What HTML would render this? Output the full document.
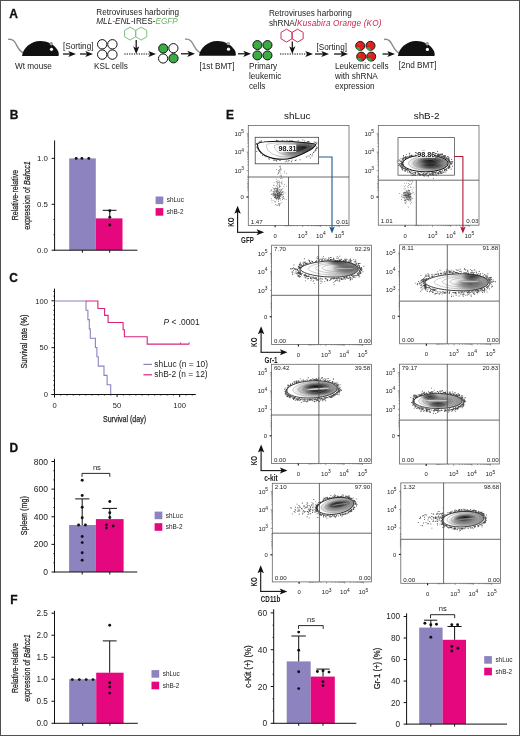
<!DOCTYPE html>
<html><head><meta charset="utf-8"><title>Figure</title>
<style>html,body{margin:0;padding:0;background:#fff;}body{width:520px;height:736px;overflow:hidden;font-family:"Liberation Sans",sans-serif;}svg{display:block;will-change:transform;}</style>
</head><body>
<svg width="520" height="736" viewBox="0 0 520 736" font-family="Liberation Sans, sans-serif"><defs><clipPath id="c1"><path d="M257.40,144.30 C257.40,142.50 267.91,141.30 283.68,141.30 C293.32,141.30 315.80,143.40 315.80,144.30 C315.80,148.80 293.32,159.30 283.68,159.30 C267.91,159.30 257.40,153.30 257.40,144.30 Z"/></clipPath><linearGradient id="l1" x1="257.4" x2="315.8" y1="0" y2="0" gradientUnits="userSpaceOnUse"><stop offset="0" stop-color="#fff"/><stop offset="0.3" stop-color="#fff"/><stop offset="1" stop-color="#8a8a8a"/></linearGradient><radialGradient id="r2"><stop offset="0" stop-color="#111" stop-opacity="1.0"/><stop offset="0.5" stop-color="#222" stop-opacity="0.70"/><stop offset="1" stop-color="#444" stop-opacity="0"/></radialGradient><radialGradient id="r3"><stop offset="0" stop-color="#111" stop-opacity="0.6"/><stop offset="0.5" stop-color="#222" stop-opacity="0.42"/><stop offset="1" stop-color="#444" stop-opacity="0"/></radialGradient><radialGradient id="r4"><stop offset="0" stop-color="#222" stop-opacity="0.3"/><stop offset="0.6" stop-color="#444" stop-opacity="0.18"/><stop offset="1" stop-color="#666" stop-opacity="0"/></radialGradient><clipPath id="c5"><path d="M402.80,163.40 C402.80,158.78 413.01,155.00 425.50,155.00 C438.03,155.00 448.20,158.76 448.20,163.40 C448.20,168.04 438.03,171.80 425.50,171.80 C413.01,171.80 402.80,168.02 402.80,163.40 Z"/></clipPath><linearGradient id="l5" x1="402.8" x2="448.2" y1="0" y2="0" gradientUnits="userSpaceOnUse"><stop offset="0" stop-color="#fff"/><stop offset="0.2" stop-color="#fff"/><stop offset="1" stop-color="#888"/></linearGradient><radialGradient id="r6"><stop offset="0" stop-color="#111" stop-opacity="1.0"/><stop offset="0.5" stop-color="#222" stop-opacity="0.70"/><stop offset="1" stop-color="#444" stop-opacity="0"/></radialGradient><radialGradient id="r7"><stop offset="0" stop-color="#111" stop-opacity="0.9"/><stop offset="0.5" stop-color="#222" stop-opacity="0.63"/><stop offset="1" stop-color="#444" stop-opacity="0"/></radialGradient><radialGradient id="r8"><stop offset="0" stop-color="#111" stop-opacity="0.6"/><stop offset="0.5" stop-color="#222" stop-opacity="0.42"/><stop offset="1" stop-color="#444" stop-opacity="0"/></radialGradient><radialGradient id="r9"><stop offset="0" stop-color="#222" stop-opacity="0.3"/><stop offset="0.6" stop-color="#444" stop-opacity="0.18"/><stop offset="1" stop-color="#666" stop-opacity="0"/></radialGradient><clipPath id="c10"><path d="M300.60,269.10 C300.60,265.41 314.45,260.90 335.22,260.90 C347.96,260.90 358.30,264.57 358.30,269.10 C358.30,273.52 347.96,277.10 335.22,277.10 C314.45,277.10 300.60,272.70 300.60,269.10 Z"/></clipPath><linearGradient id="l10" x1="300.6" x2="358.3" y1="0" y2="0" gradientUnits="userSpaceOnUse"><stop offset="0" stop-color="#fff"/><stop offset="0.4" stop-color="#fff"/><stop offset="1" stop-color="#888"/></linearGradient><radialGradient id="r11"><stop offset="0" stop-color="#111" stop-opacity="1.0"/><stop offset="0.5" stop-color="#222" stop-opacity="0.70"/><stop offset="1" stop-color="#444" stop-opacity="0"/></radialGradient><radialGradient id="r12"><stop offset="0" stop-color="#111" stop-opacity="0.6"/><stop offset="0.5" stop-color="#222" stop-opacity="0.42"/><stop offset="1" stop-color="#444" stop-opacity="0"/></radialGradient><clipPath id="c13"><path d="M425.30,282.40 C425.30,278.53 440.44,273.80 463.16,273.80 C477.09,273.80 488.40,277.65 488.40,282.40 C488.40,287.04 477.09,290.80 463.16,290.80 C440.44,290.80 425.30,286.18 425.30,282.40 Z"/></clipPath><linearGradient id="l13" x1="425.3" x2="488.4" y1="0" y2="0" gradientUnits="userSpaceOnUse"><stop offset="0" stop-color="#fff"/><stop offset="0.4" stop-color="#fff"/><stop offset="1" stop-color="#888"/></linearGradient><radialGradient id="r14"><stop offset="0" stop-color="#111" stop-opacity="1.0"/><stop offset="0.5" stop-color="#222" stop-opacity="0.70"/><stop offset="1" stop-color="#444" stop-opacity="0"/></radialGradient><radialGradient id="r15"><stop offset="0" stop-color="#111" stop-opacity="0.6"/><stop offset="0.5" stop-color="#222" stop-opacity="0.42"/><stop offset="1" stop-color="#444" stop-opacity="0"/></radialGradient><clipPath id="c16"><path d="M286.90,389.40 C286.90,384.67 298.26,380.80 312.15,380.80 C326.09,380.80 337.40,384.65 337.40,389.40 C337.40,394.15 326.09,398.00 312.15,398.00 C298.26,398.00 286.90,394.13 286.90,389.40 Z"/></clipPath><linearGradient id="l16" x1="286.9" x2="337.4" y1="0" y2="0" gradientUnits="userSpaceOnUse"><stop offset="0" stop-color="#fff"/><stop offset="0.2" stop-color="#fff"/><stop offset="1" stop-color="#8c8c8c"/></linearGradient><radialGradient id="r17"><stop offset="0" stop-color="#111" stop-opacity="1.0"/><stop offset="0.5" stop-color="#222" stop-opacity="0.70"/><stop offset="1" stop-color="#444" stop-opacity="0"/></radialGradient><radialGradient id="r18"><stop offset="0" stop-color="#111" stop-opacity="1.0"/><stop offset="0.5" stop-color="#222" stop-opacity="0.70"/><stop offset="1" stop-color="#444" stop-opacity="0"/></radialGradient><radialGradient id="r19"><stop offset="0" stop-color="#111" stop-opacity="0.55"/><stop offset="0.5" stop-color="#222" stop-opacity="0.39"/><stop offset="1" stop-color="#444" stop-opacity="0"/></radialGradient><clipPath id="c20"><path d="M414.00,401.10 C414.00,397.03 424.80,393.70 438.00,393.70 C451.25,393.70 462.00,397.02 462.00,401.10 C462.00,405.18 451.25,408.50 438.00,408.50 C424.80,408.50 414.00,405.17 414.00,401.10 Z"/></clipPath><linearGradient id="l20" x1="414.0" x2="462.0" y1="0" y2="0" gradientUnits="userSpaceOnUse"><stop offset="0" stop-color="#fff"/><stop offset="0.2" stop-color="#fff"/><stop offset="1" stop-color="#8c8c8c"/></linearGradient><radialGradient id="r21"><stop offset="0" stop-color="#111" stop-opacity="1.0"/><stop offset="0.5" stop-color="#222" stop-opacity="0.70"/><stop offset="1" stop-color="#444" stop-opacity="0"/></radialGradient><radialGradient id="r22"><stop offset="0" stop-color="#111" stop-opacity="0.95"/><stop offset="0.5" stop-color="#222" stop-opacity="0.66"/><stop offset="1" stop-color="#444" stop-opacity="0"/></radialGradient><radialGradient id="r23"><stop offset="0" stop-color="#111" stop-opacity="0.6"/><stop offset="0.5" stop-color="#222" stop-opacity="0.42"/><stop offset="1" stop-color="#444" stop-opacity="0"/></radialGradient><clipPath id="c24"><path d="M317.00,505.80 C317.00,501.40 325.32,497.80 335.50,497.80 C345.71,497.80 354.00,501.38 354.00,505.80 C354.00,510.38 345.71,514.10 335.50,514.10 C325.32,514.10 317.00,510.37 317.00,505.80 Z"/></clipPath><linearGradient id="l24" x1="317.0" x2="354.0" y1="0" y2="0" gradientUnits="userSpaceOnUse"><stop offset="0" stop-color="#fff"/><stop offset="0.2" stop-color="#fff"/><stop offset="1" stop-color="#8c8c8c"/></linearGradient><radialGradient id="r25"><stop offset="0" stop-color="#111" stop-opacity="1.0"/><stop offset="0.5" stop-color="#222" stop-opacity="0.70"/><stop offset="1" stop-color="#444" stop-opacity="0"/></radialGradient><radialGradient id="r26"><stop offset="0" stop-color="#111" stop-opacity="0.6"/><stop offset="0.5" stop-color="#222" stop-opacity="0.42"/><stop offset="1" stop-color="#444" stop-opacity="0"/></radialGradient><clipPath id="c27"><path d="M442.50,519.20 C442.50,514.97 451.84,511.50 463.25,511.50 C474.70,511.50 484.00,514.95 484.00,519.20 C484.00,523.45 474.70,526.90 463.25,526.90 C451.84,526.90 442.50,523.44 442.50,519.20 Z"/></clipPath><linearGradient id="l27" x1="442.5" x2="484.0" y1="0" y2="0" gradientUnits="userSpaceOnUse"><stop offset="0" stop-color="#fff"/><stop offset="0.2" stop-color="#fff"/><stop offset="1" stop-color="#8c8c8c"/></linearGradient><radialGradient id="r28"><stop offset="0" stop-color="#111" stop-opacity="1.0"/><stop offset="0.5" stop-color="#222" stop-opacity="0.70"/><stop offset="1" stop-color="#444" stop-opacity="0"/></radialGradient><radialGradient id="r29"><stop offset="0" stop-color="#111" stop-opacity="0.6"/><stop offset="0.5" stop-color="#222" stop-opacity="0.42"/><stop offset="1" stop-color="#444" stop-opacity="0"/></radialGradient></defs><rect x="0" y="0" width="520" height="736" fill="#fff"/><text x="9.30" y="17.70" font-size="12" text-anchor="start" font-weight="bold" fill="#111"  stroke="#111" stroke-width="0.3">A</text>
<path d="M8.1,39.4 C13,38.4 15,41.9 17,45.9 C19,49.9 21,51.9 23.5,52.9" fill="none" stroke="#8c8c8c" stroke-width="1.45" />
<path d="M22,55.9 C23,47.9 31,41.099999999999994 40,41.0 C49,40.9 55,45.9 57.5,49.9 C59,52.4 59,54.4 58.5,55.9 Z" fill="#111" stroke="none" stroke-width="1" />
<circle cx="51.30" cy="43.70" r="1.70" fill="#9a9a9a" stroke="none" stroke-width="1" />
<circle cx="51.50" cy="49.30" r="1.60" fill="#fff" stroke="none" stroke-width="1" />
<path d="M185.1,39.3 C190,38.3 192,41.8 194,45.8 C196,49.8 198,51.8 200.5,52.8" fill="none" stroke="#8c8c8c" stroke-width="1.45" />
<path d="M199,55.8 C200,47.8 208,41.0 217,40.9 C226,40.8 232,45.8 234.5,49.8 C236,52.3 236,54.3 235.5,55.8 Z" fill="#111" stroke="none" stroke-width="1" />
<circle cx="228.30" cy="43.60" r="1.70" fill="#9a9a9a" stroke="none" stroke-width="1" />
<circle cx="228.50" cy="49.20" r="1.60" fill="#fff" stroke="none" stroke-width="1" />
<path d="M384.0,39.5 C388.9,38.5 390.9,42 392.9,46 C394.9,50 396.9,52 399.4,53" fill="none" stroke="#8c8c8c" stroke-width="1.45" />
<path d="M397.9,56 C398.9,48 406.9,41.2 415.9,41.1 C424.9,41 430.9,46 433.4,50 C434.9,52.5 434.9,54.5 434.4,56 Z" fill="#111" stroke="none" stroke-width="1" />
<circle cx="427.20" cy="43.80" r="1.70" fill="#9a9a9a" stroke="none" stroke-width="1" />
<circle cx="427.40" cy="49.40" r="1.60" fill="#fff" stroke="none" stroke-width="1" />
<text x="15.00" y="68.50" font-size="8.2" text-anchor="start" font-weight="normal" fill="#222"  >Wt mouse</text>
<text x="63.00" y="49.00" font-size="8.2" text-anchor="start" font-weight="normal" fill="#222"  >[Sorting]</text>
<line x1="63.00" y1="54.00" x2="71.00" y2="54.00" stroke="#111" stroke-width="1.25" />
<path d="M76,54 L68.3,50.9 L70.2,54 L68.3,57.1 Z" fill="#111" stroke="none" stroke-width="1" />
<line x1="80.00" y1="54.00" x2="88.00" y2="54.00" stroke="#111" stroke-width="1.25" />
<path d="M93,54 L85.3,50.9 L87.2,54 L85.3,57.1 Z" fill="#111" stroke="none" stroke-width="1" />
<circle cx="102.20" cy="44.30" r="4.70" fill="#fff" stroke="#111" stroke-width="1.0" />
<circle cx="112.40" cy="44.30" r="4.70" fill="#fff" stroke="#111" stroke-width="1.0" />
<circle cx="102.20" cy="54.60" r="4.70" fill="#fff" stroke="#111" stroke-width="1.0" />
<circle cx="112.40" cy="54.60" r="4.70" fill="#fff" stroke="#111" stroke-width="1.0" />
<text x="94.00" y="69.00" font-size="8.2" text-anchor="start" font-weight="normal" fill="#222"  >KSL cells</text>
<text x="96.30" y="14.60" font-size="8.2" text-anchor="start" font-weight="normal" fill="#222"  >Retroviruses harboring</text>
<text x="96.3" y="24" font-size="8.2" fill="#222"><tspan font-style="italic">MLL-ENL</tspan>-IRES-<tspan font-style="italic" fill="#5fb55f">EGFP</tspan></text>
<path d="M130.14,40.00 L124.60,36.80 L124.60,30.40 L130.14,27.20 L135.69,30.40 L135.69,36.80 Z" fill="none" stroke="#7cc07c" stroke-width="1.0" />
<path d="M141.23,40.00 L135.69,36.80 L135.69,30.40 L141.23,27.20 L146.77,30.40 L146.77,36.80 Z" fill="none" stroke="#7cc07c" stroke-width="1.0" />
<line x1="136.20" y1="40.00" x2="136.20" y2="49.00" stroke="#111" stroke-width="1.25" />
<path d="M136.2,54 L133.1,46.3 L136.2,48.2 L139.29999999999998,46.3 Z" fill="#111" stroke="none" stroke-width="1" />
<line x1="124.30" y1="54.00" x2="150.00" y2="54.00" stroke="#111" stroke-width="1.2" stroke-dasharray="1.3,1.1"/>
<path d="M156,54 L148.3,50.9 L150.2,54 L148.3,57.1 Z" fill="#111" stroke="none" stroke-width="1" />
<circle cx="163.25" cy="48.50" r="4.60" fill="#3aad42" stroke="#111" stroke-width="1.0" />
<circle cx="173.40" cy="48.20" r="4.60" fill="#fff" stroke="#111" stroke-width="1.0" />
<circle cx="163.10" cy="58.50" r="4.60" fill="#fff" stroke="#111" stroke-width="1.0" />
<circle cx="173.50" cy="58.30" r="4.60" fill="#3aad42" stroke="#111" stroke-width="1.0" />
<line x1="181.00" y1="53.80" x2="190.00" y2="53.80" stroke="#111" stroke-width="1.25" />
<path d="M195,53.8 L187.3,50.699999999999996 L189.2,53.8 L187.3,56.9 Z" fill="#111" stroke="none" stroke-width="1" />
<text x="199.50" y="68.70" font-size="8.2" text-anchor="start" font-weight="normal" fill="#222"  >[1st BMT]</text>
<line x1="238.00" y1="53.80" x2="246.00" y2="53.80" stroke="#111" stroke-width="1.25" />
<path d="M251,53.8 L243.3,50.699999999999996 L245.2,53.8 L243.3,56.9 Z" fill="#111" stroke="none" stroke-width="1" />
<circle cx="257.40" cy="45.10" r="4.50" fill="#3aad42" stroke="#111" stroke-width="1.0" />
<circle cx="267.50" cy="45.10" r="4.50" fill="#3aad42" stroke="#111" stroke-width="1.0" />
<circle cx="257.40" cy="55.40" r="4.50" fill="#3aad42" stroke="#111" stroke-width="1.0" />
<circle cx="267.50" cy="55.40" r="4.50" fill="#3aad42" stroke="#111" stroke-width="1.0" />
<text x="249.00" y="69.40" font-size="8.2" text-anchor="start" font-weight="normal" fill="#222"  >Primary</text>
<text x="249.00" y="79.40" font-size="8.2" text-anchor="start" font-weight="normal" fill="#222"  >leukemic</text>
<text x="249.00" y="89.40" font-size="8.2" text-anchor="start" font-weight="normal" fill="#222"  >cells</text>
<text x="268.90" y="16.20" font-size="8.2" text-anchor="start" font-weight="normal" fill="#222"  >Retroviruses harboring</text>
<text x="268.9" y="25.8" font-size="8.2" fill="#222">shRNA/<tspan font-style="italic" fill="#c8244f" letter-spacing="0.15">Kusabira Orange (KO)</tspan></text>
<path d="M286.54,42.00 L281.00,38.80 L281.00,32.40 L286.54,29.20 L292.09,32.40 L292.09,38.80 Z" fill="none" stroke="#d0305a" stroke-width="1.0" />
<path d="M297.63,42.00 L292.09,38.80 L292.09,32.40 L297.63,29.20 L303.17,32.40 L303.17,38.80 Z" fill="none" stroke="#d0305a" stroke-width="1.0" />
<line x1="292.30" y1="41.50" x2="292.30" y2="49.00" stroke="#111" stroke-width="1.25" />
<path d="M292.3,54 L289.2,46.3 L292.3,48.2 L295.40000000000003,46.3 Z" fill="#111" stroke="none" stroke-width="1" />
<line x1="280.00" y1="54.00" x2="307.00" y2="54.00" stroke="#111" stroke-width="1.2" stroke-dasharray="1.3,1.1"/>
<path d="M313,54 L305.3,50.9 L307.2,54 L305.3,57.1 Z" fill="#111" stroke="none" stroke-width="1" />
<text x="316.50" y="49.80" font-size="8.2" text-anchor="start" font-weight="normal" fill="#222"  >[Sorting]</text>
<line x1="315.00" y1="54.00" x2="324.00" y2="54.00" stroke="#111" stroke-width="1.25" />
<path d="M329,54 L321.3,50.9 L323.2,54 L321.3,57.1 Z" fill="#111" stroke="none" stroke-width="1" />
<line x1="334.00" y1="54.00" x2="343.00" y2="54.00" stroke="#111" stroke-width="1.25" />
<path d="M348,54 L340.3,50.9 L342.2,54 L340.3,57.1 Z" fill="#111" stroke="none" stroke-width="1" />
<circle cx="360.20" cy="45.90" r="4.50" fill="#e21d1d" stroke="#1a1a1a" stroke-width="1" />
<path d="M359.2,47.1 L355.9,47.5 A4.5,4.5 0 0 0 361.0,50.3 Z" fill="#2aa84a" stroke="none" stroke-width="1" />
<circle cx="358.70" cy="43.70" r="1.30" fill="#b86a2a" stroke="none" stroke-width="1" opacity="0.5"/>
<circle cx="370.50" cy="45.80" r="4.50" fill="#e21d1d" stroke="#1a1a1a" stroke-width="1" />
<path d="M369.5,47.0 L366.2,47.4 A4.5,4.5 0 0 0 371.3,50.199999999999996 Z" fill="#2aa84a" stroke="none" stroke-width="1" />
<circle cx="369.00" cy="43.60" r="1.30" fill="#b86a2a" stroke="none" stroke-width="1" opacity="0.5"/>
<circle cx="361.20" cy="56.60" r="4.50" fill="#e21d1d" stroke="#1a1a1a" stroke-width="1" />
<path d="M360.2,57.800000000000004 L356.9,58.2 A4.5,4.5 0 0 0 362.0,61.0 Z" fill="#2aa84a" stroke="none" stroke-width="1" />
<circle cx="359.70" cy="54.40" r="1.30" fill="#b86a2a" stroke="none" stroke-width="1" opacity="0.5"/>
<circle cx="371.20" cy="56.60" r="4.50" fill="#e21d1d" stroke="#1a1a1a" stroke-width="1" />
<path d="M370.2,57.800000000000004 L366.9,58.2 A4.5,4.5 0 0 0 372.0,61.0 Z" fill="#2aa84a" stroke="none" stroke-width="1" />
<circle cx="369.70" cy="54.40" r="1.30" fill="#b86a2a" stroke="none" stroke-width="1" opacity="0.5"/>
<text x="335.00" y="68.80" font-size="8.2" text-anchor="start" font-weight="normal" fill="#222"  >Leukemic cells</text>
<text x="335.00" y="79.10" font-size="8.2" text-anchor="start" font-weight="normal" fill="#222"  >with shRNA</text>
<text x="335.00" y="89.20" font-size="8.2" text-anchor="start" font-weight="normal" fill="#222"  >expression</text>
<line x1="382.50" y1="54.00" x2="390.00" y2="54.00" stroke="#111" stroke-width="1.25" />
<path d="M395,54 L387.3,50.9 L389.2,54 L387.3,57.1 Z" fill="#111" stroke="none" stroke-width="1" />
<text x="398.80" y="67.60" font-size="8.2" text-anchor="start" font-weight="normal" fill="#222"  >[2nd BMT]</text>
<text x="9.80" y="118.70" font-size="12" text-anchor="start" font-weight="bold" fill="#111"  stroke="#111" stroke-width="0.3">B</text>
<rect x="69.20" y="158.40" width="26.60" height="91.80" fill="#8d83be" stroke="none" stroke-width="1" />
<rect x="95.80" y="218.40" width="26.70" height="31.80" fill="#e4077e" stroke="none" stroke-width="1" />
<line x1="54.60" y1="140.40" x2="54.60" y2="250.70" stroke="#111" stroke-width="1" />
<line x1="51.60" y1="158.40" x2="54.60" y2="158.40" stroke="#111" stroke-width="1" />
<text x="48.00" y="161.24" font-size="7.9" text-anchor="end" font-weight="normal" fill="#222"  >1.0</text>
<line x1="51.60" y1="204.30" x2="54.60" y2="204.30" stroke="#111" stroke-width="1" />
<text x="48.00" y="207.14" font-size="7.9" text-anchor="end" font-weight="normal" fill="#222"  >0.5</text>
<line x1="51.60" y1="250.20" x2="54.60" y2="250.20" stroke="#111" stroke-width="1" />
<text x="48.00" y="253.04" font-size="7.9" text-anchor="end" font-weight="normal" fill="#222"  >0.0</text>
<line x1="53.30" y1="219.50" x2="54.60" y2="219.50" stroke="#111" stroke-width="0.7" />
<line x1="53.30" y1="234.80" x2="54.60" y2="234.80" stroke="#111" stroke-width="0.7" />
<line x1="54.10" y1="250.20" x2="137.40" y2="250.20" stroke="#111" stroke-width="1" />
<line x1="82.40" y1="250.20" x2="82.40" y2="252.70" stroke="#111" stroke-width="1" />
<line x1="109.70" y1="250.20" x2="109.70" y2="252.70" stroke="#111" stroke-width="1" />
<circle cx="76.20" cy="158.40" r="1.45" fill="#111" stroke="none" stroke-width="1" />
<circle cx="81.90" cy="158.40" r="1.45" fill="#111" stroke="none" stroke-width="1" />
<circle cx="88.80" cy="158.40" r="1.45" fill="#111" stroke="none" stroke-width="1" />
<line x1="109.80" y1="210.30" x2="109.80" y2="218.40" stroke="#111" stroke-width="1" />
<line x1="102.70" y1="210.30" x2="116.50" y2="210.30" stroke="#111" stroke-width="1" />
<circle cx="109.80" cy="210.80" r="1.45" fill="#111" stroke="none" stroke-width="1" />
<circle cx="109.80" cy="217.20" r="1.45" fill="#111" stroke="none" stroke-width="1" />
<circle cx="109.80" cy="225.00" r="1.45" fill="#111" stroke="none" stroke-width="1" />
<text transform="translate(17.90,195.10) rotate(-90)" font-size="9.6" text-anchor="middle" fill="#222" stroke="#222" stroke-width="0.25" textLength="50.5" lengthAdjust="spacingAndGlyphs">Relative-relative</text>
<text transform="translate(29.60,195.40) rotate(-90)" font-size="9.6" text-anchor="middle" fill="#222" stroke="#222" stroke-width="0.25" textLength="68.5" lengthAdjust="spacingAndGlyphs">expression of <tspan font-style="italic">Bahcc1</tspan></text>
<rect x="155.60" y="196.50" width="7.70" height="7.60" fill="#8d83be" stroke="none" stroke-width="1" />
<text x="166.80" y="202.40" font-size="6.4" text-anchor="start" font-weight="normal" fill="#222"  >shLuc</text>
<rect x="155.60" y="208.10" width="7.70" height="7.60" fill="#e4077e" stroke="none" stroke-width="1" />
<text x="166.80" y="214.00" font-size="6.4" text-anchor="start" font-weight="normal" fill="#222"  >shB-2</text>
<text x="9.30" y="281.70" font-size="12" text-anchor="start" font-weight="bold" fill="#111"  stroke="#111" stroke-width="0.3">C</text>
<line x1="54.50" y1="288.60" x2="54.50" y2="397.50" stroke="#111" stroke-width="1" />
<line x1="51.50" y1="300.80" x2="54.50" y2="300.80" stroke="#111" stroke-width="1" />
<text x="47.90" y="303.50" font-size="7.6" text-anchor="end" font-weight="normal" fill="#222"  >100</text>
<line x1="51.50" y1="347.65" x2="54.50" y2="347.65" stroke="#111" stroke-width="1" />
<text x="47.90" y="350.35" font-size="7.6" text-anchor="end" font-weight="normal" fill="#222"  >50</text>
<line x1="51.50" y1="394.50" x2="54.50" y2="394.50" stroke="#111" stroke-width="1" />
<text x="47.90" y="397.20" font-size="7.6" text-anchor="end" font-weight="normal" fill="#222"  >0</text>
<line x1="53.20" y1="389.81" x2="54.50" y2="389.81" stroke="#111" stroke-width="0.7" />
<line x1="53.20" y1="385.13" x2="54.50" y2="385.13" stroke="#111" stroke-width="0.7" />
<line x1="53.20" y1="380.44" x2="54.50" y2="380.44" stroke="#111" stroke-width="0.7" />
<line x1="53.20" y1="375.76" x2="54.50" y2="375.76" stroke="#111" stroke-width="0.7" />
<line x1="53.20" y1="371.07" x2="54.50" y2="371.07" stroke="#111" stroke-width="0.7" />
<line x1="53.20" y1="366.39" x2="54.50" y2="366.39" stroke="#111" stroke-width="0.7" />
<line x1="53.20" y1="361.70" x2="54.50" y2="361.70" stroke="#111" stroke-width="0.7" />
<line x1="53.20" y1="357.02" x2="54.50" y2="357.02" stroke="#111" stroke-width="0.7" />
<line x1="53.20" y1="352.34" x2="54.50" y2="352.34" stroke="#111" stroke-width="0.7" />
<line x1="53.20" y1="342.97" x2="54.50" y2="342.97" stroke="#111" stroke-width="0.7" />
<line x1="53.20" y1="338.28" x2="54.50" y2="338.28" stroke="#111" stroke-width="0.7" />
<line x1="53.20" y1="333.60" x2="54.50" y2="333.60" stroke="#111" stroke-width="0.7" />
<line x1="53.20" y1="328.91" x2="54.50" y2="328.91" stroke="#111" stroke-width="0.7" />
<line x1="53.20" y1="324.23" x2="54.50" y2="324.23" stroke="#111" stroke-width="0.7" />
<line x1="53.20" y1="319.54" x2="54.50" y2="319.54" stroke="#111" stroke-width="0.7" />
<line x1="53.20" y1="314.86" x2="54.50" y2="314.86" stroke="#111" stroke-width="0.7" />
<line x1="53.20" y1="310.17" x2="54.50" y2="310.17" stroke="#111" stroke-width="0.7" />
<line x1="53.20" y1="305.49" x2="54.50" y2="305.49" stroke="#111" stroke-width="0.7" />
<line x1="53.20" y1="296.12" x2="54.50" y2="296.12" stroke="#111" stroke-width="0.7" />
<line x1="53.20" y1="291.43" x2="54.50" y2="291.43" stroke="#111" stroke-width="0.7" />
<line x1="51.50" y1="394.50" x2="195.80" y2="394.50" stroke="#111" stroke-width="1" />
<line x1="54.50" y1="394.50" x2="54.50" y2="397.10" stroke="#111" stroke-width="1" />
<line x1="60.76" y1="394.50" x2="60.76" y2="395.80" stroke="#111" stroke-width="0.6" />
<line x1="67.02" y1="394.50" x2="67.02" y2="395.80" stroke="#111" stroke-width="0.6" />
<line x1="73.28" y1="394.50" x2="73.28" y2="395.80" stroke="#111" stroke-width="0.6" />
<line x1="79.54" y1="394.50" x2="79.54" y2="395.80" stroke="#111" stroke-width="0.6" />
<line x1="85.80" y1="394.50" x2="85.80" y2="395.80" stroke="#111" stroke-width="0.6" />
<line x1="92.06" y1="394.50" x2="92.06" y2="395.80" stroke="#111" stroke-width="0.6" />
<line x1="98.32" y1="394.50" x2="98.32" y2="395.80" stroke="#111" stroke-width="0.6" />
<line x1="104.58" y1="394.50" x2="104.58" y2="395.80" stroke="#111" stroke-width="0.6" />
<line x1="110.84" y1="394.50" x2="110.84" y2="395.80" stroke="#111" stroke-width="0.6" />
<line x1="117.10" y1="394.50" x2="117.10" y2="397.10" stroke="#111" stroke-width="1" />
<line x1="123.36" y1="394.50" x2="123.36" y2="395.80" stroke="#111" stroke-width="0.6" />
<line x1="129.62" y1="394.50" x2="129.62" y2="395.80" stroke="#111" stroke-width="0.6" />
<line x1="135.88" y1="394.50" x2="135.88" y2="395.80" stroke="#111" stroke-width="0.6" />
<line x1="142.14" y1="394.50" x2="142.14" y2="395.80" stroke="#111" stroke-width="0.6" />
<line x1="148.40" y1="394.50" x2="148.40" y2="395.80" stroke="#111" stroke-width="0.6" />
<line x1="154.66" y1="394.50" x2="154.66" y2="395.80" stroke="#111" stroke-width="0.6" />
<line x1="160.92" y1="394.50" x2="160.92" y2="395.80" stroke="#111" stroke-width="0.6" />
<line x1="167.18" y1="394.50" x2="167.18" y2="395.80" stroke="#111" stroke-width="0.6" />
<line x1="173.44" y1="394.50" x2="173.44" y2="395.80" stroke="#111" stroke-width="0.6" />
<line x1="179.70" y1="394.50" x2="179.70" y2="397.10" stroke="#111" stroke-width="1" />
<line x1="185.96" y1="394.50" x2="185.96" y2="395.80" stroke="#111" stroke-width="0.6" />
<line x1="192.22" y1="394.50" x2="192.22" y2="395.80" stroke="#111" stroke-width="0.6" />
<text x="54.50" y="408.10" font-size="7.6" text-anchor="middle" font-weight="normal" fill="#222"  >0</text>
<text x="117.10" y="408.10" font-size="7.6" text-anchor="middle" font-weight="normal" fill="#222"  >50</text>
<text x="179.70" y="408.10" font-size="7.6" text-anchor="middle" font-weight="normal" fill="#222"  >100</text>
<path d="M54.6,301 H86 V310.3 H87.9 V319.6 H89.3 V328.9 H90.3 V338.2 H95.4 V347.5 H96.9 V356.8 H98.3 V366.1 H104 V375.4 H107.1 V384.7 H110.7 V394.3" fill="none" stroke="#8a84bd" stroke-width="1.1" />
<path d="M86,301 H97.9 V308.5 H104.6 V315.4 H108.1 V322.5 H123.1 V329.8 H124.4 V336.7 H147.2 V344.1 H189.2" fill="none" stroke="#d9237d" stroke-width="1.1" />
<line x1="180.60" y1="344.10" x2="180.60" y2="342.30" stroke="#d9237d" stroke-width="0.8" />
<line x1="189.20" y1="344.10" x2="189.20" y2="342.30" stroke="#d9237d" stroke-width="0.8" />
<text x="163.6" y="324.8" font-size="8.4" fill="#222"><tspan font-style="italic">P</tspan> &lt; .0001</text>
<line x1="143.40" y1="364.40" x2="152.00" y2="364.40" stroke="#8a84bd" stroke-width="1.2" />
<text x="154.30" y="366.90" font-size="8.4" text-anchor="start" font-weight="normal" fill="#222"  >shLuc (n = 10)</text>
<line x1="143.40" y1="374.80" x2="152.00" y2="374.80" stroke="#d9237d" stroke-width="1.2" />
<text x="154.30" y="377.30" font-size="8.4" text-anchor="start" font-weight="normal" fill="#222"  >shB-2 (n = 12)</text>
<text transform="translate(26.80,341.60) rotate(-90)" font-size="9.6" text-anchor="middle" fill="#222" stroke="#222" stroke-width="0.25" textLength="54" lengthAdjust="spacingAndGlyphs">Survival rate (%)</text>
<text x="124.50" y="422.30" font-size="9.8" text-anchor="middle" font-weight="normal" fill="#222" textLength="43" lengthAdjust="spacingAndGlyphs" stroke="#222" stroke-width="0.25">Survival (day)</text>
<text x="9.60" y="452.10" font-size="12" text-anchor="start" font-weight="bold" fill="#111"  stroke="#111" stroke-width="0.3">D</text>
<rect x="69.10" y="525.00" width="26.80" height="47.00" fill="#8d83be" stroke="none" stroke-width="1" />
<rect x="95.90" y="519.10" width="27.70" height="52.90" fill="#e4077e" stroke="none" stroke-width="1" />
<line x1="54.50" y1="458.80" x2="54.50" y2="572.50" stroke="#111" stroke-width="1" />
<line x1="51.50" y1="461.50" x2="54.50" y2="461.50" stroke="#111" stroke-width="1" />
<text x="47.90" y="464.56" font-size="8.5" text-anchor="end" font-weight="normal" fill="#222"  >800</text>
<line x1="51.50" y1="489.12" x2="54.50" y2="489.12" stroke="#111" stroke-width="1" />
<text x="47.90" y="492.19" font-size="8.5" text-anchor="end" font-weight="normal" fill="#222"  >600</text>
<line x1="51.50" y1="516.75" x2="54.50" y2="516.75" stroke="#111" stroke-width="1" />
<text x="47.90" y="519.81" font-size="8.5" text-anchor="end" font-weight="normal" fill="#222"  >400</text>
<line x1="51.50" y1="544.38" x2="54.50" y2="544.38" stroke="#111" stroke-width="1" />
<text x="47.90" y="547.43" font-size="8.5" text-anchor="end" font-weight="normal" fill="#222"  >200</text>
<line x1="51.50" y1="572.00" x2="54.50" y2="572.00" stroke="#111" stroke-width="1" />
<text x="47.90" y="575.06" font-size="8.5" text-anchor="end" font-weight="normal" fill="#222"  >0</text>
<line x1="53.20" y1="562.79" x2="54.50" y2="562.79" stroke="#111" stroke-width="0.7" />
<line x1="53.20" y1="553.58" x2="54.50" y2="553.58" stroke="#111" stroke-width="0.7" />
<line x1="53.20" y1="535.17" x2="54.50" y2="535.17" stroke="#111" stroke-width="0.7" />
<line x1="53.20" y1="525.96" x2="54.50" y2="525.96" stroke="#111" stroke-width="0.7" />
<line x1="53.20" y1="507.54" x2="54.50" y2="507.54" stroke="#111" stroke-width="0.7" />
<line x1="53.20" y1="498.33" x2="54.50" y2="498.33" stroke="#111" stroke-width="0.7" />
<line x1="53.20" y1="479.92" x2="54.50" y2="479.92" stroke="#111" stroke-width="0.7" />
<line x1="53.20" y1="470.71" x2="54.50" y2="470.71" stroke="#111" stroke-width="0.7" />
<line x1="54.00" y1="572.00" x2="137.30" y2="572.00" stroke="#111" stroke-width="1" />
<line x1="82.20" y1="572.00" x2="82.20" y2="574.50" stroke="#111" stroke-width="1" />
<line x1="109.80" y1="572.00" x2="109.80" y2="574.50" stroke="#111" stroke-width="1" />
<line x1="82.20" y1="498.90" x2="82.20" y2="525.00" stroke="#111" stroke-width="1" />
<line x1="75.20" y1="498.90" x2="89.40" y2="498.90" stroke="#111" stroke-width="1" />
<circle cx="82.20" cy="480.20" r="1.45" fill="#111" stroke="none" stroke-width="1" />
<circle cx="82.20" cy="495.50" r="1.45" fill="#111" stroke="none" stroke-width="1" />
<circle cx="82.20" cy="507.30" r="1.45" fill="#111" stroke="none" stroke-width="1" />
<circle cx="82.20" cy="517.80" r="1.45" fill="#111" stroke="none" stroke-width="1" />
<circle cx="78.60" cy="525.00" r="1.45" fill="#111" stroke="none" stroke-width="1" />
<circle cx="85.40" cy="525.00" r="1.45" fill="#111" stroke="none" stroke-width="1" />
<circle cx="82.20" cy="536.50" r="1.45" fill="#111" stroke="none" stroke-width="1" />
<circle cx="82.20" cy="542.60" r="1.45" fill="#111" stroke="none" stroke-width="1" />
<circle cx="82.20" cy="552.80" r="1.45" fill="#111" stroke="none" stroke-width="1" />
<circle cx="82.20" cy="560.20" r="1.45" fill="#111" stroke="none" stroke-width="1" />
<line x1="109.80" y1="508.40" x2="109.80" y2="519.10" stroke="#111" stroke-width="1" />
<line x1="102.30" y1="508.40" x2="117.00" y2="508.40" stroke="#111" stroke-width="1" />
<circle cx="109.80" cy="501.50" r="1.45" fill="#111" stroke="none" stroke-width="1" />
<circle cx="109.80" cy="512.70" r="1.45" fill="#111" stroke="none" stroke-width="1" />
<circle cx="109.80" cy="517.50" r="1.45" fill="#111" stroke="none" stroke-width="1" />
<circle cx="106.40" cy="525.00" r="1.45" fill="#111" stroke="none" stroke-width="1" />
<circle cx="106.40" cy="528.10" r="1.45" fill="#111" stroke="none" stroke-width="1" />
<circle cx="113.20" cy="526.00" r="1.45" fill="#111" stroke="none" stroke-width="1" />
<path d="M82,476.8 V473.4 H109.8 V476.8" fill="none" stroke="#111" stroke-width="0.9" />
<text x="96.90" y="469.80" font-size="7.6" text-anchor="middle" font-weight="normal" fill="#222"  >ns</text>
<text transform="translate(26.60,515.70) rotate(-90)" font-size="9.6" text-anchor="middle" fill="#222" stroke="#222" stroke-width="0.25" textLength="39" lengthAdjust="spacingAndGlyphs">Spleen (mg)</text>
<rect x="154.60" y="511.60" width="7.70" height="7.60" fill="#8d83be" stroke="none" stroke-width="1" />
<text x="165.80" y="517.50" font-size="6.4" text-anchor="start" font-weight="normal" fill="#222"  >shLuc</text>
<rect x="154.60" y="523.20" width="7.70" height="7.60" fill="#e4077e" stroke="none" stroke-width="1" />
<text x="165.80" y="529.10" font-size="6.4" text-anchor="start" font-weight="normal" fill="#222"  >shB-2</text>
<text x="10.20" y="604.40" font-size="12" text-anchor="start" font-weight="bold" fill="#111"  stroke="#111" stroke-width="0.3">F</text>
<rect x="69.20" y="679.26" width="27.00" height="44.04" fill="#8d83be" stroke="none" stroke-width="1" />
<rect x="96.20" y="672.70" width="27.40" height="50.60" fill="#e4077e" stroke="none" stroke-width="1" />
<line x1="54.50" y1="610.80" x2="54.50" y2="723.80" stroke="#111" stroke-width="1" />
<line x1="51.50" y1="613.20" x2="54.50" y2="613.20" stroke="#111" stroke-width="1" />
<text x="47.90" y="616.15" font-size="8.2" text-anchor="end" font-weight="normal" fill="#222"  >2.5</text>
<line x1="51.50" y1="635.22" x2="54.50" y2="635.22" stroke="#111" stroke-width="1" />
<text x="47.90" y="638.17" font-size="8.2" text-anchor="end" font-weight="normal" fill="#222"  >2.0</text>
<line x1="51.50" y1="657.24" x2="54.50" y2="657.24" stroke="#111" stroke-width="1" />
<text x="47.90" y="660.19" font-size="8.2" text-anchor="end" font-weight="normal" fill="#222"  >1.5</text>
<line x1="51.50" y1="679.26" x2="54.50" y2="679.26" stroke="#111" stroke-width="1" />
<text x="47.90" y="682.21" font-size="8.2" text-anchor="end" font-weight="normal" fill="#222"  >1.0</text>
<line x1="51.50" y1="701.28" x2="54.50" y2="701.28" stroke="#111" stroke-width="1" />
<text x="47.90" y="704.23" font-size="8.2" text-anchor="end" font-weight="normal" fill="#222"  >0.5</text>
<line x1="51.50" y1="723.30" x2="54.50" y2="723.30" stroke="#111" stroke-width="1" />
<text x="47.90" y="726.25" font-size="8.2" text-anchor="end" font-weight="normal" fill="#222"  >0.0</text>
<line x1="54.00" y1="723.30" x2="137.80" y2="723.30" stroke="#111" stroke-width="1" />
<line x1="82.70" y1="723.30" x2="82.70" y2="725.80" stroke="#111" stroke-width="1" />
<line x1="109.90" y1="723.30" x2="109.90" y2="725.80" stroke="#111" stroke-width="1" />
<circle cx="72.30" cy="679.60" r="1.45" fill="#111" stroke="none" stroke-width="1" />
<circle cx="79.30" cy="679.60" r="1.45" fill="#111" stroke="none" stroke-width="1" />
<circle cx="86.20" cy="679.60" r="1.45" fill="#111" stroke="none" stroke-width="1" />
<circle cx="93.00" cy="679.60" r="1.45" fill="#111" stroke="none" stroke-width="1" />
<line x1="109.70" y1="640.90" x2="109.70" y2="672.70" stroke="#111" stroke-width="1" />
<line x1="102.80" y1="640.90" x2="116.60" y2="640.90" stroke="#111" stroke-width="1" />
<circle cx="109.70" cy="625.30" r="1.45" fill="#111" stroke="none" stroke-width="1" />
<circle cx="109.70" cy="682.80" r="1.45" fill="#111" stroke="none" stroke-width="1" />
<circle cx="109.70" cy="686.90" r="1.45" fill="#111" stroke="none" stroke-width="1" />
<circle cx="109.70" cy="693.10" r="1.45" fill="#111" stroke="none" stroke-width="1" />
<text transform="translate(17.90,667.90) rotate(-90)" font-size="9.6" text-anchor="middle" fill="#222" stroke="#222" stroke-width="0.25" textLength="50.2" lengthAdjust="spacingAndGlyphs">Relative-relative</text>
<text transform="translate(29.60,668.00) rotate(-90)" font-size="9.6" text-anchor="middle" fill="#222" stroke="#222" stroke-width="0.25" textLength="67.4" lengthAdjust="spacingAndGlyphs">expression of <tspan font-style="italic">Bahcc1</tspan></text>
<rect x="151.50" y="670.10" width="7.70" height="7.60" fill="#8d83be" stroke="none" stroke-width="1" />
<text x="162.70" y="676.00" font-size="6.4" text-anchor="start" font-weight="normal" fill="#222"  >shLuc</text>
<rect x="151.50" y="681.70" width="7.70" height="7.60" fill="#e4077e" stroke="none" stroke-width="1" />
<text x="162.70" y="687.60" font-size="6.4" text-anchor="start" font-weight="normal" fill="#222"  >shB-2</text>
<text x="226.00" y="118.90" font-size="12" text-anchor="start" font-weight="bold" fill="#111"  stroke="#111" stroke-width="0.3">E</text>
<text x="297.30" y="119.20" font-size="9.9" text-anchor="middle" font-weight="normal" fill="#111"  >shLuc</text>
<text x="426.60" y="119.20" font-size="9.9" text-anchor="middle" font-weight="normal" fill="#111"  >shB-2</text>
<rect x="248.30" y="125.50" width="100.70" height="99.90" fill="none" stroke="#666" stroke-width="0.8" />
<line x1="248.30" y1="177.00" x2="349.00" y2="177.00" stroke="#444" stroke-width="0.8" />
<line x1="288.50" y1="177.00" x2="288.50" y2="225.40" stroke="#444" stroke-width="0.8" />
<text x="244.10" y="136.10" font-size="6.2" text-anchor="end" fill="#222">10<tspan font-size="4.9" dy="-2.7">5</tspan></text>
<text x="244.10" y="154.40" font-size="6.2" text-anchor="end" fill="#222">10<tspan font-size="4.9" dy="-2.7">4</tspan></text>
<text x="244.10" y="172.90" font-size="6.2" text-anchor="end" fill="#222">10<tspan font-size="4.9" dy="-2.7">3</tspan></text>
<text x="243.90" y="199.30" font-size="5.9" text-anchor="end" font-weight="normal" fill="#222"  >0</text>
<path d="M246.7,133.8h1.6M246.7,152.1h1.6M246.7,170.6h1.6M247.4,146.6h0.9M247.4,143.4h0.9M247.4,141.1h0.9M247.4,139.3h0.9M247.4,137.9h0.9M247.4,136.6h0.9M247.4,135.6h0.9M247.4,134.6h0.9M247.4,165.0h0.9M247.4,161.8h0.9M247.4,159.5h0.9M247.4,157.7h0.9M247.4,156.2h0.9M247.4,155.0h0.9M247.4,153.9h0.9M247.4,152.9h0.9M247.4,176.2h0.9M247.4,179.4h0.9M247.4,181.7h0.9M247.4,183.5h0.9M247.4,185.0h0.9M247.4,186.2h0.9M247.4,187.3h0.9M247.4,188.3h0.9M247.4,190.4h0.9M247.4,183.8h0.9M247.4,177.2h0.9" stroke="#555" stroke-width="0.6" fill="none"/>
<line x1="246.40" y1="197.00" x2="248.30" y2="197.00" stroke="#111" stroke-width="1.1" />
<text x="275.10" y="237.70" font-size="5.9" text-anchor="middle" font-weight="normal" fill="#222"  >0</text>
<text x="302.60" y="237.70" font-size="6.2" text-anchor="middle" fill="#222">10<tspan font-size="4.9" dy="-2.7">3</tspan></text>
<text x="320.80" y="237.70" font-size="6.2" text-anchor="middle" fill="#222">10<tspan font-size="4.9" dy="-2.7">4</tspan></text>
<text x="339.30" y="237.70" font-size="6.2" text-anchor="middle" fill="#222">10<tspan font-size="4.9" dy="-2.7">5</tspan></text>
<path d="M308.1,225.4v0.9M311.3,225.4v0.9M313.6,225.4v0.9M315.3,225.4v0.9M316.8,225.4v0.9M318.0,225.4v0.9M319.0,225.4v0.9M320.0,225.4v0.9M326.4,225.4v0.9M329.6,225.4v0.9M331.9,225.4v0.9M333.7,225.4v0.9M335.2,225.4v0.9M336.4,225.4v0.9M337.5,225.4v0.9M338.5,225.4v0.9M297.1,225.4v0.9M293.9,225.4v0.9M291.6,225.4v0.9M289.9,225.4v0.9M288.4,225.4v0.9M287.2,225.4v0.9M286.2,225.4v0.9M285.2,225.4v0.9M302.6,225.4v1.6M320.8,225.4v1.6M339.3,225.4v1.6" stroke="#555" stroke-width="0.6" fill="none"/>
<line x1="275.10" y1="225.40" x2="275.10" y2="227.30" stroke="#111" stroke-width="1.1" />
<text x="250.70" y="223.60" font-size="6.2" text-anchor="start" font-weight="normal" fill="#222"  >1.47</text>
<text x="348.40" y="223.60" font-size="6.2" text-anchor="end" font-weight="normal" fill="#222"  >0.01</text>
<rect x="255.20" y="137.30" width="63.40" height="26.50" fill="none" stroke="#444" stroke-width="0.8" />
<g >
<path d="M274.1,159.7h0.9v0.9h-0.9zM286.0,160.5h0.9v0.9h-0.9zM315.9,148.2h0.9v0.9h-0.9zM260.1,151.7h0.9v0.9h-0.9zM275.9,160.2h0.9v0.9h-0.9zM262.8,154.2h0.9v0.9h-0.9zM315.2,149.0h0.9v0.9h-0.9zM308.7,155.4h0.9v0.9h-0.9zM279.7,160.1h0.9v0.9h-0.9zM315.5,149.8h0.9v0.9h-0.9zM294.8,160.1h0.9v0.9h-0.9zM261.3,141.8h0.9v0.9h-0.9zM277.5,159.4h0.9v0.9h-0.9zM260.3,141.6h0.9v0.9h-0.9zM307.4,140.9h0.9v0.9h-0.9zM309.8,157.5h0.9v0.9h-0.9zM287.5,161.4h0.9v0.9h-0.9zM289.3,140.3h0.9v0.9h-0.9zM307.4,141.1h0.9v0.9h-0.9zM260.6,141.0h0.9v0.9h-0.9zM302.4,139.6h0.9v0.9h-0.9zM314.4,150.4h0.9v0.9h-0.9zM268.9,140.9h0.9v0.9h-0.9zM263.9,155.3h0.9v0.9h-0.9zM316.3,146.6h0.9v0.9h-0.9zM314.7,150.4h0.9v0.9h-0.9zM295.6,159.5h0.9v0.9h-0.9zM258.1,149.5h0.9v0.9h-0.9zM308.4,141.1h0.9v0.9h-0.9zM260.6,152.8h0.9v0.9h-0.9zM308.5,141.3h0.9v0.9h-0.9zM287.9,160.4h0.9v0.9h-0.9zM316.8,147.2h0.9v0.9h-0.9zM259.7,142.0h0.9v0.9h-0.9zM275.9,139.7h0.9v0.9h-0.9zM315.5,150.2h0.9v0.9h-0.9zM292.1,140.4h0.9v0.9h-0.9zM275.4,159.8h0.9v0.9h-0.9zM308.6,155.4h0.9v0.9h-0.9zM311.9,153.6h0.9v0.9h-0.9zM311.6,155.5h0.9v0.9h-0.9zM305.9,156.6h0.9v0.9h-0.9zM269.1,158.5h0.9v0.9h-0.9zM317.6,143.4h0.9v0.9h-0.9zM313.8,151.4h0.9v0.9h-0.9zM316.3,148.0h0.9v0.9h-0.9zM314.9,142.1h0.9v0.9h-0.9zM316.9,147.4h0.9v0.9h-0.9zM316.1,143.2h0.9v0.9h-0.9zM265.6,156.3h0.9v0.9h-0.9zM257.6,142.8h0.9v0.9h-0.9zM297.7,140.3h0.9v0.9h-0.9zM304.3,140.6h0.9v0.9h-0.9zM291.0,161.3h0.9v0.9h-0.9zM315.7,148.0h0.9v0.9h-0.9zM276.2,140.1h0.9v0.9h-0.9zM256.3,151.0h0.9v0.9h-0.9zM307.4,155.7h0.9v0.9h-0.9zM276.1,160.6h0.9v0.9h-0.9zM255.9,146.7h0.9v0.9h-0.9zM273.2,159.8h0.9v0.9h-0.9zM286.6,139.7h0.9v0.9h-0.9zM299.6,159.3h0.9v0.9h-0.9zM316.4,141.8h0.9v0.9h-0.9zM262.4,153.6h0.9v0.9h-0.9zM259.0,151.2h0.9v0.9h-0.9zM262.0,155.0h0.9v0.9h-0.9zM269.1,157.2h0.9v0.9h-0.9zM257.0,148.3h0.9v0.9h-0.9zM313.7,141.5h0.9v0.9h-0.9zM306.9,141.3h0.9v0.9h-0.9zM279.3,160.2h0.9v0.9h-0.9zM284.8,161.4h0.9v0.9h-0.9zM268.0,158.4h0.9v0.9h-0.9zM260.8,140.2h0.9v0.9h-0.9zM255.7,144.1h0.9v0.9h-0.9zM291.6,159.7h0.9v0.9h-0.9zM288.8,159.9h0.9v0.9h-0.9zM282.0,140.2h0.9v0.9h-0.9zM258.7,141.6h0.9v0.9h-0.9zM309.9,154.1h0.9v0.9h-0.9zM290.7,139.9h0.9v0.9h-0.9zM259.2,141.6h0.9v0.9h-0.9zM264.3,141.2h0.9v0.9h-0.9zM256.0,143.0h0.9v0.9h-0.9zM256.7,146.6h0.9v0.9h-0.9zM277.4,140.1h0.9v0.9h-0.9zM259.2,142.3h0.9v0.9h-0.9zM313.0,152.1h0.9v0.9h-0.9zM272.9,158.3h0.9v0.9h-0.9z" fill="#222" opacity="0.8"/>
<path d="M257.40,144.30 C257.40,142.50 267.91,141.30 283.68,141.30 C293.32,141.30 315.80,143.40 315.80,144.30 C315.80,148.80 293.32,159.30 283.68,159.30 C267.91,159.30 257.40,153.30 257.40,144.30 Z" fill="url(#l1)" stroke="none"/>
<g clip-path="url(#c1)">
<ellipse cx="304.0" cy="147.5" rx="13.0" ry="7.0" fill="url(#r2)"/>
<ellipse cx="296.0" cy="151.0" rx="17.0" ry="8.0" fill="url(#r3)"/>
<path d="M266.32,145.04 C266.32,143.60 274.73,142.64 287.34,142.64 C295.05,142.64 313.04,144.32 313.04,145.04 C313.04,148.64 295.05,157.04 287.34,157.04 C274.73,157.04 266.32,152.24 266.32,145.04 Z" fill="none" stroke="#888" stroke-width="0.45"/>
<path d="M274.35,145.71 C274.35,144.59 280.87,143.85 290.64,143.85 C296.62,143.85 310.56,145.15 310.56,145.71 C310.56,148.50 296.62,155.01 290.64,155.01 C280.87,155.01 274.35,151.29 274.35,145.71 Z" fill="none" stroke="#888" stroke-width="0.45"/>
<path d="M281.93,146.34 C281.93,145.53 286.66,144.99 293.76,144.99 C298.09,144.99 308.21,145.93 308.21,146.34 C308.21,148.36 298.09,153.09 293.76,153.09 C286.66,153.09 281.93,150.39 281.93,146.34 Z" fill="none" stroke="#888" stroke-width="0.45"/>
</g>
<path d="M257.40,144.30 C257.40,142.50 267.91,141.30 283.68,141.30 C293.32,141.30 315.80,143.40 315.80,144.30 C315.80,148.80 293.32,159.30 283.68,159.30 C267.91,159.30 257.40,153.30 257.40,144.30 Z" fill="none" stroke="#111" stroke-width="1.1"/>
</g>
<ellipse cx="277.3" cy="194.0" rx="5.5" ry="7.5" fill="url(#r4)"/>
<path d="M278.7,184.8h0.7v0.7h-0.7zM280.2,199.8h0.7v0.7h-0.7zM276.3,191.9h0.7v0.7h-0.7zM283.5,186.3h0.7v0.7h-0.7zM278.8,204.7h0.7v0.7h-0.7zM274.3,197.0h0.7v0.7h-0.7zM283.3,193.5h0.7v0.7h-0.7zM279.1,198.0h0.7v0.7h-0.7zM274.4,193.6h0.7v0.7h-0.7zM278.2,197.6h0.7v0.7h-0.7zM277.2,193.1h0.7v0.7h-0.7zM274.0,192.4h0.7v0.7h-0.7zM280.2,194.4h0.7v0.7h-0.7zM274.6,190.3h0.7v0.7h-0.7zM285.8,199.0h0.7v0.7h-0.7zM279.3,182.6h0.7v0.7h-0.7zM279.3,196.1h0.7v0.7h-0.7zM282.7,195.9h0.7v0.7h-0.7zM277.1,196.3h0.7v0.7h-0.7zM271.1,198.5h0.7v0.7h-0.7zM278.3,190.9h0.7v0.7h-0.7zM281.5,202.0h0.7v0.7h-0.7zM272.8,191.1h0.7v0.7h-0.7zM278.2,194.8h0.7v0.7h-0.7zM276.0,189.7h0.7v0.7h-0.7zM284.1,198.6h0.7v0.7h-0.7zM273.5,188.1h0.7v0.7h-0.7zM282.8,198.4h0.7v0.7h-0.7zM283.1,197.6h0.7v0.7h-0.7zM274.5,195.1h0.7v0.7h-0.7zM270.4,190.7h0.7v0.7h-0.7zM277.1,196.3h0.7v0.7h-0.7zM275.0,193.5h0.7v0.7h-0.7zM278.8,195.7h0.7v0.7h-0.7zM279.3,194.9h0.7v0.7h-0.7zM276.3,197.5h0.7v0.7h-0.7zM277.5,190.4h0.7v0.7h-0.7zM275.3,194.0h0.7v0.7h-0.7zM276.9,194.7h0.7v0.7h-0.7zM277.3,194.8h0.7v0.7h-0.7zM276.9,188.5h0.7v0.7h-0.7zM278.6,198.6h0.7v0.7h-0.7zM278.7,193.2h0.7v0.7h-0.7zM278.7,189.8h0.7v0.7h-0.7zM271.2,194.3h0.7v0.7h-0.7zM274.3,197.3h0.7v0.7h-0.7zM273.8,182.4h0.7v0.7h-0.7zM274.0,200.9h0.7v0.7h-0.7zM276.1,188.0h0.7v0.7h-0.7zM274.9,196.3h0.7v0.7h-0.7zM278.9,194.8h0.7v0.7h-0.7zM282.0,197.1h0.7v0.7h-0.7zM277.2,196.6h0.7v0.7h-0.7zM282.6,198.3h0.7v0.7h-0.7zM280.6,189.2h0.7v0.7h-0.7zM276.8,197.2h0.7v0.7h-0.7zM276.4,198.7h0.7v0.7h-0.7zM279.2,198.0h0.7v0.7h-0.7zM276.6,205.2h0.7v0.7h-0.7zM281.3,193.1h0.7v0.7h-0.7zM277.6,205.4h0.7v0.7h-0.7zM276.2,197.8h0.7v0.7h-0.7zM280.4,194.0h0.7v0.7h-0.7zM273.6,194.8h0.7v0.7h-0.7zM278.5,199.0h0.7v0.7h-0.7zM279.8,194.1h0.7v0.7h-0.7zM280.0,196.4h0.7v0.7h-0.7zM278.0,194.2h0.7v0.7h-0.7zM276.5,197.0h0.7v0.7h-0.7zM273.9,191.2h0.7v0.7h-0.7zM277.3,187.6h0.7v0.7h-0.7zM275.9,185.2h0.7v0.7h-0.7zM275.1,196.5h0.7v0.7h-0.7zM279.1,193.8h0.7v0.7h-0.7zM276.6,187.8h0.7v0.7h-0.7zM283.1,196.3h0.7v0.7h-0.7zM280.8,190.1h0.7v0.7h-0.7zM276.7,186.0h0.7v0.7h-0.7zM279.8,198.1h0.7v0.7h-0.7zM271.2,193.8h0.7v0.7h-0.7zM279.3,186.2h0.7v0.7h-0.7zM271.5,189.3h0.7v0.7h-0.7zM275.3,187.8h0.7v0.7h-0.7zM277.4,195.1h0.7v0.7h-0.7zM279.3,197.1h0.7v0.7h-0.7zM282.1,199.1h0.7v0.7h-0.7zM273.1,191.8h0.7v0.7h-0.7zM273.9,189.3h0.7v0.7h-0.7zM277.0,194.0h0.7v0.7h-0.7zM278.9,187.0h0.7v0.7h-0.7zM273.3,193.9h0.7v0.7h-0.7zM276.7,192.6h0.7v0.7h-0.7zM277.1,190.7h0.7v0.7h-0.7zM279.5,195.6h0.7v0.7h-0.7zM277.0,191.0h0.7v0.7h-0.7zM276.7,182.0h0.7v0.7h-0.7zM274.2,194.2h0.7v0.7h-0.7zM272.5,194.9h0.7v0.7h-0.7zM277.8,187.9h0.7v0.7h-0.7zM276.5,192.6h0.7v0.7h-0.7zM278.8,196.7h0.7v0.7h-0.7zM277.2,190.3h0.7v0.7h-0.7zM276.8,193.7h0.7v0.7h-0.7zM279.7,195.3h0.7v0.7h-0.7zM275.0,188.0h0.7v0.7h-0.7zM276.1,190.7h0.7v0.7h-0.7zM273.7,193.5h0.7v0.7h-0.7zM275.7,194.5h0.7v0.7h-0.7zM279.0,192.2h0.7v0.7h-0.7zM284.7,192.6h0.7v0.7h-0.7zM280.8,194.5h0.7v0.7h-0.7zM280.9,183.5h0.7v0.7h-0.7zM274.9,195.1h0.7v0.7h-0.7zM279.2,204.3h0.7v0.7h-0.7zM278.3,199.6h0.7v0.7h-0.7zM279.8,198.2h0.7v0.7h-0.7zM278.9,193.3h0.7v0.7h-0.7zM278.9,189.3h0.7v0.7h-0.7zM281.1,189.5h0.7v0.7h-0.7zM278.1,203.3h0.7v0.7h-0.7zM276.6,194.1h0.7v0.7h-0.7zM281.0,194.1h0.7v0.7h-0.7zM274.7,195.1h0.7v0.7h-0.7zM279.2,197.1h0.7v0.7h-0.7zM274.8,201.7h0.7v0.7h-0.7zM282.6,194.1h0.7v0.7h-0.7zM278.2,192.1h0.7v0.7h-0.7zM281.8,190.9h0.7v0.7h-0.7zM279.5,191.9h0.7v0.7h-0.7zM275.1,197.2h0.7v0.7h-0.7zM281.6,194.0h0.7v0.7h-0.7zM275.1,197.6h0.7v0.7h-0.7zM277.1,195.4h0.7v0.7h-0.7zM282.2,199.0h0.7v0.7h-0.7zM275.6,204.0h0.7v0.7h-0.7zM277.3,197.5h0.7v0.7h-0.7zM275.2,193.8h0.7v0.7h-0.7zM271.7,201.9h0.7v0.7h-0.7zM281.7,188.7h0.7v0.7h-0.7zM272.5,186.9h0.7v0.7h-0.7zM281.1,192.0h0.7v0.7h-0.7zM277.1,192.6h0.7v0.7h-0.7zM276.9,189.2h0.7v0.7h-0.7zM277.4,187.7h0.7v0.7h-0.7zM277.1,195.4h0.7v0.7h-0.7zM278.8,193.0h0.7v0.7h-0.7zM274.4,194.7h0.7v0.7h-0.7zM275.7,200.9h0.7v0.7h-0.7zM279.8,193.5h0.7v0.7h-0.7zM275.8,190.9h0.7v0.7h-0.7zM274.3,192.4h0.7v0.7h-0.7zM278.2,196.3h0.7v0.7h-0.7zM279.1,203.2h0.7v0.7h-0.7zM275.0,194.1h0.7v0.7h-0.7zM286.2,185.8h0.7v0.7h-0.7zM275.6,194.7h0.7v0.7h-0.7zM277.8,195.8h0.7v0.7h-0.7zM276.5,195.6h0.7v0.7h-0.7zM277.5,197.4h0.7v0.7h-0.7zM271.2,190.1h0.7v0.7h-0.7zM277.3,189.5h0.7v0.7h-0.7zM274.0,196.8h0.7v0.7h-0.7zM275.2,196.8h0.7v0.7h-0.7zM279.7,195.3h0.7v0.7h-0.7zM278.9,193.5h0.7v0.7h-0.7zM272.8,193.9h0.7v0.7h-0.7zM278.8,191.7h0.7v0.7h-0.7zM277.0,197.3h0.7v0.7h-0.7zM274.5,196.8h0.7v0.7h-0.7zM283.3,191.6h0.7v0.7h-0.7zM277.8,193.3h0.7v0.7h-0.7zM282.2,195.4h0.7v0.7h-0.7zM280.2,191.0h0.7v0.7h-0.7zM277.2,194.0h0.7v0.7h-0.7zM271.6,200.3h0.7v0.7h-0.7zM280.2,186.3h0.7v0.7h-0.7zM279.7,193.4h0.7v0.7h-0.7zM278.7,195.6h0.7v0.7h-0.7zM272.5,193.1h0.7v0.7h-0.7zM282.1,191.5h0.7v0.7h-0.7zM274.0,188.0h0.7v0.7h-0.7zM273.4,195.5h0.7v0.7h-0.7zM282.7,195.9h0.7v0.7h-0.7zM278.1,203.8h0.7v0.7h-0.7zM275.6,191.0h0.7v0.7h-0.7zM279.0,196.4h0.7v0.7h-0.7zM274.1,188.9h0.7v0.7h-0.7zM278.2,195.1h0.7v0.7h-0.7zM273.1,193.1h0.7v0.7h-0.7zM275.6,196.0h0.7v0.7h-0.7zM276.9,193.6h0.7v0.7h-0.7zM276.2,198.6h0.7v0.7h-0.7zM281.8,192.4h0.7v0.7h-0.7zM280.0,190.7h0.7v0.7h-0.7zM277.5,197.3h0.7v0.7h-0.7zM282.1,192.3h0.7v0.7h-0.7zM277.1,194.9h0.7v0.7h-0.7zM272.5,194.1h0.7v0.7h-0.7zM275.1,195.6h0.7v0.7h-0.7zM273.7,185.3h0.7v0.7h-0.7zM277.4,195.1h0.7v0.7h-0.7zM275.5,197.9h0.7v0.7h-0.7zM276.4,191.3h0.7v0.7h-0.7zM278.8,187.1h0.7v0.7h-0.7zM275.1,193.9h0.7v0.7h-0.7zM280.0,193.3h0.7v0.7h-0.7zM278.3,191.1h0.7v0.7h-0.7zM278.3,201.3h0.7v0.7h-0.7zM275.1,204.4h0.7v0.7h-0.7zM275.2,194.1h0.7v0.7h-0.7zM277.9,198.5h0.7v0.7h-0.7zM273.3,184.8h0.7v0.7h-0.7zM279.2,197.5h0.7v0.7h-0.7zM279.3,205.6h0.7v0.7h-0.7zM278.0,195.1h0.7v0.7h-0.7zM280.3,195.6h0.7v0.7h-0.7zM282.6,188.6h0.7v0.7h-0.7zM276.1,178.8h0.7v0.7h-0.7zM279.9,192.4h0.7v0.7h-0.7zM280.3,203.5h0.7v0.7h-0.7zM277.3,192.9h0.7v0.7h-0.7zM275.7,190.3h0.7v0.7h-0.7zM275.3,196.8h0.7v0.7h-0.7zM277.4,194.3h0.7v0.7h-0.7zM276.7,198.0h0.7v0.7h-0.7zM278.9,193.4h0.7v0.7h-0.7zM279.4,193.3h0.7v0.7h-0.7zM273.6,200.4h0.7v0.7h-0.7zM278.8,189.8h0.7v0.7h-0.7zM280.8,195.5h0.7v0.7h-0.7zM276.1,169.1h0.7v0.7h-0.7zM284.0,172.6h0.7v0.7h-0.7zM280.5,173.6h0.7v0.7h-0.7zM279.6,182.0h0.7v0.7h-0.7zM280.1,165.7h0.7v0.7h-0.7zM279.3,166.3h0.7v0.7h-0.7zM281.7,180.7h0.7v0.7h-0.7zM279.1,183.9h0.7v0.7h-0.7zM278.9,185.1h0.7v0.7h-0.7zM281.7,178.0h0.7v0.7h-0.7zM279.7,171.6h0.7v0.7h-0.7zM284.0,170.8h0.7v0.7h-0.7zM284.2,184.2h0.7v0.7h-0.7zM280.1,178.3h0.7v0.7h-0.7zM280.5,169.9h0.7v0.7h-0.7zM279.8,175.0h0.7v0.7h-0.7zM286.0,173.1h0.7v0.7h-0.7zM278.3,170.3h0.7v0.7h-0.7zM277.4,184.5h0.7v0.7h-0.7zM281.2,168.8h0.7v0.7h-0.7zM281.3,182.3h0.7v0.7h-0.7zM276.1,181.2h0.7v0.7h-0.7zM278.3,171.7h0.7v0.7h-0.7zM278.6,172.6h0.7v0.7h-0.7zM280.2,169.1h0.7v0.7h-0.7zM279.0,180.8h0.7v0.7h-0.7zM280.0,165.7h0.7v0.7h-0.7zM280.9,176.6h0.7v0.7h-0.7zM276.8,183.6h0.7v0.7h-0.7zM286.2,185.7h0.7v0.7h-0.7zM279.9,167.0h0.7v0.7h-0.7zM281.0,175.5h0.7v0.7h-0.7zM279.3,169.9h0.7v0.7h-0.7zM277.4,173.8h0.7v0.7h-0.7zM277.3,180.7h0.7v0.7h-0.7zM277.4,182.8h0.7v0.7h-0.7zM279.3,182.7h0.7v0.7h-0.7zM278.9,171.2h0.7v0.7h-0.7zM277.8,180.5h0.7v0.7h-0.7zM279.0,169.2h0.7v0.7h-0.7zM280.0,168.2h0.7v0.7h-0.7zM281.9,183.6h0.7v0.7h-0.7zM278.0,173.3h0.7v0.7h-0.7zM279.0,185.8h0.7v0.7h-0.7zM278.2,182.0h0.7v0.7h-0.7z" fill="#222" opacity="0.75"/>
<rect x="278.60" y="144.60" width="17.60" height="7.20" fill="#fff" stroke="none" stroke-width="1" />
<text x="287.40" y="150.70" font-size="7.2" text-anchor="middle" font-weight="bold" fill="#111"  >98.31</text>
<rect x="378.30" y="125.50" width="100.70" height="99.70" fill="none" stroke="#666" stroke-width="0.8" />
<line x1="378.30" y1="180.20" x2="479.00" y2="180.20" stroke="#444" stroke-width="0.8" />
<line x1="416.30" y1="180.20" x2="416.30" y2="225.20" stroke="#444" stroke-width="0.8" />
<text x="374.10" y="136.10" font-size="6.2" text-anchor="end" fill="#222">10<tspan font-size="4.9" dy="-2.7">5</tspan></text>
<text x="374.10" y="154.40" font-size="6.2" text-anchor="end" fill="#222">10<tspan font-size="4.9" dy="-2.7">4</tspan></text>
<text x="374.10" y="172.90" font-size="6.2" text-anchor="end" fill="#222">10<tspan font-size="4.9" dy="-2.7">3</tspan></text>
<text x="373.90" y="199.30" font-size="5.9" text-anchor="end" font-weight="normal" fill="#222"  >0</text>
<path d="M376.7,133.8h1.6M376.7,152.1h1.6M376.7,170.6h1.6M377.4,146.6h0.9M377.4,143.4h0.9M377.4,141.1h0.9M377.4,139.3h0.9M377.4,137.9h0.9M377.4,136.6h0.9M377.4,135.6h0.9M377.4,134.6h0.9M377.4,165.0h0.9M377.4,161.8h0.9M377.4,159.5h0.9M377.4,157.7h0.9M377.4,156.2h0.9M377.4,155.0h0.9M377.4,153.9h0.9M377.4,152.9h0.9M377.4,176.2h0.9M377.4,179.4h0.9M377.4,181.7h0.9M377.4,183.5h0.9M377.4,185.0h0.9M377.4,186.2h0.9M377.4,187.3h0.9M377.4,188.3h0.9M377.4,190.4h0.9M377.4,183.8h0.9M377.4,177.2h0.9" stroke="#555" stroke-width="0.6" fill="none"/>
<line x1="376.40" y1="197.00" x2="378.30" y2="197.00" stroke="#111" stroke-width="1.1" />
<text x="405.10" y="237.50" font-size="5.9" text-anchor="middle" font-weight="normal" fill="#222"  >0</text>
<text x="432.60" y="237.50" font-size="6.2" text-anchor="middle" fill="#222">10<tspan font-size="4.9" dy="-2.7">3</tspan></text>
<text x="450.80" y="237.50" font-size="6.2" text-anchor="middle" fill="#222">10<tspan font-size="4.9" dy="-2.7">4</tspan></text>
<text x="469.30" y="237.50" font-size="6.2" text-anchor="middle" fill="#222">10<tspan font-size="4.9" dy="-2.7">5</tspan></text>
<path d="M438.1,225.2v0.9M441.3,225.2v0.9M443.6,225.2v0.9M445.3,225.2v0.9M446.8,225.2v0.9M448.0,225.2v0.9M449.0,225.2v0.9M450.0,225.2v0.9M456.4,225.2v0.9M459.6,225.2v0.9M461.9,225.2v0.9M463.7,225.2v0.9M465.2,225.2v0.9M466.4,225.2v0.9M467.5,225.2v0.9M468.5,225.2v0.9M427.1,225.2v0.9M423.9,225.2v0.9M421.6,225.2v0.9M419.9,225.2v0.9M418.4,225.2v0.9M417.2,225.2v0.9M416.2,225.2v0.9M415.2,225.2v0.9M432.6,225.2v1.6M450.8,225.2v1.6M469.3,225.2v1.6" stroke="#555" stroke-width="0.6" fill="none"/>
<line x1="405.10" y1="225.20" x2="405.10" y2="227.10" stroke="#111" stroke-width="1.1" />
<text x="380.70" y="223.40" font-size="6.2" text-anchor="start" font-weight="normal" fill="#222"  >1.01</text>
<text x="478.40" y="223.40" font-size="6.2" text-anchor="end" font-weight="normal" fill="#222"  >0.03</text>
<rect x="398.00" y="137.60" width="56.40" height="37.60" fill="none" stroke="#555" stroke-width="0.8" />
<g >
<path d="M412.4,155.9h0.9v0.9h-0.9zM444.6,170.2h0.9v0.9h-0.9zM446.9,156.0h0.9v0.9h-0.9zM419.1,173.8h0.9v0.9h-0.9zM403.1,155.0h0.9v0.9h-0.9zM409.1,171.2h0.9v0.9h-0.9zM429.5,154.1h0.9v0.9h-0.9zM444.0,169.9h0.9v0.9h-0.9zM409.6,170.9h0.9v0.9h-0.9zM432.3,174.1h0.9v0.9h-0.9zM432.3,173.5h0.9v0.9h-0.9zM414.7,172.0h0.9v0.9h-0.9zM432.3,173.4h0.9v0.9h-0.9zM402.3,159.6h0.9v0.9h-0.9zM402.7,159.7h0.9v0.9h-0.9zM445.2,169.0h0.9v0.9h-0.9zM420.6,173.9h0.9v0.9h-0.9zM448.9,159.6h0.9v0.9h-0.9zM405.2,168.7h0.9v0.9h-0.9zM449.7,163.1h0.9v0.9h-0.9zM432.4,174.7h0.9v0.9h-0.9zM444.6,157.3h0.9v0.9h-0.9zM443.2,155.7h0.9v0.9h-0.9zM438.0,173.5h0.9v0.9h-0.9zM445.4,157.7h0.9v0.9h-0.9zM408.6,156.1h0.9v0.9h-0.9zM420.7,172.2h0.9v0.9h-0.9zM448.0,156.6h0.9v0.9h-0.9zM448.4,161.3h0.9v0.9h-0.9zM442.3,171.8h0.9v0.9h-0.9zM447.6,166.8h0.9v0.9h-0.9zM407.0,171.6h0.9v0.9h-0.9zM438.3,173.3h0.9v0.9h-0.9zM429.6,174.1h0.9v0.9h-0.9zM435.3,174.3h0.9v0.9h-0.9zM406.6,169.5h0.9v0.9h-0.9zM425.9,173.0h0.9v0.9h-0.9zM445.1,155.4h0.9v0.9h-0.9zM449.0,166.3h0.9v0.9h-0.9zM443.4,171.8h0.9v0.9h-0.9zM417.5,172.6h0.9v0.9h-0.9zM404.9,157.9h0.9v0.9h-0.9zM403.0,168.2h0.9v0.9h-0.9zM408.5,156.9h0.9v0.9h-0.9zM430.0,151.6h0.9v0.9h-0.9zM435.4,172.3h0.9v0.9h-0.9zM404.2,167.9h0.9v0.9h-0.9zM402.2,168.6h0.9v0.9h-0.9zM445.9,168.6h0.9v0.9h-0.9zM429.6,152.6h0.9v0.9h-0.9zM408.7,170.4h0.9v0.9h-0.9zM441.4,173.0h0.9v0.9h-0.9zM434.6,155.0h0.9v0.9h-0.9zM452.2,161.1h0.9v0.9h-0.9zM437.4,172.2h0.9v0.9h-0.9zM447.5,158.0h0.9v0.9h-0.9zM438.5,173.3h0.9v0.9h-0.9zM421.8,173.6h0.9v0.9h-0.9zM446.6,157.5h0.9v0.9h-0.9zM423.6,172.6h0.9v0.9h-0.9zM435.1,172.1h0.9v0.9h-0.9zM447.4,159.0h0.9v0.9h-0.9zM430.5,154.0h0.9v0.9h-0.9zM400.7,160.5h0.9v0.9h-0.9zM401.8,158.2h0.9v0.9h-0.9zM443.4,154.9h0.9v0.9h-0.9zM407.3,169.2h0.9v0.9h-0.9zM423.3,173.8h0.9v0.9h-0.9zM427.6,153.7h0.9v0.9h-0.9zM436.2,174.6h0.9v0.9h-0.9zM425.0,173.4h0.9v0.9h-0.9zM449.4,162.2h0.9v0.9h-0.9zM450.1,163.6h0.9v0.9h-0.9zM439.6,172.6h0.9v0.9h-0.9zM444.1,157.0h0.9v0.9h-0.9zM428.8,172.4h0.9v0.9h-0.9zM411.4,170.6h0.9v0.9h-0.9zM410.6,172.5h0.9v0.9h-0.9zM432.1,173.2h0.9v0.9h-0.9zM401.4,165.4h0.9v0.9h-0.9zM439.2,171.2h0.9v0.9h-0.9zM410.5,156.1h0.9v0.9h-0.9zM423.4,174.1h0.9v0.9h-0.9zM411.0,154.8h0.9v0.9h-0.9zM402.3,168.2h0.9v0.9h-0.9zM423.1,154.0h0.9v0.9h-0.9zM402.5,161.3h0.9v0.9h-0.9zM427.3,172.4h0.9v0.9h-0.9zM403.3,160.2h0.9v0.9h-0.9zM440.4,172.1h0.9v0.9h-0.9zM410.7,155.0h0.9v0.9h-0.9zM436.0,171.6h0.9v0.9h-0.9zM443.4,157.0h0.9v0.9h-0.9zM420.4,153.0h0.9v0.9h-0.9zM400.8,166.8h0.9v0.9h-0.9zM402.6,166.9h0.9v0.9h-0.9zM448.7,166.2h0.9v0.9h-0.9zM425.4,152.8h0.9v0.9h-0.9zM423.1,174.6h0.9v0.9h-0.9zM403.3,168.2h0.9v0.9h-0.9zM411.0,156.1h0.9v0.9h-0.9zM430.3,173.6h0.9v0.9h-0.9zM427.5,172.5h0.9v0.9h-0.9zM448.5,158.9h0.9v0.9h-0.9zM414.0,174.5h0.9v0.9h-0.9zM445.2,157.5h0.9v0.9h-0.9zM450.8,161.3h0.9v0.9h-0.9zM438.0,154.6h0.9v0.9h-0.9zM421.8,153.0h0.9v0.9h-0.9zM417.3,172.3h0.9v0.9h-0.9zM445.3,158.0h0.9v0.9h-0.9zM449.7,165.7h0.9v0.9h-0.9zM440.1,171.2h0.9v0.9h-0.9zM449.4,167.0h0.9v0.9h-0.9zM423.5,152.4h0.9v0.9h-0.9zM405.4,157.2h0.9v0.9h-0.9zM444.6,154.9h0.9v0.9h-0.9zM441.3,155.9h0.9v0.9h-0.9zM431.8,172.4h0.9v0.9h-0.9zM449.0,166.0h0.9v0.9h-0.9zM436.4,153.1h0.9v0.9h-0.9zM420.0,174.6h0.9v0.9h-0.9zM432.1,173.8h0.9v0.9h-0.9zM405.0,167.8h0.9v0.9h-0.9zM420.5,153.2h0.9v0.9h-0.9zM415.0,174.9h0.9v0.9h-0.9zM408.5,157.1h0.9v0.9h-0.9zM405.7,168.5h0.9v0.9h-0.9zM418.9,153.2h0.9v0.9h-0.9zM430.5,174.9h0.9v0.9h-0.9zM436.9,173.1h0.9v0.9h-0.9zM432.3,172.2h0.9v0.9h-0.9zM402.2,164.0h0.9v0.9h-0.9zM432.3,153.2h0.9v0.9h-0.9zM436.8,155.4h0.9v0.9h-0.9zM447.7,159.7h0.9v0.9h-0.9zM399.6,163.6h0.9v0.9h-0.9zM410.3,155.9h0.9v0.9h-0.9zM431.0,152.0h0.9v0.9h-0.9zM410.5,173.4h0.9v0.9h-0.9zM446.5,170.2h0.9v0.9h-0.9zM448.8,165.1h0.9v0.9h-0.9zM398.4,163.2h0.9v0.9h-0.9zM443.5,155.3h0.9v0.9h-0.9zM426.1,153.9h0.9v0.9h-0.9zM411.4,155.7h0.9v0.9h-0.9zM438.4,154.9h0.9v0.9h-0.9zM424.3,151.6h0.9v0.9h-0.9zM404.6,158.0h0.9v0.9h-0.9zM402.9,165.8h0.9v0.9h-0.9zM418.1,173.1h0.9v0.9h-0.9zM438.4,155.1h0.9v0.9h-0.9zM414.7,172.5h0.9v0.9h-0.9zM438.1,172.8h0.9v0.9h-0.9zM422.2,150.1h0.9v0.9h-0.9zM451.2,159.1h0.9v0.9h-0.9zM432.2,151.4h0.9v0.9h-0.9zM403.9,167.6h0.9v0.9h-0.9zM431.8,172.7h0.9v0.9h-0.9zM448.8,165.8h0.9v0.9h-0.9zM399.6,163.3h0.9v0.9h-0.9zM401.7,166.4h0.9v0.9h-0.9zM424.2,153.3h0.9v0.9h-0.9zM404.6,167.5h0.9v0.9h-0.9zM428.7,174.2h0.9v0.9h-0.9zM442.7,156.1h0.9v0.9h-0.9zM415.1,152.0h0.9v0.9h-0.9zM402.8,166.5h0.9v0.9h-0.9zM405.0,168.4h0.9v0.9h-0.9zM420.2,154.6h0.9v0.9h-0.9zM401.8,167.2h0.9v0.9h-0.9zM405.6,169.3h0.9v0.9h-0.9zM412.4,155.4h0.9v0.9h-0.9zM407.7,169.8h0.9v0.9h-0.9zM403.1,160.7h0.9v0.9h-0.9zM430.1,153.8h0.9v0.9h-0.9zM404.8,159.0h0.9v0.9h-0.9zM420.7,152.5h0.9v0.9h-0.9zM400.1,161.2h0.9v0.9h-0.9zM448.0,159.8h0.9v0.9h-0.9zM427.4,152.8h0.9v0.9h-0.9zM449.9,162.1h0.9v0.9h-0.9zM406.7,169.3h0.9v0.9h-0.9zM405.1,168.4h0.9v0.9h-0.9zM423.3,173.9h0.9v0.9h-0.9zM424.2,153.2h0.9v0.9h-0.9zM432.8,154.6h0.9v0.9h-0.9zM431.0,172.7h0.9v0.9h-0.9zM409.2,153.6h0.9v0.9h-0.9zM403.0,158.6h0.9v0.9h-0.9zM410.6,156.0h0.9v0.9h-0.9zM434.9,154.5h0.9v0.9h-0.9zM442.5,171.9h0.9v0.9h-0.9zM411.4,170.8h0.9v0.9h-0.9zM425.0,174.1h0.9v0.9h-0.9zM434.5,172.0h0.9v0.9h-0.9zM426.2,173.8h0.9v0.9h-0.9zM400.8,165.2h0.9v0.9h-0.9zM410.0,172.2h0.9v0.9h-0.9zM440.0,154.4h0.9v0.9h-0.9zM430.6,151.2h0.9v0.9h-0.9zM436.8,155.2h0.9v0.9h-0.9zM447.6,160.5h0.9v0.9h-0.9zM425.5,173.2h0.9v0.9h-0.9zM429.3,153.5h0.9v0.9h-0.9zM438.8,171.1h0.9v0.9h-0.9zM443.8,156.6h0.9v0.9h-0.9zM430.2,152.1h0.9v0.9h-0.9zM438.1,153.8h0.9v0.9h-0.9zM417.4,154.8h0.9v0.9h-0.9zM443.2,155.5h0.9v0.9h-0.9zM423.4,173.7h0.9v0.9h-0.9zM448.2,168.0h0.9v0.9h-0.9zM440.3,172.7h0.9v0.9h-0.9zM440.5,156.4h0.9v0.9h-0.9zM438.4,153.4h0.9v0.9h-0.9zM438.1,154.8h0.9v0.9h-0.9zM404.1,169.9h0.9v0.9h-0.9zM410.1,155.4h0.9v0.9h-0.9zM407.2,156.2h0.9v0.9h-0.9zM449.2,162.1h0.9v0.9h-0.9zM399.7,165.0h0.9v0.9h-0.9zM409.1,156.3h0.9v0.9h-0.9zM441.0,154.4h0.9v0.9h-0.9zM428.5,154.1h0.9v0.9h-0.9zM402.3,169.5h0.9v0.9h-0.9zM419.3,173.2h0.9v0.9h-0.9zM406.4,169.0h0.9v0.9h-0.9zM450.4,161.0h0.9v0.9h-0.9zM431.5,154.1h0.9v0.9h-0.9zM405.1,157.4h0.9v0.9h-0.9zM430.4,154.0h0.9v0.9h-0.9zM400.4,158.4h0.9v0.9h-0.9zM418.2,173.4h0.9v0.9h-0.9zM406.1,154.2h0.9v0.9h-0.9zM431.2,152.8h0.9v0.9h-0.9zM408.9,155.4h0.9v0.9h-0.9zM406.3,157.6h0.9v0.9h-0.9zM401.1,167.4h0.9v0.9h-0.9zM445.3,171.6h0.9v0.9h-0.9zM445.7,158.0h0.9v0.9h-0.9zM409.7,170.6h0.9v0.9h-0.9zM424.3,174.6h0.9v0.9h-0.9zM403.9,169.7h0.9v0.9h-0.9zM447.3,158.7h0.9v0.9h-0.9zM402.9,157.7h0.9v0.9h-0.9zM403.7,157.3h0.9v0.9h-0.9zM402.3,167.8h0.9v0.9h-0.9zM447.9,158.6h0.9v0.9h-0.9zM400.7,165.7h0.9v0.9h-0.9zM431.0,173.7h0.9v0.9h-0.9zM449.0,164.5h0.9v0.9h-0.9zM448.9,160.9h0.9v0.9h-0.9zM442.1,154.1h0.9v0.9h-0.9zM426.6,172.7h0.9v0.9h-0.9zM434.4,172.2h0.9v0.9h-0.9zM440.4,153.6h0.9v0.9h-0.9zM445.7,168.6h0.9v0.9h-0.9zM447.8,158.0h0.9v0.9h-0.9zM448.4,161.1h0.9v0.9h-0.9zM412.1,156.0h0.9v0.9h-0.9zM445.8,168.0h0.9v0.9h-0.9zM440.6,155.4h0.9v0.9h-0.9zM448.2,168.1h0.9v0.9h-0.9zM415.2,154.4h0.9v0.9h-0.9zM432.4,153.3h0.9v0.9h-0.9zM404.4,169.7h0.9v0.9h-0.9zM430.7,154.1h0.9v0.9h-0.9zM419.2,174.3h0.9v0.9h-0.9zM449.1,161.5h0.9v0.9h-0.9zM406.8,156.4h0.9v0.9h-0.9zM436.9,154.8h0.9v0.9h-0.9zM443.8,155.8h0.9v0.9h-0.9zM416.0,152.6h0.9v0.9h-0.9zM420.6,174.1h0.9v0.9h-0.9zM423.5,175.1h0.9v0.9h-0.9zM443.7,155.9h0.9v0.9h-0.9zM437.3,154.0h0.9v0.9h-0.9zM422.0,174.0h0.9v0.9h-0.9zM433.7,153.6h0.9v0.9h-0.9zM445.8,168.9h0.9v0.9h-0.9zM432.2,154.8h0.9v0.9h-0.9zM427.9,176.4h0.9v0.9h-0.9zM415.4,154.9h0.9v0.9h-0.9zM425.7,153.1h0.9v0.9h-0.9zM402.2,166.4h0.9v0.9h-0.9zM428.1,175.2h0.9v0.9h-0.9zM444.7,156.0h0.9v0.9h-0.9zM405.8,158.2h0.9v0.9h-0.9zM433.7,172.3h0.9v0.9h-0.9zM403.2,158.4h0.9v0.9h-0.9zM396.8,160.7h0.9v0.9h-0.9zM408.8,171.5h0.9v0.9h-0.9zM409.6,155.4h0.9v0.9h-0.9zM412.1,172.8h0.9v0.9h-0.9zM451.9,165.8h0.9v0.9h-0.9zM402.1,164.3h0.9v0.9h-0.9zM423.7,176.2h0.9v0.9h-0.9zM428.1,152.6h0.9v0.9h-0.9zM449.1,160.6h0.9v0.9h-0.9zM435.2,171.9h0.9v0.9h-0.9zM448.5,167.3h0.9v0.9h-0.9zM448.4,159.3h0.9v0.9h-0.9zM447.2,167.7h0.9v0.9h-0.9zM448.4,160.6h0.9v0.9h-0.9zM402.6,157.7h0.9v0.9h-0.9zM407.2,169.8h0.9v0.9h-0.9zM438.1,172.3h0.9v0.9h-0.9zM448.1,165.8h0.9v0.9h-0.9zM411.0,173.4h0.9v0.9h-0.9zM449.1,167.4h0.9v0.9h-0.9zM419.7,154.1h0.9v0.9h-0.9zM439.6,170.7h0.9v0.9h-0.9zM447.5,159.3h0.9v0.9h-0.9zM426.7,152.2h0.9v0.9h-0.9zM415.0,172.9h0.9v0.9h-0.9zM437.0,172.7h0.9v0.9h-0.9zM440.6,173.2h0.9v0.9h-0.9zM433.3,172.1h0.9v0.9h-0.9zM448.2,156.7h0.9v0.9h-0.9zM443.7,156.1h0.9v0.9h-0.9zM401.4,168.6h0.9v0.9h-0.9zM409.1,155.4h0.9v0.9h-0.9zM412.7,173.5h0.9v0.9h-0.9zM439.9,170.9h0.9v0.9h-0.9zM447.8,167.4h0.9v0.9h-0.9zM441.4,156.4h0.9v0.9h-0.9zM405.7,168.7h0.9v0.9h-0.9zM413.2,174.5h0.9v0.9h-0.9zM401.5,164.1h0.9v0.9h-0.9zM449.0,161.9h0.9v0.9h-0.9zM443.9,157.3h0.9v0.9h-0.9zM420.2,174.1h0.9v0.9h-0.9zM433.1,178.2h0.9v0.9h-0.9zM446.3,158.8h0.9v0.9h-0.9zM419.6,174.8h0.9v0.9h-0.9zM419.2,173.1h0.9v0.9h-0.9zM449.2,164.5h0.9v0.9h-0.9zM449.6,163.5h0.9v0.9h-0.9zM399.3,160.3h0.9v0.9h-0.9zM430.2,173.8h0.9v0.9h-0.9zM440.5,170.7h0.9v0.9h-0.9zM433.4,174.6h0.9v0.9h-0.9zM445.9,169.5h0.9v0.9h-0.9zM431.8,172.1h0.9v0.9h-0.9zM419.4,153.7h0.9v0.9h-0.9zM447.1,167.7h0.9v0.9h-0.9zM404.7,171.1h0.9v0.9h-0.9zM413.6,172.3h0.9v0.9h-0.9zM441.8,152.9h0.9v0.9h-0.9zM402.1,165.0h0.9v0.9h-0.9zM423.1,173.2h0.9v0.9h-0.9zM437.7,172.6h0.9v0.9h-0.9zM405.5,156.5h0.9v0.9h-0.9zM402.1,162.4h0.9v0.9h-0.9zM420.4,153.6h0.9v0.9h-0.9zM419.9,153.5h0.9v0.9h-0.9zM425.7,151.4h0.9v0.9h-0.9zM399.1,164.0h0.9v0.9h-0.9zM398.7,159.4h0.9v0.9h-0.9zM429.3,172.9h0.9v0.9h-0.9zM444.0,169.1h0.9v0.9h-0.9zM444.6,169.1h0.9v0.9h-0.9zM433.5,173.7h0.9v0.9h-0.9zM401.2,161.5h0.9v0.9h-0.9zM443.9,169.1h0.9v0.9h-0.9zM442.1,170.3h0.9v0.9h-0.9zM400.9,163.3h0.9v0.9h-0.9zM440.9,171.5h0.9v0.9h-0.9zM441.0,153.9h0.9v0.9h-0.9zM437.5,172.4h0.9v0.9h-0.9zM448.8,157.6h0.9v0.9h-0.9zM401.1,161.2h0.9v0.9h-0.9zM447.6,159.4h0.9v0.9h-0.9zM413.6,172.3h0.9v0.9h-0.9zM451.2,161.4h0.9v0.9h-0.9zM439.1,154.3h0.9v0.9h-0.9zM401.2,162.0h0.9v0.9h-0.9zM404.8,168.3h0.9v0.9h-0.9zM409.8,171.9h0.9v0.9h-0.9zM401.4,163.0h0.9v0.9h-0.9zM440.4,171.1h0.9v0.9h-0.9zM408.8,152.7h0.9v0.9h-0.9zM443.6,155.0h0.9v0.9h-0.9zM423.2,172.9h0.9v0.9h-0.9zM422.0,174.5h0.9v0.9h-0.9zM425.4,173.5h0.9v0.9h-0.9zM404.1,167.5h0.9v0.9h-0.9zM411.3,154.7h0.9v0.9h-0.9zM405.7,157.0h0.9v0.9h-0.9zM402.7,165.5h0.9v0.9h-0.9zM439.4,171.7h0.9v0.9h-0.9zM405.8,169.5h0.9v0.9h-0.9zM426.5,175.6h0.9v0.9h-0.9zM407.4,156.6h0.9v0.9h-0.9zM411.9,155.6h0.9v0.9h-0.9zM401.9,159.3h0.9v0.9h-0.9zM402.6,165.3h0.9v0.9h-0.9zM401.1,162.4h0.9v0.9h-0.9zM404.6,156.8h0.9v0.9h-0.9zM427.2,175.2h0.9v0.9h-0.9zM400.8,164.2h0.9v0.9h-0.9zM428.7,154.4h0.9v0.9h-0.9zM447.0,167.7h0.9v0.9h-0.9zM407.9,169.6h0.9v0.9h-0.9zM423.4,153.7h0.9v0.9h-0.9zM423.7,150.0h0.9v0.9h-0.9zM413.3,172.2h0.9v0.9h-0.9zM439.6,153.9h0.9v0.9h-0.9zM402.2,162.3h0.9v0.9h-0.9zM399.8,166.1h0.9v0.9h-0.9zM419.4,152.2h0.9v0.9h-0.9zM451.3,163.9h0.9v0.9h-0.9zM404.5,156.7h0.9v0.9h-0.9zM405.1,168.5h0.9v0.9h-0.9zM442.0,155.5h0.9v0.9h-0.9zM402.0,166.7h0.9v0.9h-0.9zM419.2,173.7h0.9v0.9h-0.9zM415.4,172.1h0.9v0.9h-0.9zM439.2,155.0h0.9v0.9h-0.9zM417.8,172.3h0.9v0.9h-0.9zM403.0,156.4h0.9v0.9h-0.9zM414.9,173.5h0.9v0.9h-0.9zM437.7,155.2h0.9v0.9h-0.9zM445.9,156.9h0.9v0.9h-0.9zM450.7,168.8h0.9v0.9h-0.9zM428.9,154.4h0.9v0.9h-0.9zM451.4,163.2h0.9v0.9h-0.9zM407.7,169.6h0.9v0.9h-0.9zM405.2,156.0h0.9v0.9h-0.9zM401.8,161.5h0.9v0.9h-0.9zM408.6,171.9h0.9v0.9h-0.9zM442.6,156.3h0.9v0.9h-0.9zM398.3,165.1h0.9v0.9h-0.9zM411.8,175.0h0.9v0.9h-0.9zM435.1,153.1h0.9v0.9h-0.9zM436.9,151.0h0.9v0.9h-0.9zM443.7,170.4h0.9v0.9h-0.9zM451.7,162.3h0.9v0.9h-0.9zM404.9,168.3h0.9v0.9h-0.9zM400.2,162.9h0.9v0.9h-0.9zM435.2,172.9h0.9v0.9h-0.9zM449.8,162.9h0.9v0.9h-0.9zM448.2,166.2h0.9v0.9h-0.9zM416.9,153.5h0.9v0.9h-0.9zM417.5,174.1h0.9v0.9h-0.9zM433.2,173.3h0.9v0.9h-0.9zM402.7,159.3h0.9v0.9h-0.9zM450.5,163.1h0.9v0.9h-0.9zM405.1,169.8h0.9v0.9h-0.9z" fill="#222" opacity="0.8"/>
<path d="M402.80,163.40 C402.80,158.78 413.01,155.00 425.50,155.00 C438.03,155.00 448.20,158.76 448.20,163.40 C448.20,168.04 438.03,171.80 425.50,171.80 C413.01,171.80 402.80,168.02 402.80,163.40 Z" fill="url(#l5)" stroke="none"/>
<g clip-path="url(#c5)">
<ellipse cx="431.0" cy="160.5" rx="14.0" ry="4.5" fill="url(#r6)"/>
<ellipse cx="432.0" cy="166.0" rx="13.0" ry="4.0" fill="url(#r7)"/>
<ellipse cx="428.0" cy="163.5" rx="20.0" ry="8.0" fill="url(#r8)"/>
<path d="M408.44,163.32 C408.44,159.62 416.61,156.60 426.60,156.60 C436.62,156.60 444.76,159.61 444.76,163.32 C444.76,167.03 436.62,170.04 426.60,170.04 C416.61,170.04 408.44,167.02 408.44,163.32 Z" fill="none" stroke="#888" stroke-width="0.45"/>
<path d="M413.52,163.25 C413.52,160.38 419.85,158.04 427.59,158.04 C435.36,158.04 441.66,160.37 441.66,163.25 C441.66,166.12 435.36,168.46 427.59,168.46 C419.85,168.46 413.52,166.11 413.52,163.25 Z" fill="none" stroke="#888" stroke-width="0.45"/>
<path d="M418.31,163.18 C418.31,161.10 422.91,159.40 428.52,159.40 C434.16,159.40 438.74,161.09 438.74,163.18 C438.74,165.27 434.16,166.96 428.52,166.96 C422.91,166.96 418.31,165.26 418.31,163.18 Z" fill="none" stroke="#888" stroke-width="0.45"/>
</g>
<path d="M402.80,163.40 C402.80,158.78 413.01,155.00 425.50,155.00 C438.03,155.00 448.20,158.76 448.20,163.40 C448.20,168.04 438.03,171.80 425.50,171.80 C413.01,171.80 402.80,168.02 402.80,163.40 Z" fill="none" stroke="#111" stroke-width="1"/>
</g>
<ellipse cx="407.0" cy="195.0" rx="4.5" ry="6.5" fill="url(#r9)"/>
<path d="M410.9,196.4h0.7v0.7h-0.7zM407.8,197.2h0.7v0.7h-0.7zM410.0,197.3h0.7v0.7h-0.7zM403.5,195.5h0.7v0.7h-0.7zM406.1,201.5h0.7v0.7h-0.7zM407.4,192.3h0.7v0.7h-0.7zM411.0,193.6h0.7v0.7h-0.7zM408.4,194.8h0.7v0.7h-0.7zM408.3,199.1h0.7v0.7h-0.7zM404.9,192.6h0.7v0.7h-0.7zM409.5,194.0h0.7v0.7h-0.7zM407.6,198.9h0.7v0.7h-0.7zM404.7,199.0h0.7v0.7h-0.7zM406.2,192.9h0.7v0.7h-0.7zM405.5,203.4h0.7v0.7h-0.7zM408.8,197.0h0.7v0.7h-0.7zM405.1,200.6h0.7v0.7h-0.7zM403.9,193.3h0.7v0.7h-0.7zM410.6,199.3h0.7v0.7h-0.7zM406.2,197.7h0.7v0.7h-0.7zM406.4,190.3h0.7v0.7h-0.7zM409.8,195.6h0.7v0.7h-0.7zM409.4,198.1h0.7v0.7h-0.7zM404.7,195.8h0.7v0.7h-0.7zM405.0,196.7h0.7v0.7h-0.7zM409.3,198.9h0.7v0.7h-0.7zM413.9,193.8h0.7v0.7h-0.7zM410.5,198.5h0.7v0.7h-0.7zM409.3,192.1h0.7v0.7h-0.7zM408.9,196.8h0.7v0.7h-0.7zM407.6,196.6h0.7v0.7h-0.7zM404.7,195.1h0.7v0.7h-0.7zM408.8,194.4h0.7v0.7h-0.7zM409.0,200.5h0.7v0.7h-0.7zM407.9,193.8h0.7v0.7h-0.7zM408.4,194.5h0.7v0.7h-0.7zM405.8,194.1h0.7v0.7h-0.7zM412.3,197.9h0.7v0.7h-0.7zM409.2,198.5h0.7v0.7h-0.7zM402.7,196.9h0.7v0.7h-0.7zM409.2,194.4h0.7v0.7h-0.7zM404.3,197.5h0.7v0.7h-0.7zM406.5,199.3h0.7v0.7h-0.7zM406.0,195.6h0.7v0.7h-0.7zM410.0,199.0h0.7v0.7h-0.7zM410.2,194.4h0.7v0.7h-0.7zM413.0,191.9h0.7v0.7h-0.7zM405.6,195.1h0.7v0.7h-0.7zM410.8,196.8h0.7v0.7h-0.7zM412.5,198.3h0.7v0.7h-0.7zM409.3,192.1h0.7v0.7h-0.7zM406.4,195.5h0.7v0.7h-0.7zM404.3,192.3h0.7v0.7h-0.7zM404.0,193.6h0.7v0.7h-0.7zM409.6,197.0h0.7v0.7h-0.7zM407.9,197.0h0.7v0.7h-0.7zM405.0,194.0h0.7v0.7h-0.7zM405.9,191.7h0.7v0.7h-0.7zM406.0,191.8h0.7v0.7h-0.7zM407.0,198.0h0.7v0.7h-0.7zM408.0,195.3h0.7v0.7h-0.7zM408.4,194.4h0.7v0.7h-0.7zM404.8,188.2h0.7v0.7h-0.7zM410.5,196.2h0.7v0.7h-0.7zM401.3,196.3h0.7v0.7h-0.7zM405.9,194.8h0.7v0.7h-0.7zM407.7,192.6h0.7v0.7h-0.7zM403.3,192.7h0.7v0.7h-0.7zM409.3,191.8h0.7v0.7h-0.7zM403.3,195.1h0.7v0.7h-0.7zM412.4,191.8h0.7v0.7h-0.7zM410.2,195.8h0.7v0.7h-0.7zM408.3,200.3h0.7v0.7h-0.7zM404.6,194.7h0.7v0.7h-0.7zM406.2,197.2h0.7v0.7h-0.7zM407.4,196.0h0.7v0.7h-0.7zM409.3,194.2h0.7v0.7h-0.7zM407.5,193.0h0.7v0.7h-0.7zM410.7,198.1h0.7v0.7h-0.7zM411.8,189.5h0.7v0.7h-0.7zM405.1,194.9h0.7v0.7h-0.7zM410.0,193.6h0.7v0.7h-0.7zM404.6,202.2h0.7v0.7h-0.7zM407.0,195.5h0.7v0.7h-0.7zM404.7,202.2h0.7v0.7h-0.7zM408.5,194.1h0.7v0.7h-0.7zM406.5,195.1h0.7v0.7h-0.7zM408.4,195.7h0.7v0.7h-0.7zM405.1,200.4h0.7v0.7h-0.7zM404.6,200.0h0.7v0.7h-0.7zM409.2,190.1h0.7v0.7h-0.7zM409.9,196.5h0.7v0.7h-0.7zM405.0,202.8h0.7v0.7h-0.7zM410.6,187.2h0.7v0.7h-0.7zM410.0,192.8h0.7v0.7h-0.7zM402.7,197.6h0.7v0.7h-0.7zM403.5,193.8h0.7v0.7h-0.7zM407.3,193.7h0.7v0.7h-0.7zM404.2,186.3h0.7v0.7h-0.7zM406.5,199.5h0.7v0.7h-0.7zM410.4,200.7h0.7v0.7h-0.7zM408.2,196.0h0.7v0.7h-0.7zM405.0,185.4h0.7v0.7h-0.7zM404.9,191.9h0.7v0.7h-0.7zM404.3,195.0h0.7v0.7h-0.7zM408.0,192.5h0.7v0.7h-0.7zM409.2,196.0h0.7v0.7h-0.7zM409.3,198.9h0.7v0.7h-0.7zM410.3,193.7h0.7v0.7h-0.7zM405.2,195.2h0.7v0.7h-0.7zM410.4,186.6h0.7v0.7h-0.7zM409.2,193.1h0.7v0.7h-0.7zM408.9,196.6h0.7v0.7h-0.7zM406.0,191.8h0.7v0.7h-0.7zM406.0,196.9h0.7v0.7h-0.7zM403.8,195.2h0.7v0.7h-0.7zM405.3,192.4h0.7v0.7h-0.7zM403.7,188.7h0.7v0.7h-0.7zM408.2,195.9h0.7v0.7h-0.7zM405.8,194.1h0.7v0.7h-0.7zM409.6,195.4h0.7v0.7h-0.7zM408.0,194.5h0.7v0.7h-0.7zM408.8,193.8h0.7v0.7h-0.7zM404.1,197.6h0.7v0.7h-0.7zM408.6,191.5h0.7v0.7h-0.7zM407.5,195.7h0.7v0.7h-0.7zM407.9,206.8h0.7v0.7h-0.7zM407.6,195.0h0.7v0.7h-0.7zM405.8,192.8h0.7v0.7h-0.7zM399.3,193.3h0.7v0.7h-0.7zM406.5,191.0h0.7v0.7h-0.7zM407.2,196.8h0.7v0.7h-0.7zM410.3,203.5h0.7v0.7h-0.7zM407.3,191.7h0.7v0.7h-0.7zM403.9,200.1h0.7v0.7h-0.7zM405.4,195.0h0.7v0.7h-0.7zM409.1,195.6h0.7v0.7h-0.7zM407.5,196.1h0.7v0.7h-0.7zM401.7,194.3h0.7v0.7h-0.7zM408.7,190.2h0.7v0.7h-0.7zM402.9,197.1h0.7v0.7h-0.7zM406.2,196.5h0.7v0.7h-0.7zM401.8,194.8h0.7v0.7h-0.7zM404.5,197.8h0.7v0.7h-0.7zM411.8,193.4h0.7v0.7h-0.7zM409.4,191.5h0.7v0.7h-0.7zM406.2,196.4h0.7v0.7h-0.7zM405.2,199.8h0.7v0.7h-0.7zM407.9,190.1h0.7v0.7h-0.7zM403.3,192.7h0.7v0.7h-0.7zM401.2,199.2h0.7v0.7h-0.7zM405.9,192.8h0.7v0.7h-0.7zM407.0,193.5h0.7v0.7h-0.7zM410.5,200.1h0.7v0.7h-0.7zM409.1,197.1h0.7v0.7h-0.7zM409.6,196.6h0.7v0.7h-0.7zM406.8,199.0h0.7v0.7h-0.7zM407.7,197.2h0.7v0.7h-0.7zM411.2,202.3h0.7v0.7h-0.7zM407.1,199.1h0.7v0.7h-0.7zM403.1,192.2h0.7v0.7h-0.7zM408.0,192.6h0.7v0.7h-0.7zM404.1,192.0h0.7v0.7h-0.7zM408.2,189.8h0.7v0.7h-0.7zM408.6,198.8h0.7v0.7h-0.7zM401.6,196.6h0.7v0.7h-0.7zM409.0,190.4h0.7v0.7h-0.7zM408.3,193.6h0.7v0.7h-0.7zM408.5,197.9h0.7v0.7h-0.7zM408.3,185.2h0.7v0.7h-0.7zM410.6,186.9h0.7v0.7h-0.7zM413.5,187.5h0.7v0.7h-0.7zM403.9,183.4h0.7v0.7h-0.7zM409.3,184.1h0.7v0.7h-0.7zM408.2,183.3h0.7v0.7h-0.7zM408.1,187.4h0.7v0.7h-0.7zM412.1,181.8h0.7v0.7h-0.7zM407.7,180.1h0.7v0.7h-0.7zM407.3,186.6h0.7v0.7h-0.7zM410.6,184.1h0.7v0.7h-0.7zM409.3,181.4h0.7v0.7h-0.7zM412.2,180.5h0.7v0.7h-0.7zM410.9,183.0h0.7v0.7h-0.7zM406.3,182.8h0.7v0.7h-0.7zM410.5,180.8h0.7v0.7h-0.7z" fill="#222" opacity="0.75"/>
<rect x="417.40" y="150.50" width="17.60" height="7.20" fill="#fff" stroke="none" stroke-width="1" />
<text x="426.20" y="156.60" font-size="7.2" text-anchor="middle" font-weight="bold" fill="#111"  >98.86</text>
<path d="M318.9,157 H332 V228" fill="none" stroke="#1f5b98" stroke-width="1.1" />
<path d="M332,233.5 L329.2,226.5 L332,228 L334.8,226.5 Z" fill="#1f5b98" stroke="none" stroke-width="1" />
<path d="M454,156.5 H462.9 V228" fill="none" stroke="#b01a3a" stroke-width="1.1" />
<path d="M462.9,233.5 L460.1,226.5 L462.9,228 L465.7,226.5 Z" fill="#b01a3a" stroke="none" stroke-width="1" />
<line x1="237.60" y1="210.80" x2="237.60" y2="232.30" stroke="#111" stroke-width="1.1" />
<path d="M237.6,205.8 L234.4,213.8 L237.6,212.0 L240.79999999999998,213.8 Z" fill="#111" stroke="none" stroke-width="1" />
<line x1="237.05" y1="232.30" x2="259.20" y2="232.30" stroke="#111" stroke-width="1.1" />
<path d="M264.2,232.3 L256.59999999999997,229.3 L258.3,232.3 L256.59999999999997,235.3 Z" fill="#111" stroke="none" stroke-width="1" />
<text transform="translate(233.80,222.10) rotate(-90)" font-size="9.6" font-weight="bold" text-anchor="middle" fill="#1a1a1a" textLength="9.4" lengthAdjust="spacingAndGlyphs">KO</text>
<text x="241.10" y="242.80" font-size="9.3" text-anchor="start" font-weight="bold" fill="#1a1a1a" textLength="12.700000000000017" lengthAdjust="spacingAndGlyphs" >GFP</text>
<path d="M292.3,272.7h0.9v0.9h-0.9zM297.4,275.7h0.9v0.9h-0.9zM292.2,271.5h0.9v0.9h-0.9zM291.9,268.3h0.9v0.9h-0.9zM297.2,270.0h0.9v0.9h-0.9zM297.4,273.5h0.9v0.9h-0.9zM293.9,268.7h0.9v0.9h-0.9zM297.0,269.4h0.9v0.9h-0.9zM297.7,272.7h0.9v0.9h-0.9zM291.5,271.5h0.9v0.9h-0.9zM296.3,272.5h0.9v0.9h-0.9zM298.8,267.1h0.9v0.9h-0.9zM299.2,276.9h0.9v0.9h-0.9zM298.9,276.0h0.9v0.9h-0.9zM292.1,271.4h0.9v0.9h-0.9zM293.2,267.4h0.9v0.9h-0.9zM300.7,265.2h0.9v0.9h-0.9zM292.6,268.0h0.9v0.9h-0.9zM299.3,272.1h0.9v0.9h-0.9zM295.6,270.8h0.9v0.9h-0.9zM290.0,268.3h0.9v0.9h-0.9zM294.8,268.8h0.9v0.9h-0.9zM298.7,264.4h0.9v0.9h-0.9zM298.0,272.8h0.9v0.9h-0.9zM300.1,263.8h0.9v0.9h-0.9zM300.0,267.4h0.9v0.9h-0.9zM293.1,269.9h0.9v0.9h-0.9zM299.2,267.3h0.9v0.9h-0.9zM298.5,270.7h0.9v0.9h-0.9zM295.6,268.6h0.9v0.9h-0.9zM299.0,274.5h0.9v0.9h-0.9zM290.8,268.5h0.9v0.9h-0.9zM297.9,273.1h0.9v0.9h-0.9zM299.5,272.2h0.9v0.9h-0.9zM292.2,274.0h0.9v0.9h-0.9zM294.3,268.0h0.9v0.9h-0.9zM293.5,264.6h0.9v0.9h-0.9zM297.7,271.9h0.9v0.9h-0.9zM292.3,271.4h0.9v0.9h-0.9zM299.5,270.2h0.9v0.9h-0.9z" fill="#222" opacity="0.75"/>
<g >
<path d="M341.0,277.9h0.9v0.9h-0.9zM307.2,278.3h0.9v0.9h-0.9zM350.5,261.3h0.9v0.9h-0.9zM359.7,263.2h0.9v0.9h-0.9zM312.7,280.9h0.9v0.9h-0.9zM338.5,260.7h0.9v0.9h-0.9zM341.6,277.9h0.9v0.9h-0.9zM298.6,271.6h0.9v0.9h-0.9zM346.2,259.6h0.9v0.9h-0.9zM356.4,275.2h0.9v0.9h-0.9zM335.6,278.1h0.9v0.9h-0.9zM343.5,277.0h0.9v0.9h-0.9zM299.4,272.0h0.9v0.9h-0.9zM360.2,269.7h0.9v0.9h-0.9zM313.8,282.9h0.9v0.9h-0.9zM358.7,273.0h0.9v0.9h-0.9zM315.6,260.9h0.9v0.9h-0.9zM327.2,280.3h0.9v0.9h-0.9zM300.0,267.0h0.9v0.9h-0.9zM302.3,265.5h0.9v0.9h-0.9zM350.2,260.6h0.9v0.9h-0.9zM310.0,278.0h0.9v0.9h-0.9zM337.9,257.5h0.9v0.9h-0.9zM319.7,278.5h0.9v0.9h-0.9zM327.5,258.9h0.9v0.9h-0.9zM300.6,264.9h0.9v0.9h-0.9zM358.3,275.0h0.9v0.9h-0.9zM294.7,272.6h0.9v0.9h-0.9zM330.7,278.4h0.9v0.9h-0.9zM359.8,269.7h0.9v0.9h-0.9zM300.3,273.1h0.9v0.9h-0.9zM343.7,277.5h0.9v0.9h-0.9zM320.2,277.7h0.9v0.9h-0.9zM358.0,263.1h0.9v0.9h-0.9zM355.7,263.6h0.9v0.9h-0.9zM303.6,264.0h0.9v0.9h-0.9zM310.5,279.9h0.9v0.9h-0.9zM357.1,274.6h0.9v0.9h-0.9zM352.9,263.7h0.9v0.9h-0.9zM344.4,277.0h0.9v0.9h-0.9zM321.1,259.4h0.9v0.9h-0.9zM305.9,262.8h0.9v0.9h-0.9zM312.0,261.4h0.9v0.9h-0.9zM303.9,258.3h0.9v0.9h-0.9zM340.1,260.2h0.9v0.9h-0.9zM340.6,278.1h0.9v0.9h-0.9zM350.4,261.4h0.9v0.9h-0.9zM315.9,277.5h0.9v0.9h-0.9zM312.0,261.1h0.9v0.9h-0.9zM357.9,273.9h0.9v0.9h-0.9zM358.5,272.8h0.9v0.9h-0.9zM304.8,261.7h0.9v0.9h-0.9zM298.9,273.0h0.9v0.9h-0.9zM360.0,268.0h0.9v0.9h-0.9zM307.4,262.7h0.9v0.9h-0.9zM345.8,277.2h0.9v0.9h-0.9zM332.6,259.4h0.9v0.9h-0.9zM299.4,265.3h0.9v0.9h-0.9zM300.9,264.6h0.9v0.9h-0.9zM327.8,259.1h0.9v0.9h-0.9zM322.5,260.2h0.9v0.9h-0.9zM333.6,258.5h0.9v0.9h-0.9zM297.9,275.8h0.9v0.9h-0.9zM349.3,276.3h0.9v0.9h-0.9zM300.1,270.8h0.9v0.9h-0.9zM360.9,268.0h0.9v0.9h-0.9zM330.7,259.1h0.9v0.9h-0.9zM356.7,272.7h0.9v0.9h-0.9zM300.7,264.3h0.9v0.9h-0.9zM346.8,276.9h0.9v0.9h-0.9zM327.2,260.0h0.9v0.9h-0.9zM334.6,260.0h0.9v0.9h-0.9zM359.9,267.5h0.9v0.9h-0.9zM338.7,259.2h0.9v0.9h-0.9zM316.1,279.7h0.9v0.9h-0.9zM357.4,274.7h0.9v0.9h-0.9zM304.7,276.8h0.9v0.9h-0.9zM304.4,274.9h0.9v0.9h-0.9zM357.1,265.6h0.9v0.9h-0.9zM327.2,279.4h0.9v0.9h-0.9zM332.8,277.8h0.9v0.9h-0.9zM320.5,280.5h0.9v0.9h-0.9zM335.6,280.0h0.9v0.9h-0.9zM350.2,258.9h0.9v0.9h-0.9zM329.7,259.9h0.9v0.9h-0.9zM298.3,270.6h0.9v0.9h-0.9zM345.1,278.5h0.9v0.9h-0.9zM303.2,263.4h0.9v0.9h-0.9zM336.9,279.9h0.9v0.9h-0.9zM349.2,259.4h0.9v0.9h-0.9zM348.6,262.2h0.9v0.9h-0.9zM351.8,275.3h0.9v0.9h-0.9zM360.9,270.1h0.9v0.9h-0.9zM354.4,277.0h0.9v0.9h-0.9zM317.2,258.4h0.9v0.9h-0.9zM323.1,256.2h0.9v0.9h-0.9zM359.0,267.6h0.9v0.9h-0.9zM318.2,257.0h0.9v0.9h-0.9zM299.1,268.7h0.9v0.9h-0.9zM359.0,270.5h0.9v0.9h-0.9zM317.4,278.9h0.9v0.9h-0.9zM349.0,277.4h0.9v0.9h-0.9zM342.3,279.1h0.9v0.9h-0.9zM297.1,269.0h0.9v0.9h-0.9zM311.5,277.8h0.9v0.9h-0.9zM335.8,278.5h0.9v0.9h-0.9zM351.1,262.8h0.9v0.9h-0.9zM326.7,279.1h0.9v0.9h-0.9zM359.4,273.4h0.9v0.9h-0.9zM310.2,277.3h0.9v0.9h-0.9zM318.1,258.2h0.9v0.9h-0.9zM318.7,260.1h0.9v0.9h-0.9zM350.3,261.2h0.9v0.9h-0.9zM303.5,274.6h0.9v0.9h-0.9zM307.1,275.9h0.9v0.9h-0.9zM359.6,269.0h0.9v0.9h-0.9zM306.7,263.3h0.9v0.9h-0.9zM307.8,278.2h0.9v0.9h-0.9zM338.9,279.4h0.9v0.9h-0.9zM355.2,261.1h0.9v0.9h-0.9zM319.3,259.1h0.9v0.9h-0.9zM317.5,279.3h0.9v0.9h-0.9zM360.5,269.2h0.9v0.9h-0.9zM304.2,262.1h0.9v0.9h-0.9zM332.3,277.8h0.9v0.9h-0.9zM322.5,258.4h0.9v0.9h-0.9zM299.7,267.0h0.9v0.9h-0.9zM308.9,260.9h0.9v0.9h-0.9zM334.3,278.0h0.9v0.9h-0.9zM296.3,273.3h0.9v0.9h-0.9zM300.1,267.6h0.9v0.9h-0.9zM356.3,263.9h0.9v0.9h-0.9zM299.8,267.3h0.9v0.9h-0.9zM343.3,278.3h0.9v0.9h-0.9zM299.4,273.0h0.9v0.9h-0.9zM350.1,258.4h0.9v0.9h-0.9zM308.0,275.6h0.9v0.9h-0.9zM346.1,277.3h0.9v0.9h-0.9zM353.0,275.3h0.9v0.9h-0.9zM299.7,273.8h0.9v0.9h-0.9zM306.1,275.3h0.9v0.9h-0.9zM298.3,271.5h0.9v0.9h-0.9zM331.1,259.4h0.9v0.9h-0.9zM298.5,267.0h0.9v0.9h-0.9zM309.4,275.8h0.9v0.9h-0.9zM338.3,277.6h0.9v0.9h-0.9zM357.0,272.7h0.9v0.9h-0.9zM316.2,278.6h0.9v0.9h-0.9zM344.6,258.6h0.9v0.9h-0.9zM338.4,280.7h0.9v0.9h-0.9zM337.1,260.1h0.9v0.9h-0.9zM301.8,272.8h0.9v0.9h-0.9zM322.5,257.8h0.9v0.9h-0.9zM340.5,259.1h0.9v0.9h-0.9zM307.2,276.2h0.9v0.9h-0.9zM358.9,267.0h0.9v0.9h-0.9zM309.1,275.8h0.9v0.9h-0.9zM330.6,259.6h0.9v0.9h-0.9zM297.8,265.9h0.9v0.9h-0.9zM360.3,271.8h0.9v0.9h-0.9zM300.0,272.2h0.9v0.9h-0.9zM298.8,271.7h0.9v0.9h-0.9zM299.9,276.0h0.9v0.9h-0.9zM315.5,261.0h0.9v0.9h-0.9zM305.3,275.4h0.9v0.9h-0.9zM333.0,257.8h0.9v0.9h-0.9zM351.9,278.6h0.9v0.9h-0.9zM353.5,276.2h0.9v0.9h-0.9zM330.1,257.1h0.9v0.9h-0.9zM322.3,259.4h0.9v0.9h-0.9zM358.6,274.3h0.9v0.9h-0.9zM360.4,268.9h0.9v0.9h-0.9zM350.0,261.3h0.9v0.9h-0.9zM361.2,269.8h0.9v0.9h-0.9zM324.9,278.3h0.9v0.9h-0.9zM348.2,260.6h0.9v0.9h-0.9zM298.3,268.0h0.9v0.9h-0.9zM349.1,261.8h0.9v0.9h-0.9zM347.5,261.9h0.9v0.9h-0.9zM300.4,266.4h0.9v0.9h-0.9zM299.4,272.4h0.9v0.9h-0.9zM338.8,259.7h0.9v0.9h-0.9zM355.8,262.9h0.9v0.9h-0.9zM300.2,266.7h0.9v0.9h-0.9zM302.3,264.9h0.9v0.9h-0.9zM321.7,281.4h0.9v0.9h-0.9zM339.3,255.7h0.9v0.9h-0.9zM301.1,273.5h0.9v0.9h-0.9zM357.0,272.8h0.9v0.9h-0.9zM348.5,261.8h0.9v0.9h-0.9zM304.5,261.5h0.9v0.9h-0.9zM338.7,259.4h0.9v0.9h-0.9zM316.0,260.8h0.9v0.9h-0.9zM345.0,260.1h0.9v0.9h-0.9zM355.2,263.8h0.9v0.9h-0.9zM335.7,259.9h0.9v0.9h-0.9zM304.3,273.9h0.9v0.9h-0.9zM317.5,256.1h0.9v0.9h-0.9zM359.3,275.7h0.9v0.9h-0.9zM321.5,278.5h0.9v0.9h-0.9zM303.5,263.4h0.9v0.9h-0.9zM354.4,263.8h0.9v0.9h-0.9zM345.6,259.7h0.9v0.9h-0.9zM304.9,280.4h0.9v0.9h-0.9zM308.1,275.6h0.9v0.9h-0.9zM354.7,276.7h0.9v0.9h-0.9zM325.5,259.9h0.9v0.9h-0.9zM343.3,260.3h0.9v0.9h-0.9zM356.5,262.5h0.9v0.9h-0.9zM322.0,278.5h0.9v0.9h-0.9zM329.5,259.4h0.9v0.9h-0.9zM299.8,270.2h0.9v0.9h-0.9zM305.3,262.8h0.9v0.9h-0.9zM325.6,278.3h0.9v0.9h-0.9zM345.9,261.2h0.9v0.9h-0.9zM305.7,263.5h0.9v0.9h-0.9zM313.2,276.7h0.9v0.9h-0.9zM314.9,277.2h0.9v0.9h-0.9zM329.9,279.4h0.9v0.9h-0.9zM320.5,280.9h0.9v0.9h-0.9zM300.0,262.6h0.9v0.9h-0.9zM304.9,262.8h0.9v0.9h-0.9zM360.2,272.8h0.9v0.9h-0.9zM349.5,277.4h0.9v0.9h-0.9zM311.8,276.8h0.9v0.9h-0.9zM343.7,277.8h0.9v0.9h-0.9zM314.9,278.4h0.9v0.9h-0.9zM347.0,277.9h0.9v0.9h-0.9zM351.3,260.2h0.9v0.9h-0.9zM351.0,275.1h0.9v0.9h-0.9zM344.7,278.7h0.9v0.9h-0.9zM338.8,277.4h0.9v0.9h-0.9zM337.8,277.6h0.9v0.9h-0.9zM295.5,268.8h0.9v0.9h-0.9zM362.5,271.3h0.9v0.9h-0.9zM302.9,264.8h0.9v0.9h-0.9zM333.3,278.6h0.9v0.9h-0.9zM359.4,271.8h0.9v0.9h-0.9zM299.6,267.7h0.9v0.9h-0.9zM303.5,264.2h0.9v0.9h-0.9zM305.3,263.7h0.9v0.9h-0.9zM330.2,278.5h0.9v0.9h-0.9zM361.1,267.1h0.9v0.9h-0.9zM341.2,258.7h0.9v0.9h-0.9zM340.3,260.6h0.9v0.9h-0.9zM356.7,265.5h0.9v0.9h-0.9zM305.1,274.2h0.9v0.9h-0.9zM316.4,257.5h0.9v0.9h-0.9zM313.1,276.8h0.9v0.9h-0.9zM315.1,278.2h0.9v0.9h-0.9zM361.5,268.8h0.9v0.9h-0.9zM334.8,260.1h0.9v0.9h-0.9zM329.7,259.3h0.9v0.9h-0.9zM346.5,258.8h0.9v0.9h-0.9zM354.1,274.8h0.9v0.9h-0.9zM359.0,266.3h0.9v0.9h-0.9zM328.6,257.8h0.9v0.9h-0.9zM355.3,259.6h0.9v0.9h-0.9zM344.2,259.4h0.9v0.9h-0.9zM342.8,259.9h0.9v0.9h-0.9zM350.2,260.0h0.9v0.9h-0.9zM357.4,265.4h0.9v0.9h-0.9zM358.3,267.1h0.9v0.9h-0.9zM332.8,281.9h0.9v0.9h-0.9zM297.7,275.0h0.9v0.9h-0.9zM317.9,260.7h0.9v0.9h-0.9zM306.5,275.6h0.9v0.9h-0.9zM358.7,263.1h0.9v0.9h-0.9zM304.3,276.4h0.9v0.9h-0.9zM313.3,279.9h0.9v0.9h-0.9zM344.9,258.9h0.9v0.9h-0.9zM358.8,270.2h0.9v0.9h-0.9zM340.8,259.0h0.9v0.9h-0.9zM314.4,278.1h0.9v0.9h-0.9zM311.5,277.4h0.9v0.9h-0.9zM354.8,275.0h0.9v0.9h-0.9zM320.5,258.5h0.9v0.9h-0.9zM351.5,278.5h0.9v0.9h-0.9zM358.3,272.1h0.9v0.9h-0.9zM358.9,265.4h0.9v0.9h-0.9zM334.3,281.2h0.9v0.9h-0.9zM305.5,277.5h0.9v0.9h-0.9zM358.6,265.4h0.9v0.9h-0.9zM343.6,261.2h0.9v0.9h-0.9zM298.4,266.1h0.9v0.9h-0.9zM298.1,275.3h0.9v0.9h-0.9zM329.3,280.0h0.9v0.9h-0.9zM348.7,260.6h0.9v0.9h-0.9zM308.0,277.8h0.9v0.9h-0.9zM356.3,275.1h0.9v0.9h-0.9zM300.7,274.0h0.9v0.9h-0.9zM309.2,260.0h0.9v0.9h-0.9zM298.4,266.7h0.9v0.9h-0.9zM310.1,277.1h0.9v0.9h-0.9zM357.5,273.3h0.9v0.9h-0.9zM300.1,274.2h0.9v0.9h-0.9zM352.0,263.4h0.9v0.9h-0.9zM316.2,277.4h0.9v0.9h-0.9zM358.7,264.9h0.9v0.9h-0.9zM302.5,262.7h0.9v0.9h-0.9zM306.4,275.8h0.9v0.9h-0.9zM331.7,258.9h0.9v0.9h-0.9zM299.0,264.1h0.9v0.9h-0.9zM339.3,260.3h0.9v0.9h-0.9zM307.9,276.0h0.9v0.9h-0.9zM324.3,280.9h0.9v0.9h-0.9zM303.2,264.4h0.9v0.9h-0.9zM348.4,277.8h0.9v0.9h-0.9zM350.4,262.7h0.9v0.9h-0.9zM318.3,278.5h0.9v0.9h-0.9zM320.4,282.9h0.9v0.9h-0.9zM340.8,278.3h0.9v0.9h-0.9zM357.5,265.0h0.9v0.9h-0.9zM352.8,276.8h0.9v0.9h-0.9zM306.0,276.2h0.9v0.9h-0.9zM337.8,277.8h0.9v0.9h-0.9zM300.0,273.9h0.9v0.9h-0.9zM317.6,280.0h0.9v0.9h-0.9zM330.8,257.2h0.9v0.9h-0.9zM329.9,259.1h0.9v0.9h-0.9zM310.1,277.5h0.9v0.9h-0.9zM309.5,262.2h0.9v0.9h-0.9zM333.4,259.0h0.9v0.9h-0.9zM311.3,278.6h0.9v0.9h-0.9zM326.6,280.2h0.9v0.9h-0.9zM330.1,259.1h0.9v0.9h-0.9zM304.0,275.2h0.9v0.9h-0.9zM311.3,260.8h0.9v0.9h-0.9zM310.0,262.1h0.9v0.9h-0.9zM357.9,263.8h0.9v0.9h-0.9zM313.5,277.1h0.9v0.9h-0.9zM341.1,279.0h0.9v0.9h-0.9zM298.8,265.8h0.9v0.9h-0.9zM349.9,279.7h0.9v0.9h-0.9zM358.5,276.5h0.9v0.9h-0.9zM315.1,261.3h0.9v0.9h-0.9zM305.3,274.8h0.9v0.9h-0.9zM336.7,256.3h0.9v0.9h-0.9zM346.4,276.3h0.9v0.9h-0.9zM353.8,261.2h0.9v0.9h-0.9zM328.1,257.6h0.9v0.9h-0.9zM350.1,279.1h0.9v0.9h-0.9zM321.1,260.5h0.9v0.9h-0.9zM306.0,262.8h0.9v0.9h-0.9zM325.3,277.8h0.9v0.9h-0.9zM316.3,260.2h0.9v0.9h-0.9zM338.8,260.5h0.9v0.9h-0.9zM344.9,260.7h0.9v0.9h-0.9zM360.0,269.4h0.9v0.9h-0.9zM357.5,273.6h0.9v0.9h-0.9zM299.4,262.7h0.9v0.9h-0.9zM352.1,275.8h0.9v0.9h-0.9zM309.1,261.2h0.9v0.9h-0.9zM335.4,280.1h0.9v0.9h-0.9zM336.9,278.4h0.9v0.9h-0.9zM360.4,272.5h0.9v0.9h-0.9zM358.9,271.2h0.9v0.9h-0.9zM309.5,262.2h0.9v0.9h-0.9zM303.1,261.7h0.9v0.9h-0.9zM333.8,277.8h0.9v0.9h-0.9zM360.8,268.6h0.9v0.9h-0.9zM359.2,268.1h0.9v0.9h-0.9zM297.4,271.9h0.9v0.9h-0.9zM321.9,259.6h0.9v0.9h-0.9zM313.4,277.9h0.9v0.9h-0.9zM339.5,278.3h0.9v0.9h-0.9zM299.1,267.7h0.9v0.9h-0.9zM339.3,280.5h0.9v0.9h-0.9zM300.2,262.6h0.9v0.9h-0.9zM357.6,265.5h0.9v0.9h-0.9zM324.4,259.0h0.9v0.9h-0.9zM359.3,270.1h0.9v0.9h-0.9zM324.4,260.2h0.9v0.9h-0.9zM344.8,278.6h0.9v0.9h-0.9zM360.2,268.3h0.9v0.9h-0.9zM311.5,276.4h0.9v0.9h-0.9zM339.3,259.9h0.9v0.9h-0.9zM346.1,276.9h0.9v0.9h-0.9zM297.7,272.7h0.9v0.9h-0.9zM298.5,271.6h0.9v0.9h-0.9zM350.2,277.8h0.9v0.9h-0.9zM336.9,278.5h0.9v0.9h-0.9zM359.8,271.0h0.9v0.9h-0.9zM363.4,265.8h0.9v0.9h-0.9zM326.2,258.7h0.9v0.9h-0.9zM349.8,279.5h0.9v0.9h-0.9zM336.0,277.7h0.9v0.9h-0.9zM343.5,261.1h0.9v0.9h-0.9zM299.3,272.7h0.9v0.9h-0.9zM356.7,274.6h0.9v0.9h-0.9zM308.0,259.7h0.9v0.9h-0.9zM337.4,277.7h0.9v0.9h-0.9zM354.6,261.8h0.9v0.9h-0.9zM350.3,277.1h0.9v0.9h-0.9zM299.6,273.3h0.9v0.9h-0.9zM300.8,274.7h0.9v0.9h-0.9zM324.7,258.2h0.9v0.9h-0.9zM315.9,260.8h0.9v0.9h-0.9zM331.3,278.6h0.9v0.9h-0.9zM348.2,278.2h0.9v0.9h-0.9zM305.6,263.3h0.9v0.9h-0.9zM333.6,284.2h0.9v0.9h-0.9zM336.5,258.1h0.9v0.9h-0.9zM360.0,273.2h0.9v0.9h-0.9zM359.1,267.3h0.9v0.9h-0.9zM331.2,277.9h0.9v0.9h-0.9zM335.1,280.4h0.9v0.9h-0.9zM355.6,263.4h0.9v0.9h-0.9zM346.0,276.3h0.9v0.9h-0.9zM359.3,266.9h0.9v0.9h-0.9zM340.8,278.5h0.9v0.9h-0.9zM353.1,276.8h0.9v0.9h-0.9zM353.3,259.2h0.9v0.9h-0.9zM302.0,265.8h0.9v0.9h-0.9zM296.7,268.8h0.9v0.9h-0.9zM356.3,275.4h0.9v0.9h-0.9zM301.2,266.2h0.9v0.9h-0.9zM328.5,260.1h0.9v0.9h-0.9zM343.6,260.2h0.9v0.9h-0.9zM312.3,261.6h0.9v0.9h-0.9z" fill="#222" opacity="0.8"/>
<path d="M300.60,269.10 C300.60,265.41 314.45,260.90 335.22,260.90 C347.96,260.90 358.30,264.57 358.30,269.10 C358.30,273.52 347.96,277.10 335.22,277.10 C314.45,277.10 300.60,272.70 300.60,269.10 Z" fill="url(#l10)" stroke="none"/>
<g clip-path="url(#c10)">
<ellipse cx="339.0" cy="261.5" rx="13.0" ry="4.8" fill="url(#r11)"/>
<ellipse cx="346.0" cy="268.0" rx="15.0" ry="7.0" fill="url(#r12)"/>
<ellipse cx="345.0" cy="268.5" rx="9.0" ry="0.8" fill="#fff" opacity="0.5"/>
<path d="M308.48,268.68 C308.48,265.73 319.56,262.12 336.18,262.12 C346.37,262.12 354.64,265.06 354.64,268.68 C354.64,272.21 346.37,275.08 336.18,275.08 C319.56,275.08 308.48,271.56 308.48,268.68 Z" fill="none" stroke="#888" stroke-width="0.45"/>
<path d="M315.57,268.30 C315.57,266.01 324.16,263.22 337.04,263.22 C344.94,263.22 351.35,265.50 351.35,268.30 C351.35,271.04 344.94,273.26 337.04,273.26 C324.16,273.26 315.57,270.53 315.57,268.30 Z" fill="none" stroke="#888" stroke-width="0.45"/>
<path d="M322.27,267.94 C322.27,266.28 328.50,264.25 337.85,264.25 C343.58,264.25 348.24,265.91 348.24,267.94 C348.24,269.93 343.58,271.55 337.85,271.55 C328.50,271.55 322.27,269.56 322.27,267.94 Z" fill="none" stroke="#888" stroke-width="0.45"/>
</g>
<path d="M300.60,269.10 C300.60,265.41 314.45,260.90 335.22,260.90 C347.96,260.90 358.30,264.57 358.30,269.10 C358.30,273.52 347.96,277.10 335.22,277.10 C314.45,277.10 300.60,272.70 300.60,269.10 Z" fill="none" stroke="#111" stroke-width="0.8"/>
</g>
<path d="M421.2,289.7h0.9v0.9h-0.9zM422.3,288.6h0.9v0.9h-0.9zM420.4,287.3h0.9v0.9h-0.9zM424.9,285.9h0.9v0.9h-0.9zM424.9,285.5h0.9v0.9h-0.9zM419.9,284.8h0.9v0.9h-0.9zM424.2,285.6h0.9v0.9h-0.9zM425.8,286.5h0.9v0.9h-0.9zM424.2,284.3h0.9v0.9h-0.9zM417.3,283.1h0.9v0.9h-0.9zM423.6,279.8h0.9v0.9h-0.9zM421.5,280.7h0.9v0.9h-0.9zM421.0,279.5h0.9v0.9h-0.9zM425.4,280.0h0.9v0.9h-0.9zM424.0,285.0h0.9v0.9h-0.9zM424.8,276.2h0.9v0.9h-0.9zM423.8,287.7h0.9v0.9h-0.9zM424.9,283.9h0.9v0.9h-0.9zM421.2,284.5h0.9v0.9h-0.9zM425.6,281.6h0.9v0.9h-0.9zM421.3,282.3h0.9v0.9h-0.9zM419.8,280.6h0.9v0.9h-0.9zM420.4,282.4h0.9v0.9h-0.9zM421.4,284.3h0.9v0.9h-0.9zM425.9,278.8h0.9v0.9h-0.9zM424.2,276.9h0.9v0.9h-0.9zM424.8,288.3h0.9v0.9h-0.9zM419.5,282.8h0.9v0.9h-0.9zM419.2,282.4h0.9v0.9h-0.9zM419.0,283.3h0.9v0.9h-0.9zM425.2,285.5h0.9v0.9h-0.9zM424.3,281.6h0.9v0.9h-0.9zM424.3,287.4h0.9v0.9h-0.9zM422.2,279.4h0.9v0.9h-0.9zM417.1,284.3h0.9v0.9h-0.9zM423.1,280.5h0.9v0.9h-0.9zM420.6,274.9h0.9v0.9h-0.9zM418.0,281.1h0.9v0.9h-0.9zM422.2,280.7h0.9v0.9h-0.9zM425.5,279.8h0.9v0.9h-0.9zM421.0,287.2h0.9v0.9h-0.9zM425.8,280.5h0.9v0.9h-0.9zM416.8,283.6h0.9v0.9h-0.9zM425.3,285.6h0.9v0.9h-0.9zM414.9,282.7h0.9v0.9h-0.9z" fill="#222" opacity="0.75"/>
<g >
<path d="M492.4,280.9h0.9v0.9h-0.9zM426.6,287.2h0.9v0.9h-0.9zM457.5,269.7h0.9v0.9h-0.9zM455.4,291.9h0.9v0.9h-0.9zM454.9,292.8h0.9v0.9h-0.9zM436.8,273.4h0.9v0.9h-0.9zM445.8,271.2h0.9v0.9h-0.9zM487.3,288.0h0.9v0.9h-0.9zM476.8,289.7h0.9v0.9h-0.9zM424.1,282.9h0.9v0.9h-0.9zM460.8,271.6h0.9v0.9h-0.9zM483.6,290.6h0.9v0.9h-0.9zM425.7,287.2h0.9v0.9h-0.9zM484.0,289.8h0.9v0.9h-0.9zM491.2,286.5h0.9v0.9h-0.9zM461.6,292.4h0.9v0.9h-0.9zM451.2,294.4h0.9v0.9h-0.9zM468.7,292.6h0.9v0.9h-0.9zM428.5,274.9h0.9v0.9h-0.9zM470.9,295.8h0.9v0.9h-0.9zM432.2,292.1h0.9v0.9h-0.9zM427.8,277.9h0.9v0.9h-0.9zM476.0,274.8h0.9v0.9h-0.9zM488.2,279.9h0.9v0.9h-0.9zM464.4,272.2h0.9v0.9h-0.9zM435.4,290.5h0.9v0.9h-0.9zM466.0,272.5h0.9v0.9h-0.9zM433.5,288.9h0.9v0.9h-0.9zM463.1,292.7h0.9v0.9h-0.9zM434.8,293.6h0.9v0.9h-0.9zM487.7,286.1h0.9v0.9h-0.9zM473.6,272.1h0.9v0.9h-0.9zM480.7,289.0h0.9v0.9h-0.9zM449.1,271.6h0.9v0.9h-0.9zM471.7,292.2h0.9v0.9h-0.9zM426.1,287.6h0.9v0.9h-0.9zM424.7,284.9h0.9v0.9h-0.9zM426.4,278.5h0.9v0.9h-0.9zM425.4,275.5h0.9v0.9h-0.9zM491.1,277.3h0.9v0.9h-0.9zM422.2,279.1h0.9v0.9h-0.9zM472.1,290.6h0.9v0.9h-0.9zM453.8,292.3h0.9v0.9h-0.9zM424.2,286.4h0.9v0.9h-0.9zM443.6,291.7h0.9v0.9h-0.9zM439.6,269.8h0.9v0.9h-0.9zM420.9,285.4h0.9v0.9h-0.9zM489.4,283.2h0.9v0.9h-0.9zM425.3,284.3h0.9v0.9h-0.9zM423.4,278.0h0.9v0.9h-0.9zM438.4,274.8h0.9v0.9h-0.9zM467.4,273.4h0.9v0.9h-0.9zM434.4,293.5h0.9v0.9h-0.9zM470.5,294.5h0.9v0.9h-0.9zM485.7,289.6h0.9v0.9h-0.9zM488.8,285.3h0.9v0.9h-0.9zM456.6,272.1h0.9v0.9h-0.9zM486.6,278.6h0.9v0.9h-0.9zM487.3,278.9h0.9v0.9h-0.9zM422.9,285.1h0.9v0.9h-0.9zM489.8,281.7h0.9v0.9h-0.9zM463.6,293.8h0.9v0.9h-0.9zM420.2,291.2h0.9v0.9h-0.9zM489.2,278.8h0.9v0.9h-0.9zM441.2,273.2h0.9v0.9h-0.9zM434.5,289.0h0.9v0.9h-0.9zM432.0,276.4h0.9v0.9h-0.9zM426.0,285.4h0.9v0.9h-0.9zM458.8,292.6h0.9v0.9h-0.9zM489.2,278.7h0.9v0.9h-0.9zM428.2,275.8h0.9v0.9h-0.9zM487.6,287.0h0.9v0.9h-0.9zM424.6,287.3h0.9v0.9h-0.9zM482.2,272.9h0.9v0.9h-0.9zM452.9,295.7h0.9v0.9h-0.9zM429.9,288.4h0.9v0.9h-0.9zM489.3,283.8h0.9v0.9h-0.9zM449.1,292.8h0.9v0.9h-0.9zM423.9,279.5h0.9v0.9h-0.9zM468.1,272.6h0.9v0.9h-0.9zM458.1,291.5h0.9v0.9h-0.9zM427.7,273.2h0.9v0.9h-0.9zM468.4,294.2h0.9v0.9h-0.9zM482.8,275.3h0.9v0.9h-0.9zM455.7,294.5h0.9v0.9h-0.9zM435.6,289.6h0.9v0.9h-0.9zM455.1,272.4h0.9v0.9h-0.9zM425.2,284.3h0.9v0.9h-0.9zM424.9,284.1h0.9v0.9h-0.9zM448.6,271.1h0.9v0.9h-0.9zM464.2,268.3h0.9v0.9h-0.9zM427.6,287.0h0.9v0.9h-0.9zM489.6,278.5h0.9v0.9h-0.9zM460.4,293.4h0.9v0.9h-0.9zM460.3,270.7h0.9v0.9h-0.9zM462.3,291.3h0.9v0.9h-0.9zM477.8,289.9h0.9v0.9h-0.9zM426.8,291.1h0.9v0.9h-0.9zM427.4,275.5h0.9v0.9h-0.9zM447.8,272.4h0.9v0.9h-0.9zM490.9,284.4h0.9v0.9h-0.9zM474.3,293.8h0.9v0.9h-0.9zM473.2,273.5h0.9v0.9h-0.9zM435.4,274.0h0.9v0.9h-0.9zM460.1,272.9h0.9v0.9h-0.9zM455.7,294.9h0.9v0.9h-0.9zM480.0,273.2h0.9v0.9h-0.9zM467.3,294.5h0.9v0.9h-0.9zM452.4,292.1h0.9v0.9h-0.9zM489.0,282.7h0.9v0.9h-0.9zM460.8,291.5h0.9v0.9h-0.9zM449.1,272.4h0.9v0.9h-0.9zM486.2,278.3h0.9v0.9h-0.9zM476.1,291.7h0.9v0.9h-0.9zM429.1,287.4h0.9v0.9h-0.9zM455.1,292.5h0.9v0.9h-0.9zM483.8,288.1h0.9v0.9h-0.9zM446.3,272.7h0.9v0.9h-0.9zM439.0,293.5h0.9v0.9h-0.9zM468.9,291.4h0.9v0.9h-0.9zM474.9,290.2h0.9v0.9h-0.9zM432.8,289.0h0.9v0.9h-0.9zM467.4,269.7h0.9v0.9h-0.9zM429.1,276.5h0.9v0.9h-0.9zM465.3,269.6h0.9v0.9h-0.9zM483.8,288.6h0.9v0.9h-0.9zM468.1,291.3h0.9v0.9h-0.9zM481.6,288.3h0.9v0.9h-0.9zM427.8,288.4h0.9v0.9h-0.9zM451.8,273.1h0.9v0.9h-0.9zM448.7,292.7h0.9v0.9h-0.9zM445.3,272.6h0.9v0.9h-0.9zM444.9,291.7h0.9v0.9h-0.9zM454.7,292.0h0.9v0.9h-0.9zM472.1,270.4h0.9v0.9h-0.9zM488.3,279.3h0.9v0.9h-0.9zM451.0,271.5h0.9v0.9h-0.9zM431.4,273.9h0.9v0.9h-0.9zM475.5,290.6h0.9v0.9h-0.9zM479.7,275.5h0.9v0.9h-0.9zM423.7,281.8h0.9v0.9h-0.9zM435.3,293.1h0.9v0.9h-0.9zM482.0,288.8h0.9v0.9h-0.9zM432.7,288.5h0.9v0.9h-0.9zM462.6,294.6h0.9v0.9h-0.9zM424.9,284.0h0.9v0.9h-0.9zM425.4,287.3h0.9v0.9h-0.9zM487.1,276.8h0.9v0.9h-0.9zM435.8,273.8h0.9v0.9h-0.9zM488.7,285.4h0.9v0.9h-0.9zM425.1,285.0h0.9v0.9h-0.9zM447.1,291.0h0.9v0.9h-0.9zM425.3,289.4h0.9v0.9h-0.9zM431.6,288.8h0.9v0.9h-0.9zM449.3,291.3h0.9v0.9h-0.9zM478.1,290.5h0.9v0.9h-0.9zM425.0,280.0h0.9v0.9h-0.9zM472.3,290.6h0.9v0.9h-0.9zM439.8,292.5h0.9v0.9h-0.9zM458.3,292.7h0.9v0.9h-0.9zM455.0,272.1h0.9v0.9h-0.9zM484.2,274.2h0.9v0.9h-0.9zM449.2,292.0h0.9v0.9h-0.9zM450.1,272.4h0.9v0.9h-0.9zM488.5,279.0h0.9v0.9h-0.9zM469.2,273.9h0.9v0.9h-0.9zM424.0,285.4h0.9v0.9h-0.9zM475.9,290.3h0.9v0.9h-0.9zM455.8,272.0h0.9v0.9h-0.9zM469.2,292.7h0.9v0.9h-0.9zM426.5,274.4h0.9v0.9h-0.9zM459.6,268.8h0.9v0.9h-0.9zM441.6,293.7h0.9v0.9h-0.9zM470.3,272.6h0.9v0.9h-0.9zM437.4,291.3h0.9v0.9h-0.9zM481.9,290.2h0.9v0.9h-0.9zM435.7,274.1h0.9v0.9h-0.9zM458.0,269.7h0.9v0.9h-0.9zM490.8,281.4h0.9v0.9h-0.9zM457.8,273.1h0.9v0.9h-0.9zM432.7,291.8h0.9v0.9h-0.9zM478.6,291.3h0.9v0.9h-0.9zM438.3,293.4h0.9v0.9h-0.9zM475.8,271.5h0.9v0.9h-0.9zM455.7,269.2h0.9v0.9h-0.9zM438.2,272.9h0.9v0.9h-0.9zM424.7,286.7h0.9v0.9h-0.9zM463.4,272.3h0.9v0.9h-0.9zM439.6,291.2h0.9v0.9h-0.9zM483.9,291.6h0.9v0.9h-0.9zM461.4,292.0h0.9v0.9h-0.9zM486.3,287.1h0.9v0.9h-0.9zM430.1,290.0h0.9v0.9h-0.9zM489.7,277.2h0.9v0.9h-0.9zM422.5,286.3h0.9v0.9h-0.9zM453.6,271.2h0.9v0.9h-0.9zM482.5,290.1h0.9v0.9h-0.9zM472.3,272.0h0.9v0.9h-0.9zM480.1,275.7h0.9v0.9h-0.9zM465.4,294.8h0.9v0.9h-0.9zM445.9,269.4h0.9v0.9h-0.9zM485.0,275.6h0.9v0.9h-0.9zM450.3,272.1h0.9v0.9h-0.9zM484.1,289.1h0.9v0.9h-0.9zM436.4,293.1h0.9v0.9h-0.9zM455.8,272.3h0.9v0.9h-0.9zM493.4,281.1h0.9v0.9h-0.9zM433.2,290.0h0.9v0.9h-0.9zM446.7,291.6h0.9v0.9h-0.9zM453.2,270.7h0.9v0.9h-0.9zM441.2,273.6h0.9v0.9h-0.9zM490.2,277.0h0.9v0.9h-0.9zM469.9,292.2h0.9v0.9h-0.9zM425.6,278.1h0.9v0.9h-0.9zM485.9,276.5h0.9v0.9h-0.9zM492.0,285.8h0.9v0.9h-0.9zM489.5,277.5h0.9v0.9h-0.9zM486.9,276.7h0.9v0.9h-0.9zM467.5,271.2h0.9v0.9h-0.9zM431.2,276.3h0.9v0.9h-0.9zM422.6,280.8h0.9v0.9h-0.9zM484.2,289.3h0.9v0.9h-0.9zM456.5,270.2h0.9v0.9h-0.9zM455.7,292.8h0.9v0.9h-0.9zM484.1,274.4h0.9v0.9h-0.9zM429.5,277.4h0.9v0.9h-0.9zM448.8,269.9h0.9v0.9h-0.9zM474.4,269.5h0.9v0.9h-0.9zM426.0,287.3h0.9v0.9h-0.9zM486.0,287.0h0.9v0.9h-0.9zM425.1,285.7h0.9v0.9h-0.9zM489.2,282.2h0.9v0.9h-0.9zM467.0,292.6h0.9v0.9h-0.9zM429.8,287.9h0.9v0.9h-0.9zM463.2,292.5h0.9v0.9h-0.9zM468.1,292.3h0.9v0.9h-0.9zM425.0,283.7h0.9v0.9h-0.9zM490.5,279.4h0.9v0.9h-0.9zM467.1,291.8h0.9v0.9h-0.9zM477.0,292.7h0.9v0.9h-0.9zM489.4,279.3h0.9v0.9h-0.9zM437.1,291.7h0.9v0.9h-0.9zM431.3,290.9h0.9v0.9h-0.9zM478.8,271.1h0.9v0.9h-0.9zM452.6,273.1h0.9v0.9h-0.9zM434.6,273.7h0.9v0.9h-0.9zM447.3,292.4h0.9v0.9h-0.9zM440.1,273.3h0.9v0.9h-0.9zM435.6,289.6h0.9v0.9h-0.9zM465.0,272.6h0.9v0.9h-0.9zM488.0,277.5h0.9v0.9h-0.9zM429.6,291.1h0.9v0.9h-0.9zM467.0,270.5h0.9v0.9h-0.9zM442.5,292.6h0.9v0.9h-0.9zM482.0,276.5h0.9v0.9h-0.9zM424.1,279.3h0.9v0.9h-0.9zM440.8,292.2h0.9v0.9h-0.9zM432.2,276.2h0.9v0.9h-0.9zM432.0,290.5h0.9v0.9h-0.9zM484.2,277.1h0.9v0.9h-0.9zM470.9,272.1h0.9v0.9h-0.9zM445.1,273.5h0.9v0.9h-0.9zM467.8,273.0h0.9v0.9h-0.9zM461.2,291.6h0.9v0.9h-0.9zM450.7,269.7h0.9v0.9h-0.9zM487.6,278.4h0.9v0.9h-0.9zM485.5,277.6h0.9v0.9h-0.9zM468.1,292.3h0.9v0.9h-0.9zM484.0,289.2h0.9v0.9h-0.9zM457.6,272.6h0.9v0.9h-0.9zM486.9,285.9h0.9v0.9h-0.9zM489.3,284.2h0.9v0.9h-0.9zM473.6,290.9h0.9v0.9h-0.9zM431.6,274.4h0.9v0.9h-0.9zM489.0,280.8h0.9v0.9h-0.9zM432.0,288.9h0.9v0.9h-0.9zM495.0,281.3h0.9v0.9h-0.9zM471.4,291.7h0.9v0.9h-0.9zM454.3,271.5h0.9v0.9h-0.9zM423.4,279.1h0.9v0.9h-0.9zM465.0,273.0h0.9v0.9h-0.9zM425.3,286.6h0.9v0.9h-0.9zM431.2,289.2h0.9v0.9h-0.9zM477.3,274.0h0.9v0.9h-0.9zM471.3,290.9h0.9v0.9h-0.9zM445.2,272.5h0.9v0.9h-0.9zM421.3,280.2h0.9v0.9h-0.9zM466.4,272.2h0.9v0.9h-0.9zM452.5,270.7h0.9v0.9h-0.9zM489.9,277.9h0.9v0.9h-0.9zM443.8,292.0h0.9v0.9h-0.9zM453.1,292.4h0.9v0.9h-0.9zM471.1,270.3h0.9v0.9h-0.9zM444.8,273.8h0.9v0.9h-0.9zM431.9,274.7h0.9v0.9h-0.9zM476.9,274.3h0.9v0.9h-0.9zM486.6,291.7h0.9v0.9h-0.9zM458.2,273.0h0.9v0.9h-0.9zM484.5,274.4h0.9v0.9h-0.9zM426.7,289.5h0.9v0.9h-0.9zM482.9,289.9h0.9v0.9h-0.9zM481.9,291.7h0.9v0.9h-0.9zM455.5,292.7h0.9v0.9h-0.9zM437.3,271.4h0.9v0.9h-0.9zM463.9,291.3h0.9v0.9h-0.9zM451.1,296.0h0.9v0.9h-0.9zM491.6,282.1h0.9v0.9h-0.9zM428.1,278.0h0.9v0.9h-0.9zM478.2,272.9h0.9v0.9h-0.9zM489.0,277.2h0.9v0.9h-0.9zM476.8,292.1h0.9v0.9h-0.9zM489.2,288.5h0.9v0.9h-0.9zM478.6,290.1h0.9v0.9h-0.9zM434.1,289.1h0.9v0.9h-0.9zM424.6,284.1h0.9v0.9h-0.9zM476.2,272.5h0.9v0.9h-0.9zM425.0,284.7h0.9v0.9h-0.9zM452.7,272.0h0.9v0.9h-0.9zM477.7,289.9h0.9v0.9h-0.9zM480.6,290.7h0.9v0.9h-0.9zM473.2,290.2h0.9v0.9h-0.9zM425.2,284.1h0.9v0.9h-0.9zM462.8,296.2h0.9v0.9h-0.9zM432.6,275.8h0.9v0.9h-0.9zM423.0,278.4h0.9v0.9h-0.9zM424.9,288.6h0.9v0.9h-0.9zM443.4,271.9h0.9v0.9h-0.9zM460.5,293.9h0.9v0.9h-0.9zM487.4,273.3h0.9v0.9h-0.9zM443.9,272.8h0.9v0.9h-0.9zM477.7,290.1h0.9v0.9h-0.9zM422.8,283.2h0.9v0.9h-0.9zM459.3,271.1h0.9v0.9h-0.9zM474.1,293.9h0.9v0.9h-0.9zM492.6,279.5h0.9v0.9h-0.9zM428.2,275.7h0.9v0.9h-0.9zM444.3,292.6h0.9v0.9h-0.9zM465.8,291.7h0.9v0.9h-0.9zM425.7,276.0h0.9v0.9h-0.9zM444.0,270.9h0.9v0.9h-0.9zM425.3,279.0h0.9v0.9h-0.9zM441.3,272.8h0.9v0.9h-0.9zM489.2,279.7h0.9v0.9h-0.9zM490.9,279.1h0.9v0.9h-0.9zM465.6,291.3h0.9v0.9h-0.9zM480.7,290.2h0.9v0.9h-0.9zM486.8,275.4h0.9v0.9h-0.9zM442.9,273.4h0.9v0.9h-0.9zM428.3,286.7h0.9v0.9h-0.9zM444.4,293.1h0.9v0.9h-0.9zM482.9,276.8h0.9v0.9h-0.9zM471.2,273.7h0.9v0.9h-0.9zM472.7,273.0h0.9v0.9h-0.9zM486.9,276.6h0.9v0.9h-0.9zM442.5,292.3h0.9v0.9h-0.9zM429.1,291.3h0.9v0.9h-0.9zM490.3,280.5h0.9v0.9h-0.9zM456.1,271.9h0.9v0.9h-0.9zM439.9,272.8h0.9v0.9h-0.9zM491.3,281.7h0.9v0.9h-0.9zM474.0,292.4h0.9v0.9h-0.9zM425.7,278.1h0.9v0.9h-0.9zM477.0,290.5h0.9v0.9h-0.9zM475.7,290.2h0.9v0.9h-0.9zM423.5,282.1h0.9v0.9h-0.9zM427.0,278.4h0.9v0.9h-0.9zM486.7,286.0h0.9v0.9h-0.9zM459.5,291.6h0.9v0.9h-0.9zM458.6,295.6h0.9v0.9h-0.9zM423.4,284.8h0.9v0.9h-0.9zM462.5,294.5h0.9v0.9h-0.9zM473.8,269.4h0.9v0.9h-0.9zM431.6,276.5h0.9v0.9h-0.9zM486.0,286.9h0.9v0.9h-0.9zM437.8,274.1h0.9v0.9h-0.9zM445.3,292.4h0.9v0.9h-0.9zM474.9,290.6h0.9v0.9h-0.9zM442.5,291.1h0.9v0.9h-0.9zM473.2,292.5h0.9v0.9h-0.9zM479.9,289.6h0.9v0.9h-0.9zM434.1,274.7h0.9v0.9h-0.9zM421.8,281.5h0.9v0.9h-0.9zM450.1,271.2h0.9v0.9h-0.9zM472.9,293.3h0.9v0.9h-0.9zM484.1,288.8h0.9v0.9h-0.9zM490.2,282.7h0.9v0.9h-0.9zM484.3,288.2h0.9v0.9h-0.9zM489.3,281.9h0.9v0.9h-0.9zM462.4,294.6h0.9v0.9h-0.9zM444.8,273.4h0.9v0.9h-0.9zM425.5,279.2h0.9v0.9h-0.9zM485.9,275.4h0.9v0.9h-0.9zM467.8,290.9h0.9v0.9h-0.9zM423.4,282.8h0.9v0.9h-0.9zM469.9,268.9h0.9v0.9h-0.9zM477.4,291.8h0.9v0.9h-0.9zM446.3,271.2h0.9v0.9h-0.9zM489.3,280.4h0.9v0.9h-0.9zM482.1,292.2h0.9v0.9h-0.9zM487.2,285.9h0.9v0.9h-0.9zM446.0,271.7h0.9v0.9h-0.9zM449.2,271.1h0.9v0.9h-0.9zM489.3,282.7h0.9v0.9h-0.9zM452.1,272.4h0.9v0.9h-0.9zM479.1,274.7h0.9v0.9h-0.9zM480.7,288.6h0.9v0.9h-0.9zM487.8,285.2h0.9v0.9h-0.9zM479.8,273.8h0.9v0.9h-0.9zM464.3,269.0h0.9v0.9h-0.9zM428.4,274.2h0.9v0.9h-0.9zM425.4,274.8h0.9v0.9h-0.9zM423.9,280.7h0.9v0.9h-0.9zM423.0,281.3h0.9v0.9h-0.9zM462.4,293.9h0.9v0.9h-0.9zM429.0,287.1h0.9v0.9h-0.9zM469.4,291.3h0.9v0.9h-0.9zM447.4,269.8h0.9v0.9h-0.9zM422.7,280.3h0.9v0.9h-0.9zM434.1,290.1h0.9v0.9h-0.9zM430.5,288.8h0.9v0.9h-0.9z" fill="#222" opacity="0.8"/>
<path d="M425.30,282.40 C425.30,278.53 440.44,273.80 463.16,273.80 C477.09,273.80 488.40,277.65 488.40,282.40 C488.40,287.04 477.09,290.80 463.16,290.80 C440.44,290.80 425.30,286.18 425.30,282.40 Z" fill="url(#l13)" stroke="none"/>
<g clip-path="url(#c13)">
<ellipse cx="472.0" cy="276.5" rx="11.0" ry="4.8" fill="url(#r14)"/>
<ellipse cx="470.0" cy="284.0" rx="16.0" ry="6.5" fill="url(#r15)"/>
<ellipse cx="470.0" cy="281.5" rx="9.0" ry="0.8" fill="#fff" opacity="0.5"/>
<path d="M434.24,282.12 C434.24,279.02 446.36,275.24 464.53,275.24 C475.67,275.24 484.72,278.32 484.72,282.12 C484.72,285.83 475.67,288.84 464.53,288.84 C446.36,288.84 434.24,285.14 434.24,282.12 Z" fill="none" stroke="#888" stroke-width="0.45"/>
<path d="M442.29,281.87 C442.29,279.47 451.68,276.54 465.76,276.54 C474.40,276.54 481.41,278.92 481.41,281.87 C481.41,284.74 474.40,287.08 465.76,287.08 C451.68,287.08 442.29,284.21 442.29,281.87 Z" fill="none" stroke="#888" stroke-width="0.45"/>
<path d="M449.88,281.63 C449.88,279.89 456.70,277.76 466.92,277.76 C473.19,277.76 478.28,279.49 478.28,281.63 C478.28,283.72 473.19,285.41 466.92,285.41 C456.70,285.41 449.88,283.33 449.88,281.63 Z" fill="none" stroke="#888" stroke-width="0.45"/>
</g>
<path d="M425.30,282.40 C425.30,278.53 440.44,273.80 463.16,273.80 C477.09,273.80 488.40,277.65 488.40,282.40 C488.40,287.04 477.09,290.80 463.16,290.80 C440.44,290.80 425.30,286.18 425.30,282.40 Z" fill="none" stroke="#111" stroke-width="0.8"/>
</g>
<g transform="rotate(-3,312.1,389.4)">
<path d="M315.7,400.0h0.9v0.9h-0.9zM295.8,398.1h0.9v0.9h-0.9zM330.2,398.0h0.9v0.9h-0.9zM317.7,379.5h0.9v0.9h-0.9zM303.1,379.0h0.9v0.9h-0.9zM338.2,395.7h0.9v0.9h-0.9zM286.0,387.5h0.9v0.9h-0.9zM337.5,387.2h0.9v0.9h-0.9zM332.5,396.5h0.9v0.9h-0.9zM310.1,379.5h0.9v0.9h-0.9zM285.6,390.4h0.9v0.9h-0.9zM332.8,382.7h0.9v0.9h-0.9zM289.0,394.9h0.9v0.9h-0.9zM333.6,395.3h0.9v0.9h-0.9zM328.3,378.9h0.9v0.9h-0.9zM327.6,381.1h0.9v0.9h-0.9zM315.8,379.9h0.9v0.9h-0.9zM331.3,397.1h0.9v0.9h-0.9zM290.8,383.5h0.9v0.9h-0.9zM337.9,390.8h0.9v0.9h-0.9zM294.4,396.3h0.9v0.9h-0.9zM299.3,398.1h0.9v0.9h-0.9zM338.4,390.9h0.9v0.9h-0.9zM292.2,382.5h0.9v0.9h-0.9zM305.8,401.0h0.9v0.9h-0.9zM288.6,384.0h0.9v0.9h-0.9zM296.4,381.8h0.9v0.9h-0.9zM330.9,396.4h0.9v0.9h-0.9zM295.1,397.8h0.9v0.9h-0.9zM331.3,395.8h0.9v0.9h-0.9zM313.2,401.3h0.9v0.9h-0.9zM292.9,396.1h0.9v0.9h-0.9zM316.4,379.3h0.9v0.9h-0.9zM320.7,398.4h0.9v0.9h-0.9zM316.7,378.4h0.9v0.9h-0.9zM287.5,386.3h0.9v0.9h-0.9zM310.5,399.2h0.9v0.9h-0.9zM287.4,394.0h0.9v0.9h-0.9zM336.1,394.0h0.9v0.9h-0.9zM334.4,395.9h0.9v0.9h-0.9zM305.9,399.0h0.9v0.9h-0.9zM285.7,388.1h0.9v0.9h-0.9zM284.9,390.0h0.9v0.9h-0.9zM289.2,394.7h0.9v0.9h-0.9zM292.6,382.2h0.9v0.9h-0.9zM287.0,392.4h0.9v0.9h-0.9zM297.9,381.2h0.9v0.9h-0.9zM300.1,398.3h0.9v0.9h-0.9zM289.4,395.1h0.9v0.9h-0.9zM295.5,397.6h0.9v0.9h-0.9zM298.8,379.7h0.9v0.9h-0.9zM292.5,398.2h0.9v0.9h-0.9zM293.9,396.7h0.9v0.9h-0.9zM286.6,392.5h0.9v0.9h-0.9zM284.4,389.7h0.9v0.9h-0.9zM301.9,398.2h0.9v0.9h-0.9zM304.0,399.2h0.9v0.9h-0.9zM324.3,398.3h0.9v0.9h-0.9zM329.6,397.9h0.9v0.9h-0.9zM325.5,398.1h0.9v0.9h-0.9zM292.6,381.6h0.9v0.9h-0.9zM316.3,399.4h0.9v0.9h-0.9zM312.7,378.6h0.9v0.9h-0.9zM287.1,393.2h0.9v0.9h-0.9zM332.9,397.0h0.9v0.9h-0.9zM339.3,392.7h0.9v0.9h-0.9zM309.3,398.9h0.9v0.9h-0.9zM323.4,398.0h0.9v0.9h-0.9zM331.9,383.3h0.9v0.9h-0.9zM325.0,378.6h0.9v0.9h-0.9zM319.6,398.8h0.9v0.9h-0.9zM323.6,398.2h0.9v0.9h-0.9zM333.3,395.0h0.9v0.9h-0.9zM305.2,400.9h0.9v0.9h-0.9zM330.1,381.2h0.9v0.9h-0.9zM287.9,393.5h0.9v0.9h-0.9zM322.1,377.7h0.9v0.9h-0.9zM286.9,394.3h0.9v0.9h-0.9zM298.3,397.8h0.9v0.9h-0.9zM286.3,392.2h0.9v0.9h-0.9zM337.1,386.5h0.9v0.9h-0.9zM311.3,380.2h0.9v0.9h-0.9zM331.2,398.0h0.9v0.9h-0.9zM338.0,385.5h0.9v0.9h-0.9zM337.7,391.1h0.9v0.9h-0.9zM311.4,379.6h0.9v0.9h-0.9zM297.3,397.8h0.9v0.9h-0.9zM298.0,380.8h0.9v0.9h-0.9zM334.5,384.6h0.9v0.9h-0.9zM285.6,388.9h0.9v0.9h-0.9zM296.2,398.9h0.9v0.9h-0.9zM333.8,395.7h0.9v0.9h-0.9zM293.5,397.1h0.9v0.9h-0.9zM317.4,400.9h0.9v0.9h-0.9zM311.5,398.6h0.9v0.9h-0.9zM287.5,385.8h0.9v0.9h-0.9zM316.5,379.8h0.9v0.9h-0.9zM329.1,381.2h0.9v0.9h-0.9zM287.0,395.0h0.9v0.9h-0.9zM336.2,394.7h0.9v0.9h-0.9zM289.6,395.0h0.9v0.9h-0.9zM332.5,396.0h0.9v0.9h-0.9zM286.3,391.2h0.9v0.9h-0.9zM288.2,393.1h0.9v0.9h-0.9zM337.2,392.1h0.9v0.9h-0.9zM315.0,379.3h0.9v0.9h-0.9zM317.1,380.1h0.9v0.9h-0.9zM306.9,399.2h0.9v0.9h-0.9zM301.9,399.0h0.9v0.9h-0.9zM308.5,398.6h0.9v0.9h-0.9zM325.8,380.9h0.9v0.9h-0.9zM335.9,393.1h0.9v0.9h-0.9zM285.8,390.2h0.9v0.9h-0.9zM304.1,399.9h0.9v0.9h-0.9zM330.8,397.7h0.9v0.9h-0.9zM339.6,390.2h0.9v0.9h-0.9zM317.1,379.0h0.9v0.9h-0.9zM294.3,399.0h0.9v0.9h-0.9zM291.5,396.9h0.9v0.9h-0.9zM336.0,394.9h0.9v0.9h-0.9zM288.4,393.3h0.9v0.9h-0.9zM324.7,380.7h0.9v0.9h-0.9zM332.5,382.2h0.9v0.9h-0.9zM298.2,379.8h0.9v0.9h-0.9zM312.9,399.0h0.9v0.9h-0.9zM321.8,400.8h0.9v0.9h-0.9zM340.5,390.9h0.9v0.9h-0.9zM294.7,381.8h0.9v0.9h-0.9zM304.2,398.3h0.9v0.9h-0.9zM301.9,399.0h0.9v0.9h-0.9zM339.3,391.4h0.9v0.9h-0.9zM300.5,398.0h0.9v0.9h-0.9zM299.8,380.6h0.9v0.9h-0.9zM318.8,378.1h0.9v0.9h-0.9zM331.5,396.3h0.9v0.9h-0.9zM336.8,395.2h0.9v0.9h-0.9zM319.7,398.6h0.9v0.9h-0.9zM285.1,389.3h0.9v0.9h-0.9zM304.1,399.4h0.9v0.9h-0.9zM293.0,396.2h0.9v0.9h-0.9zM300.5,401.3h0.9v0.9h-0.9zM324.8,381.3h0.9v0.9h-0.9zM315.9,399.6h0.9v0.9h-0.9zM316.4,398.6h0.9v0.9h-0.9zM327.0,398.1h0.9v0.9h-0.9zM288.8,394.5h0.9v0.9h-0.9zM287.9,385.3h0.9v0.9h-0.9zM338.2,392.1h0.9v0.9h-0.9zM289.9,383.9h0.9v0.9h-0.9zM336.4,393.9h0.9v0.9h-0.9zM321.1,398.8h0.9v0.9h-0.9zM330.3,396.9h0.9v0.9h-0.9zM335.8,393.3h0.9v0.9h-0.9zM321.1,399.8h0.9v0.9h-0.9zM289.0,395.9h0.9v0.9h-0.9zM313.6,400.8h0.9v0.9h-0.9zM333.4,395.5h0.9v0.9h-0.9zM290.5,395.0h0.9v0.9h-0.9zM336.1,393.6h0.9v0.9h-0.9zM290.2,384.1h0.9v0.9h-0.9zM322.3,399.5h0.9v0.9h-0.9zM307.1,398.8h0.9v0.9h-0.9zM292.5,396.6h0.9v0.9h-0.9zM335.8,395.2h0.9v0.9h-0.9zM307.3,380.3h0.9v0.9h-0.9zM290.1,394.9h0.9v0.9h-0.9zM333.6,379.9h0.9v0.9h-0.9zM336.7,385.4h0.9v0.9h-0.9zM319.6,400.0h0.9v0.9h-0.9zM296.7,381.4h0.9v0.9h-0.9zM328.3,396.8h0.9v0.9h-0.9zM314.9,398.7h0.9v0.9h-0.9zM313.9,399.2h0.9v0.9h-0.9zM296.9,381.0h0.9v0.9h-0.9zM337.3,386.8h0.9v0.9h-0.9zM288.9,394.4h0.9v0.9h-0.9zM296.7,379.7h0.9v0.9h-0.9zM288.2,384.2h0.9v0.9h-0.9zM339.9,385.4h0.9v0.9h-0.9zM338.5,388.8h0.9v0.9h-0.9zM311.0,379.3h0.9v0.9h-0.9zM336.4,385.1h0.9v0.9h-0.9zM318.1,379.7h0.9v0.9h-0.9zM302.3,398.7h0.9v0.9h-0.9zM327.0,379.2h0.9v0.9h-0.9zM307.2,398.7h0.9v0.9h-0.9zM297.1,398.2h0.9v0.9h-0.9zM316.4,399.8h0.9v0.9h-0.9zM303.6,400.5h0.9v0.9h-0.9zM316.8,398.6h0.9v0.9h-0.9zM328.6,382.1h0.9v0.9h-0.9zM338.1,389.4h0.9v0.9h-0.9zM297.6,398.1h0.9v0.9h-0.9zM289.9,384.6h0.9v0.9h-0.9zM338.5,386.9h0.9v0.9h-0.9zM339.8,388.3h0.9v0.9h-0.9zM339.5,391.4h0.9v0.9h-0.9zM321.8,378.4h0.9v0.9h-0.9zM326.7,397.8h0.9v0.9h-0.9zM309.6,399.3h0.9v0.9h-0.9zM288.0,383.4h0.9v0.9h-0.9zM293.8,380.5h0.9v0.9h-0.9zM288.0,384.5h0.9v0.9h-0.9zM335.8,384.3h0.9v0.9h-0.9zM305.2,379.8h0.9v0.9h-0.9zM296.0,379.8h0.9v0.9h-0.9zM287.3,393.4h0.9v0.9h-0.9zM313.7,378.7h0.9v0.9h-0.9zM299.2,398.7h0.9v0.9h-0.9zM334.8,395.4h0.9v0.9h-0.9zM336.6,386.3h0.9v0.9h-0.9zM287.5,393.1h0.9v0.9h-0.9zM336.5,393.4h0.9v0.9h-0.9zM313.6,401.5h0.9v0.9h-0.9zM289.3,396.0h0.9v0.9h-0.9zM316.9,380.3h0.9v0.9h-0.9zM285.2,390.1h0.9v0.9h-0.9zM296.4,381.2h0.9v0.9h-0.9zM323.9,399.4h0.9v0.9h-0.9zM338.4,394.0h0.9v0.9h-0.9zM303.8,379.4h0.9v0.9h-0.9zM325.4,381.3h0.9v0.9h-0.9zM293.1,395.8h0.9v0.9h-0.9zM309.1,399.7h0.9v0.9h-0.9zM296.3,397.9h0.9v0.9h-0.9zM320.2,379.2h0.9v0.9h-0.9zM330.1,381.4h0.9v0.9h-0.9zM289.3,394.5h0.9v0.9h-0.9zM335.1,383.9h0.9v0.9h-0.9zM306.6,399.2h0.9v0.9h-0.9zM314.0,379.4h0.9v0.9h-0.9zM299.3,399.1h0.9v0.9h-0.9zM334.4,383.7h0.9v0.9h-0.9zM315.1,400.7h0.9v0.9h-0.9zM338.1,387.1h0.9v0.9h-0.9zM284.6,391.6h0.9v0.9h-0.9zM324.7,397.9h0.9v0.9h-0.9zM292.7,397.7h0.9v0.9h-0.9zM320.6,398.5h0.9v0.9h-0.9zM316.0,400.4h0.9v0.9h-0.9zM300.5,398.0h0.9v0.9h-0.9zM337.6,385.9h0.9v0.9h-0.9zM286.2,388.3h0.9v0.9h-0.9zM297.5,397.9h0.9v0.9h-0.9zM316.1,378.7h0.9v0.9h-0.9zM340.9,391.7h0.9v0.9h-0.9zM325.4,397.5h0.9v0.9h-0.9zM291.6,395.5h0.9v0.9h-0.9zM334.3,394.5h0.9v0.9h-0.9zM303.7,398.7h0.9v0.9h-0.9zM320.3,380.3h0.9v0.9h-0.9zM328.1,397.1h0.9v0.9h-0.9zM336.6,385.1h0.9v0.9h-0.9zM289.9,394.5h0.9v0.9h-0.9zM314.8,379.7h0.9v0.9h-0.9zM294.8,381.2h0.9v0.9h-0.9zM325.0,381.3h0.9v0.9h-0.9zM302.1,399.0h0.9v0.9h-0.9zM287.2,383.4h0.9v0.9h-0.9zM311.9,400.4h0.9v0.9h-0.9zM298.2,399.3h0.9v0.9h-0.9zM294.0,396.1h0.9v0.9h-0.9zM333.5,396.0h0.9v0.9h-0.9zM315.6,380.0h0.9v0.9h-0.9zM332.5,396.0h0.9v0.9h-0.9zM336.2,392.9h0.9v0.9h-0.9zM329.1,397.0h0.9v0.9h-0.9zM298.7,380.2h0.9v0.9h-0.9zM338.2,391.8h0.9v0.9h-0.9zM313.4,399.1h0.9v0.9h-0.9zM284.8,386.2h0.9v0.9h-0.9zM330.0,396.4h0.9v0.9h-0.9zM324.5,398.6h0.9v0.9h-0.9zM306.9,399.5h0.9v0.9h-0.9zM293.1,397.0h0.9v0.9h-0.9zM337.6,383.8h0.9v0.9h-0.9zM311.1,399.7h0.9v0.9h-0.9zM332.6,395.2h0.9v0.9h-0.9zM288.3,394.1h0.9v0.9h-0.9zM285.0,391.1h0.9v0.9h-0.9zM302.2,400.4h0.9v0.9h-0.9zM310.6,379.6h0.9v0.9h-0.9zM285.5,388.2h0.9v0.9h-0.9zM286.1,394.6h0.9v0.9h-0.9zM336.0,383.7h0.9v0.9h-0.9zM287.1,394.4h0.9v0.9h-0.9zM289.2,396.3h0.9v0.9h-0.9zM338.2,391.2h0.9v0.9h-0.9zM295.0,397.6h0.9v0.9h-0.9zM286.2,391.8h0.9v0.9h-0.9zM285.0,392.8h0.9v0.9h-0.9zM316.8,400.0h0.9v0.9h-0.9zM332.2,382.5h0.9v0.9h-0.9zM294.9,382.0h0.9v0.9h-0.9zM286.2,388.1h0.9v0.9h-0.9zM287.1,393.4h0.9v0.9h-0.9zM287.3,393.0h0.9v0.9h-0.9zM290.2,383.4h0.9v0.9h-0.9zM301.9,398.3h0.9v0.9h-0.9zM287.3,393.3h0.9v0.9h-0.9zM323.0,398.1h0.9v0.9h-0.9zM317.3,380.2h0.9v0.9h-0.9zM286.6,394.7h0.9v0.9h-0.9zM337.1,393.4h0.9v0.9h-0.9zM292.9,397.6h0.9v0.9h-0.9zM323.2,379.4h0.9v0.9h-0.9zM337.5,392.6h0.9v0.9h-0.9zM296.1,397.5h0.9v0.9h-0.9zM332.4,396.1h0.9v0.9h-0.9zM323.1,399.9h0.9v0.9h-0.9zM297.3,397.6h0.9v0.9h-0.9zM290.5,382.7h0.9v0.9h-0.9zM321.6,399.1h0.9v0.9h-0.9zM300.1,380.8h0.9v0.9h-0.9zM290.8,395.2h0.9v0.9h-0.9zM339.5,390.6h0.9v0.9h-0.9zM307.1,378.6h0.9v0.9h-0.9zM315.0,399.2h0.9v0.9h-0.9zM296.7,399.0h0.9v0.9h-0.9zM288.4,384.0h0.9v0.9h-0.9zM289.6,394.1h0.9v0.9h-0.9zM339.1,392.2h0.9v0.9h-0.9zM293.2,397.4h0.9v0.9h-0.9zM287.4,386.0h0.9v0.9h-0.9zM314.2,398.6h0.9v0.9h-0.9zM339.2,389.4h0.9v0.9h-0.9zM294.9,380.4h0.9v0.9h-0.9zM309.4,379.8h0.9v0.9h-0.9zM290.5,382.4h0.9v0.9h-0.9zM320.4,398.5h0.9v0.9h-0.9zM297.2,397.5h0.9v0.9h-0.9zM296.1,398.5h0.9v0.9h-0.9zM329.1,398.0h0.9v0.9h-0.9zM284.1,387.8h0.9v0.9h-0.9zM306.7,400.6h0.9v0.9h-0.9zM303.6,380.6h0.9v0.9h-0.9zM324.6,401.0h0.9v0.9h-0.9zM317.2,398.7h0.9v0.9h-0.9zM325.3,381.3h0.9v0.9h-0.9zM338.0,390.3h0.9v0.9h-0.9zM331.5,396.6h0.9v0.9h-0.9zM329.2,397.8h0.9v0.9h-0.9zM303.4,398.8h0.9v0.9h-0.9zM316.1,378.6h0.9v0.9h-0.9zM318.9,377.9h0.9v0.9h-0.9zM284.9,391.8h0.9v0.9h-0.9zM286.7,394.5h0.9v0.9h-0.9zM298.4,397.4h0.9v0.9h-0.9zM325.3,379.7h0.9v0.9h-0.9zM285.6,389.5h0.9v0.9h-0.9zM288.3,395.3h0.9v0.9h-0.9zM322.0,399.0h0.9v0.9h-0.9zM310.1,398.9h0.9v0.9h-0.9zM324.1,399.2h0.9v0.9h-0.9zM330.9,397.0h0.9v0.9h-0.9zM314.6,379.1h0.9v0.9h-0.9zM291.4,395.6h0.9v0.9h-0.9zM297.8,397.8h0.9v0.9h-0.9zM287.0,386.2h0.9v0.9h-0.9zM331.2,396.1h0.9v0.9h-0.9zM285.5,393.5h0.9v0.9h-0.9zM332.7,395.3h0.9v0.9h-0.9zM301.8,379.7h0.9v0.9h-0.9zM286.6,394.1h0.9v0.9h-0.9zM285.3,392.0h0.9v0.9h-0.9zM303.9,399.7h0.9v0.9h-0.9zM334.8,394.2h0.9v0.9h-0.9zM300.4,377.8h0.9v0.9h-0.9zM298.1,397.7h0.9v0.9h-0.9zM308.4,377.1h0.9v0.9h-0.9zM288.2,393.3h0.9v0.9h-0.9zM322.7,377.8h0.9v0.9h-0.9zM334.4,394.8h0.9v0.9h-0.9zM338.2,389.0h0.9v0.9h-0.9zM332.9,383.0h0.9v0.9h-0.9zM318.4,398.4h0.9v0.9h-0.9zM286.6,391.0h0.9v0.9h-0.9zM332.9,396.3h0.9v0.9h-0.9zM338.5,393.2h0.9v0.9h-0.9zM285.3,390.0h0.9v0.9h-0.9zM289.0,395.2h0.9v0.9h-0.9zM289.7,394.1h0.9v0.9h-0.9zM296.5,380.4h0.9v0.9h-0.9zM333.4,379.5h0.9v0.9h-0.9zM324.1,397.9h0.9v0.9h-0.9zM318.3,401.4h0.9v0.9h-0.9zM285.8,390.6h0.9v0.9h-0.9zM303.9,380.6h0.9v0.9h-0.9zM308.1,399.7h0.9v0.9h-0.9zM290.7,383.4h0.9v0.9h-0.9z" fill="#222" opacity="0.8"/>
<path d="M286.90,389.40 C286.90,384.67 298.26,380.80 312.15,380.80 C326.09,380.80 337.40,384.65 337.40,389.40 C337.40,394.15 326.09,398.00 312.15,398.00 C298.26,398.00 286.90,394.13 286.90,389.40 Z" fill="url(#l16)" stroke="none"/>
<g clip-path="url(#c16)">
<ellipse cx="317.0" cy="386.4" rx="15.0" ry="3.8" fill="url(#r17)"/>
<ellipse cx="319.0" cy="392.0" rx="15.0" ry="3.8" fill="url(#r18)"/>
<ellipse cx="314.0" cy="389.2" rx="21.0" ry="7.5" fill="url(#r19)"/>
<ellipse cx="318.0" cy="389.2" rx="11.0" ry="0.9" fill="#fff" opacity="0.7"/>
<path d="M292.92,389.12 C292.92,385.34 302.01,382.24 313.12,382.24 C324.27,382.24 333.32,385.32 333.32,389.12 C333.32,392.92 324.27,396.00 313.12,396.00 C302.01,396.00 292.92,392.90 292.92,389.12 Z" fill="none" stroke="#888" stroke-width="0.45"/>
<path d="M298.34,388.87 C298.34,385.94 305.38,383.54 313.99,383.54 C322.63,383.54 329.65,385.92 329.65,388.87 C329.65,391.81 322.63,394.20 313.99,394.20 C305.38,394.20 298.34,391.80 298.34,388.87 Z" fill="none" stroke="#888" stroke-width="0.45"/>
<path d="M303.45,388.63 C303.45,386.50 308.57,384.76 314.82,384.76 C321.09,384.76 326.18,386.49 326.18,388.63 C326.18,390.77 321.09,392.50 314.82,392.50 C308.57,392.50 303.45,390.76 303.45,388.63 Z" fill="none" stroke="#888" stroke-width="0.45"/>
</g>
<path d="M286.90,389.40 C286.90,384.67 298.26,380.80 312.15,380.80 C326.09,380.80 337.40,384.65 337.40,389.40 C337.40,394.15 326.09,398.00 312.15,398.00 C298.26,398.00 286.90,394.13 286.90,389.40 Z" fill="none" stroke="#111" stroke-width="0.8"/>
</g>
<g >
<path d="M449.1,392.7h0.9v0.9h-0.9zM462.5,399.8h0.9v0.9h-0.9zM434.0,392.5h0.9v0.9h-0.9zM423.1,392.7h0.9v0.9h-0.9zM459.5,396.9h0.9v0.9h-0.9zM424.0,391.8h0.9v0.9h-0.9zM416.1,397.2h0.9v0.9h-0.9zM415.3,406.5h0.9v0.9h-0.9zM422.1,408.1h0.9v0.9h-0.9zM415.8,405.5h0.9v0.9h-0.9zM462.5,402.1h0.9v0.9h-0.9zM418.3,407.3h0.9v0.9h-0.9zM439.7,409.9h0.9v0.9h-0.9zM455.1,394.9h0.9v0.9h-0.9zM426.9,410.0h0.9v0.9h-0.9zM457.0,395.9h0.9v0.9h-0.9zM430.1,392.3h0.9v0.9h-0.9zM413.7,403.0h0.9v0.9h-0.9zM454.6,392.3h0.9v0.9h-0.9zM457.1,408.8h0.9v0.9h-0.9zM414.2,403.5h0.9v0.9h-0.9zM462.2,406.3h0.9v0.9h-0.9zM425.6,393.0h0.9v0.9h-0.9zM457.0,395.4h0.9v0.9h-0.9zM417.1,396.2h0.9v0.9h-0.9zM438.1,409.2h0.9v0.9h-0.9zM441.2,409.8h0.9v0.9h-0.9zM414.8,395.1h0.9v0.9h-0.9zM448.2,409.5h0.9v0.9h-0.9zM426.0,409.5h0.9v0.9h-0.9zM418.8,395.6h0.9v0.9h-0.9zM417.0,406.4h0.9v0.9h-0.9zM462.8,403.6h0.9v0.9h-0.9zM414.9,397.3h0.9v0.9h-0.9zM458.5,394.4h0.9v0.9h-0.9zM437.3,409.5h0.9v0.9h-0.9zM452.0,410.4h0.9v0.9h-0.9zM415.1,404.8h0.9v0.9h-0.9zM454.6,408.0h0.9v0.9h-0.9zM426.0,408.2h0.9v0.9h-0.9zM412.4,403.2h0.9v0.9h-0.9zM441.8,390.1h0.9v0.9h-0.9zM437.9,410.7h0.9v0.9h-0.9zM413.0,399.2h0.9v0.9h-0.9zM454.2,408.0h0.9v0.9h-0.9zM422.2,409.2h0.9v0.9h-0.9zM444.5,409.3h0.9v0.9h-0.9zM425.5,408.1h0.9v0.9h-0.9zM432.1,393.3h0.9v0.9h-0.9zM460.5,405.3h0.9v0.9h-0.9zM412.8,396.4h0.9v0.9h-0.9zM438.2,409.4h0.9v0.9h-0.9zM444.2,392.0h0.9v0.9h-0.9zM430.2,393.1h0.9v0.9h-0.9zM462.0,404.0h0.9v0.9h-0.9zM436.8,410.0h0.9v0.9h-0.9zM415.0,406.3h0.9v0.9h-0.9zM462.6,400.0h0.9v0.9h-0.9zM462.8,399.9h0.9v0.9h-0.9zM452.1,393.7h0.9v0.9h-0.9zM457.0,394.7h0.9v0.9h-0.9zM458.1,407.4h0.9v0.9h-0.9zM421.9,390.8h0.9v0.9h-0.9zM432.9,412.8h0.9v0.9h-0.9zM463.3,405.0h0.9v0.9h-0.9zM423.1,410.9h0.9v0.9h-0.9zM438.3,410.5h0.9v0.9h-0.9zM421.1,394.2h0.9v0.9h-0.9zM455.1,395.2h0.9v0.9h-0.9zM449.4,410.0h0.9v0.9h-0.9zM414.9,398.1h0.9v0.9h-0.9zM458.1,393.4h0.9v0.9h-0.9zM463.1,402.4h0.9v0.9h-0.9zM453.1,407.6h0.9v0.9h-0.9zM431.3,409.6h0.9v0.9h-0.9zM428.8,392.6h0.9v0.9h-0.9zM416.5,407.9h0.9v0.9h-0.9zM424.8,393.7h0.9v0.9h-0.9zM417.8,406.5h0.9v0.9h-0.9zM419.3,408.0h0.9v0.9h-0.9zM445.6,393.0h0.9v0.9h-0.9zM426.0,410.4h0.9v0.9h-0.9zM440.4,390.5h0.9v0.9h-0.9zM443.7,392.4h0.9v0.9h-0.9zM458.2,406.6h0.9v0.9h-0.9zM427.3,409.0h0.9v0.9h-0.9zM431.4,393.2h0.9v0.9h-0.9zM444.9,393.1h0.9v0.9h-0.9zM439.8,392.3h0.9v0.9h-0.9zM420.8,408.6h0.9v0.9h-0.9zM412.4,404.8h0.9v0.9h-0.9zM424.6,410.4h0.9v0.9h-0.9zM456.0,395.4h0.9v0.9h-0.9zM429.4,391.9h0.9v0.9h-0.9zM413.8,396.6h0.9v0.9h-0.9zM434.4,409.4h0.9v0.9h-0.9zM459.5,406.5h0.9v0.9h-0.9zM462.4,398.7h0.9v0.9h-0.9zM413.8,396.9h0.9v0.9h-0.9zM416.2,408.2h0.9v0.9h-0.9zM458.1,407.8h0.9v0.9h-0.9zM426.5,393.2h0.9v0.9h-0.9zM461.3,395.6h0.9v0.9h-0.9zM462.7,401.8h0.9v0.9h-0.9zM413.2,398.9h0.9v0.9h-0.9zM451.9,409.9h0.9v0.9h-0.9zM418.0,407.5h0.9v0.9h-0.9zM433.8,409.5h0.9v0.9h-0.9zM429.7,410.9h0.9v0.9h-0.9zM411.5,402.4h0.9v0.9h-0.9zM428.0,391.3h0.9v0.9h-0.9zM413.2,394.7h0.9v0.9h-0.9zM463.3,401.6h0.9v0.9h-0.9zM432.6,392.8h0.9v0.9h-0.9zM425.2,408.7h0.9v0.9h-0.9zM449.1,391.7h0.9v0.9h-0.9zM461.5,403.6h0.9v0.9h-0.9zM459.9,405.5h0.9v0.9h-0.9zM414.2,404.7h0.9v0.9h-0.9zM459.1,395.1h0.9v0.9h-0.9zM429.2,409.2h0.9v0.9h-0.9zM423.7,410.1h0.9v0.9h-0.9zM449.2,393.3h0.9v0.9h-0.9zM455.6,407.9h0.9v0.9h-0.9zM463.6,400.0h0.9v0.9h-0.9zM461.7,398.8h0.9v0.9h-0.9zM434.4,409.3h0.9v0.9h-0.9zM413.1,399.0h0.9v0.9h-0.9zM417.4,394.7h0.9v0.9h-0.9zM435.7,392.7h0.9v0.9h-0.9zM412.8,404.1h0.9v0.9h-0.9zM462.3,403.8h0.9v0.9h-0.9zM453.6,394.2h0.9v0.9h-0.9zM452.9,393.7h0.9v0.9h-0.9zM434.8,409.1h0.9v0.9h-0.9zM463.8,399.8h0.9v0.9h-0.9zM423.8,407.7h0.9v0.9h-0.9zM457.1,408.1h0.9v0.9h-0.9zM426.0,411.0h0.9v0.9h-0.9zM449.2,410.7h0.9v0.9h-0.9zM461.4,405.7h0.9v0.9h-0.9zM435.4,392.5h0.9v0.9h-0.9zM421.0,407.2h0.9v0.9h-0.9zM414.1,399.1h0.9v0.9h-0.9zM461.3,397.9h0.9v0.9h-0.9zM413.4,395.4h0.9v0.9h-0.9zM462.2,397.0h0.9v0.9h-0.9zM437.0,410.7h0.9v0.9h-0.9zM461.0,398.0h0.9v0.9h-0.9zM421.7,407.4h0.9v0.9h-0.9zM423.6,392.1h0.9v0.9h-0.9zM459.6,396.6h0.9v0.9h-0.9zM453.3,408.8h0.9v0.9h-0.9zM465.2,400.8h0.9v0.9h-0.9zM462.7,399.0h0.9v0.9h-0.9zM410.4,396.9h0.9v0.9h-0.9zM435.0,392.7h0.9v0.9h-0.9zM451.9,391.6h0.9v0.9h-0.9zM445.7,409.8h0.9v0.9h-0.9zM462.9,402.9h0.9v0.9h-0.9zM459.7,396.8h0.9v0.9h-0.9zM447.8,409.8h0.9v0.9h-0.9zM463.5,401.3h0.9v0.9h-0.9zM432.5,393.2h0.9v0.9h-0.9zM454.3,392.2h0.9v0.9h-0.9zM449.1,408.3h0.9v0.9h-0.9zM421.5,409.3h0.9v0.9h-0.9zM413.8,407.7h0.9v0.9h-0.9zM444.3,411.1h0.9v0.9h-0.9zM429.7,393.3h0.9v0.9h-0.9zM464.1,399.8h0.9v0.9h-0.9zM428.2,409.3h0.9v0.9h-0.9zM430.4,392.1h0.9v0.9h-0.9zM445.1,391.7h0.9v0.9h-0.9zM413.7,404.6h0.9v0.9h-0.9zM457.4,406.9h0.9v0.9h-0.9zM455.2,408.3h0.9v0.9h-0.9zM439.3,390.8h0.9v0.9h-0.9zM419.1,395.5h0.9v0.9h-0.9zM447.9,411.6h0.9v0.9h-0.9zM463.6,400.7h0.9v0.9h-0.9zM426.2,409.9h0.9v0.9h-0.9zM438.3,410.9h0.9v0.9h-0.9zM464.1,401.0h0.9v0.9h-0.9zM423.9,393.9h0.9v0.9h-0.9zM445.0,409.3h0.9v0.9h-0.9zM429.6,408.7h0.9v0.9h-0.9zM437.2,391.0h0.9v0.9h-0.9zM463.6,401.2h0.9v0.9h-0.9zM463.3,404.3h0.9v0.9h-0.9zM421.6,394.7h0.9v0.9h-0.9zM453.3,393.3h0.9v0.9h-0.9zM420.2,395.1h0.9v0.9h-0.9zM436.0,410.2h0.9v0.9h-0.9zM427.6,408.4h0.9v0.9h-0.9zM412.8,401.1h0.9v0.9h-0.9zM447.0,391.6h0.9v0.9h-0.9zM442.5,391.6h0.9v0.9h-0.9zM415.3,404.6h0.9v0.9h-0.9zM459.4,396.8h0.9v0.9h-0.9zM453.8,409.7h0.9v0.9h-0.9zM449.9,393.1h0.9v0.9h-0.9zM435.4,410.0h0.9v0.9h-0.9zM413.3,398.9h0.9v0.9h-0.9zM460.9,405.6h0.9v0.9h-0.9zM458.6,394.8h0.9v0.9h-0.9zM456.6,406.5h0.9v0.9h-0.9zM446.8,393.4h0.9v0.9h-0.9zM463.2,402.1h0.9v0.9h-0.9zM451.5,393.2h0.9v0.9h-0.9zM453.1,394.6h0.9v0.9h-0.9zM426.8,409.9h0.9v0.9h-0.9zM441.2,393.0h0.9v0.9h-0.9zM416.5,396.5h0.9v0.9h-0.9zM464.6,396.9h0.9v0.9h-0.9zM438.1,392.5h0.9v0.9h-0.9zM463.7,400.1h0.9v0.9h-0.9zM414.6,406.0h0.9v0.9h-0.9zM430.8,393.4h0.9v0.9h-0.9zM440.7,391.0h0.9v0.9h-0.9zM430.8,392.1h0.9v0.9h-0.9zM429.2,408.7h0.9v0.9h-0.9zM416.8,407.5h0.9v0.9h-0.9zM459.7,405.3h0.9v0.9h-0.9zM461.8,404.3h0.9v0.9h-0.9zM435.2,392.5h0.9v0.9h-0.9zM449.5,391.6h0.9v0.9h-0.9zM441.5,410.0h0.9v0.9h-0.9zM452.6,408.4h0.9v0.9h-0.9zM421.5,394.5h0.9v0.9h-0.9zM412.4,400.4h0.9v0.9h-0.9zM429.8,412.0h0.9v0.9h-0.9zM416.3,396.8h0.9v0.9h-0.9zM417.1,396.8h0.9v0.9h-0.9zM462.4,400.0h0.9v0.9h-0.9zM455.1,407.3h0.9v0.9h-0.9zM455.1,409.2h0.9v0.9h-0.9zM413.3,401.5h0.9v0.9h-0.9zM444.9,410.3h0.9v0.9h-0.9zM436.5,409.8h0.9v0.9h-0.9zM422.2,408.8h0.9v0.9h-0.9zM462.5,402.3h0.9v0.9h-0.9zM464.4,401.4h0.9v0.9h-0.9zM458.0,395.5h0.9v0.9h-0.9zM457.8,393.3h0.9v0.9h-0.9zM412.4,401.0h0.9v0.9h-0.9zM419.8,394.7h0.9v0.9h-0.9zM421.1,394.8h0.9v0.9h-0.9zM462.8,402.2h0.9v0.9h-0.9zM454.6,392.7h0.9v0.9h-0.9zM449.6,409.4h0.9v0.9h-0.9zM445.6,410.0h0.9v0.9h-0.9zM419.3,409.2h0.9v0.9h-0.9zM436.5,409.6h0.9v0.9h-0.9zM419.8,407.6h0.9v0.9h-0.9zM445.1,392.6h0.9v0.9h-0.9zM422.4,393.9h0.9v0.9h-0.9zM413.7,399.7h0.9v0.9h-0.9zM413.2,398.5h0.9v0.9h-0.9zM439.3,410.4h0.9v0.9h-0.9zM456.6,395.1h0.9v0.9h-0.9zM459.4,406.9h0.9v0.9h-0.9zM463.1,403.1h0.9v0.9h-0.9zM414.4,395.7h0.9v0.9h-0.9zM439.5,410.4h0.9v0.9h-0.9zM412.7,398.7h0.9v0.9h-0.9zM416.2,405.5h0.9v0.9h-0.9zM451.0,394.0h0.9v0.9h-0.9zM432.9,391.4h0.9v0.9h-0.9zM461.7,398.8h0.9v0.9h-0.9zM415.3,396.6h0.9v0.9h-0.9zM440.9,409.5h0.9v0.9h-0.9zM411.1,402.2h0.9v0.9h-0.9zM431.0,387.7h0.9v0.9h-0.9zM445.5,393.1h0.9v0.9h-0.9zM426.0,392.5h0.9v0.9h-0.9zM422.7,408.1h0.9v0.9h-0.9zM413.7,402.9h0.9v0.9h-0.9zM412.9,402.2h0.9v0.9h-0.9zM449.6,409.2h0.9v0.9h-0.9zM412.7,398.6h0.9v0.9h-0.9zM455.2,410.8h0.9v0.9h-0.9zM433.2,410.4h0.9v0.9h-0.9zM427.4,411.1h0.9v0.9h-0.9zM462.7,401.4h0.9v0.9h-0.9zM444.7,410.0h0.9v0.9h-0.9zM462.7,398.6h0.9v0.9h-0.9zM415.7,396.1h0.9v0.9h-0.9zM449.7,392.4h0.9v0.9h-0.9zM463.5,404.3h0.9v0.9h-0.9zM460.5,405.0h0.9v0.9h-0.9zM420.8,407.6h0.9v0.9h-0.9zM420.6,410.3h0.9v0.9h-0.9zM457.2,395.7h0.9v0.9h-0.9zM464.0,399.3h0.9v0.9h-0.9zM444.1,410.3h0.9v0.9h-0.9zM443.0,392.5h0.9v0.9h-0.9zM444.6,392.3h0.9v0.9h-0.9zM447.6,392.8h0.9v0.9h-0.9zM456.8,395.8h0.9v0.9h-0.9zM412.5,401.4h0.9v0.9h-0.9zM451.0,410.7h0.9v0.9h-0.9zM452.4,409.0h0.9v0.9h-0.9zM413.7,403.0h0.9v0.9h-0.9zM433.8,389.7h0.9v0.9h-0.9zM418.6,394.0h0.9v0.9h-0.9zM461.6,404.3h0.9v0.9h-0.9zM450.6,409.2h0.9v0.9h-0.9zM416.2,395.7h0.9v0.9h-0.9zM413.6,403.0h0.9v0.9h-0.9zM429.0,410.5h0.9v0.9h-0.9zM461.0,397.4h0.9v0.9h-0.9zM419.4,406.5h0.9v0.9h-0.9zM437.0,409.8h0.9v0.9h-0.9zM413.0,400.7h0.9v0.9h-0.9zM457.0,394.5h0.9v0.9h-0.9zM412.6,399.7h0.9v0.9h-0.9zM447.5,408.7h0.9v0.9h-0.9zM419.4,395.8h0.9v0.9h-0.9zM438.1,392.1h0.9v0.9h-0.9zM455.6,394.9h0.9v0.9h-0.9zM462.3,404.7h0.9v0.9h-0.9zM462.8,399.2h0.9v0.9h-0.9zM432.9,391.4h0.9v0.9h-0.9zM457.9,406.1h0.9v0.9h-0.9zM414.2,404.9h0.9v0.9h-0.9zM456.3,408.7h0.9v0.9h-0.9zM462.9,405.9h0.9v0.9h-0.9zM464.6,397.7h0.9v0.9h-0.9zM455.3,407.0h0.9v0.9h-0.9zM464.3,400.7h0.9v0.9h-0.9zM456.3,408.1h0.9v0.9h-0.9zM420.3,393.9h0.9v0.9h-0.9zM463.7,401.9h0.9v0.9h-0.9zM435.8,409.3h0.9v0.9h-0.9zM457.1,407.9h0.9v0.9h-0.9zM418.7,394.8h0.9v0.9h-0.9zM418.9,395.7h0.9v0.9h-0.9zM456.9,408.3h0.9v0.9h-0.9zM424.0,393.5h0.9v0.9h-0.9zM445.0,392.7h0.9v0.9h-0.9zM422.7,408.4h0.9v0.9h-0.9zM415.3,397.2h0.9v0.9h-0.9zM420.5,411.0h0.9v0.9h-0.9zM421.8,392.8h0.9v0.9h-0.9zM415.7,394.8h0.9v0.9h-0.9zM462.7,402.4h0.9v0.9h-0.9zM428.4,409.2h0.9v0.9h-0.9zM420.9,393.6h0.9v0.9h-0.9zM437.1,410.2h0.9v0.9h-0.9zM440.3,392.9h0.9v0.9h-0.9zM422.7,409.2h0.9v0.9h-0.9zM462.3,395.6h0.9v0.9h-0.9zM461.6,407.3h0.9v0.9h-0.9zM427.5,393.4h0.9v0.9h-0.9zM414.7,404.8h0.9v0.9h-0.9zM443.6,392.1h0.9v0.9h-0.9zM417.0,396.6h0.9v0.9h-0.9zM463.0,403.5h0.9v0.9h-0.9zM414.4,394.6h0.9v0.9h-0.9zM413.0,403.5h0.9v0.9h-0.9zM433.2,410.6h0.9v0.9h-0.9zM463.3,401.3h0.9v0.9h-0.9zM446.0,410.4h0.9v0.9h-0.9zM459.9,397.2h0.9v0.9h-0.9zM459.0,406.1h0.9v0.9h-0.9zM423.6,392.5h0.9v0.9h-0.9zM462.7,403.7h0.9v0.9h-0.9zM462.8,404.8h0.9v0.9h-0.9zM458.6,395.3h0.9v0.9h-0.9zM460.7,395.4h0.9v0.9h-0.9zM422.9,393.2h0.9v0.9h-0.9zM447.1,392.7h0.9v0.9h-0.9zM453.0,407.5h0.9v0.9h-0.9zM460.6,404.6h0.9v0.9h-0.9zM461.8,398.2h0.9v0.9h-0.9zM416.1,396.7h0.9v0.9h-0.9zM426.0,408.6h0.9v0.9h-0.9zM424.6,394.2h0.9v0.9h-0.9zM459.2,393.9h0.9v0.9h-0.9zM413.4,397.8h0.9v0.9h-0.9zM413.2,401.6h0.9v0.9h-0.9zM463.3,399.9h0.9v0.9h-0.9zM458.3,395.3h0.9v0.9h-0.9zM431.8,391.3h0.9v0.9h-0.9zM434.1,409.2h0.9v0.9h-0.9zM451.5,408.9h0.9v0.9h-0.9zM424.7,393.8h0.9v0.9h-0.9zM435.3,413.1h0.9v0.9h-0.9zM429.4,411.7h0.9v0.9h-0.9zM442.1,392.9h0.9v0.9h-0.9zM430.8,391.2h0.9v0.9h-0.9zM413.4,399.7h0.9v0.9h-0.9zM429.8,392.4h0.9v0.9h-0.9zM414.3,395.2h0.9v0.9h-0.9zM431.9,391.9h0.9v0.9h-0.9zM463.5,402.9h0.9v0.9h-0.9zM463.2,404.5h0.9v0.9h-0.9zM451.4,409.1h0.9v0.9h-0.9zM432.9,410.2h0.9v0.9h-0.9zM436.7,391.4h0.9v0.9h-0.9zM450.2,394.0h0.9v0.9h-0.9zM437.3,412.0h0.9v0.9h-0.9zM421.9,408.9h0.9v0.9h-0.9zM411.8,402.0h0.9v0.9h-0.9zM456.1,394.1h0.9v0.9h-0.9zM412.6,398.1h0.9v0.9h-0.9zM436.7,409.8h0.9v0.9h-0.9zM461.3,396.8h0.9v0.9h-0.9zM462.7,399.0h0.9v0.9h-0.9zM422.6,407.5h0.9v0.9h-0.9zM413.3,401.0h0.9v0.9h-0.9zM434.0,410.5h0.9v0.9h-0.9zM461.3,404.2h0.9v0.9h-0.9zM461.6,398.1h0.9v0.9h-0.9zM418.9,407.8h0.9v0.9h-0.9zM454.7,393.9h0.9v0.9h-0.9zM426.7,408.6h0.9v0.9h-0.9zM423.9,392.2h0.9v0.9h-0.9zM460.2,406.0h0.9v0.9h-0.9z" fill="#222" opacity="0.8"/>
<path d="M414.00,401.10 C414.00,397.03 424.80,393.70 438.00,393.70 C451.25,393.70 462.00,397.02 462.00,401.10 C462.00,405.18 451.25,408.50 438.00,408.50 C424.80,408.50 414.00,405.17 414.00,401.10 Z" fill="url(#l20)" stroke="none"/>
<g clip-path="url(#c20)">
<ellipse cx="430.0" cy="396.8" rx="10.0" ry="3.6" fill="url(#r21)"/>
<ellipse cx="438.0" cy="404.8" rx="11.0" ry="3.4" fill="url(#r22)"/>
<ellipse cx="437.0" cy="401.0" rx="19.0" ry="6.5" fill="url(#r23)"/>
<ellipse cx="437.0" cy="400.6" rx="12.0" ry="0.8" fill="#fff" opacity="0.6"/>
<path d="M418.60,401.08 C418.60,397.82 427.24,395.16 437.80,395.16 C448.40,395.16 457.00,397.81 457.00,401.08 C457.00,404.35 448.40,407.00 437.80,407.00 C427.24,407.00 418.60,404.34 418.60,401.08 Z" fill="none" stroke="#888" stroke-width="0.45"/>
<path d="M422.74,401.06 C422.74,398.54 429.44,396.47 437.62,396.47 C445.83,396.47 452.50,398.53 452.50,401.06 C452.50,403.59 445.83,405.65 437.62,405.65 C429.44,405.65 422.74,403.59 422.74,401.06 Z" fill="none" stroke="#888" stroke-width="0.45"/>
<path d="M426.65,401.05 C426.65,399.21 431.51,397.72 437.45,397.72 C443.41,397.72 448.25,399.21 448.25,401.05 C448.25,402.88 443.41,404.38 437.45,404.38 C431.51,404.38 426.65,402.88 426.65,401.05 Z" fill="none" stroke="#888" stroke-width="0.45"/>
</g>
<path d="M414.00,401.10 C414.00,397.03 424.80,393.70 438.00,393.70 C451.25,393.70 462.00,397.02 462.00,401.10 C462.00,405.18 451.25,408.50 438.00,408.50 C424.80,408.50 414.00,405.17 414.00,401.10 Z" fill="none" stroke="#111" stroke-width="0.8"/>
</g>
<path d="M318.5,511.2h0.9v0.9h-0.9zM299.6,507.1h0.9v0.9h-0.9zM309.9,507.0h0.9v0.9h-0.9zM313.9,511.5h0.9v0.9h-0.9zM318.4,513.4h0.9v0.9h-0.9zM315.6,510.3h0.9v0.9h-0.9zM313.4,499.1h0.9v0.9h-0.9zM309.6,511.1h0.9v0.9h-0.9zM311.5,501.9h0.9v0.9h-0.9zM312.4,509.5h0.9v0.9h-0.9zM303.8,511.1h0.9v0.9h-0.9zM316.3,508.6h0.9v0.9h-0.9zM318.9,504.9h0.9v0.9h-0.9zM293.7,511.1h0.9v0.9h-0.9zM294.7,509.3h0.9v0.9h-0.9zM318.1,505.6h0.9v0.9h-0.9zM316.2,510.9h0.9v0.9h-0.9zM309.2,505.2h0.9v0.9h-0.9zM307.5,505.0h0.9v0.9h-0.9zM318.2,507.2h0.9v0.9h-0.9zM307.9,512.6h0.9v0.9h-0.9zM297.6,510.7h0.9v0.9h-0.9zM315.1,511.6h0.9v0.9h-0.9zM306.7,516.3h0.9v0.9h-0.9zM297.4,511.2h0.9v0.9h-0.9zM316.8,513.3h0.9v0.9h-0.9zM297.8,509.5h0.9v0.9h-0.9zM301.8,502.4h0.9v0.9h-0.9zM306.8,511.0h0.9v0.9h-0.9zM306.4,504.2h0.9v0.9h-0.9zM302.5,510.7h0.9v0.9h-0.9zM318.1,508.7h0.9v0.9h-0.9zM309.6,509.9h0.9v0.9h-0.9zM304.5,507.8h0.9v0.9h-0.9zM312.5,506.9h0.9v0.9h-0.9zM304.9,510.9h0.9v0.9h-0.9zM306.8,506.6h0.9v0.9h-0.9zM303.6,505.0h0.9v0.9h-0.9zM312.4,507.4h0.9v0.9h-0.9zM306.2,507.2h0.9v0.9h-0.9zM307.4,505.0h0.9v0.9h-0.9zM309.8,506.9h0.9v0.9h-0.9zM306.7,502.6h0.9v0.9h-0.9zM295.1,509.6h0.9v0.9h-0.9zM299.2,509.4h0.9v0.9h-0.9zM299.2,506.2h0.9v0.9h-0.9zM317.3,505.0h0.9v0.9h-0.9zM301.0,508.1h0.9v0.9h-0.9zM297.7,510.4h0.9v0.9h-0.9zM312.6,505.5h0.9v0.9h-0.9zM315.3,506.6h0.9v0.9h-0.9zM312.5,503.3h0.9v0.9h-0.9zM312.1,510.3h0.9v0.9h-0.9zM307.0,511.0h0.9v0.9h-0.9zM318.0,510.0h0.9v0.9h-0.9zM305.2,506.9h0.9v0.9h-0.9zM314.6,506.7h0.9v0.9h-0.9zM316.4,505.4h0.9v0.9h-0.9zM308.8,510.6h0.9v0.9h-0.9zM301.6,508.5h0.9v0.9h-0.9zM312.7,509.9h0.9v0.9h-0.9zM308.7,517.4h0.9v0.9h-0.9zM316.6,505.4h0.9v0.9h-0.9zM318.0,508.4h0.9v0.9h-0.9zM297.1,507.3h0.9v0.9h-0.9zM318.5,511.7h0.9v0.9h-0.9zM311.3,504.3h0.9v0.9h-0.9zM306.8,506.1h0.9v0.9h-0.9zM309.6,509.0h0.9v0.9h-0.9zM302.3,513.5h0.9v0.9h-0.9zM310.2,513.3h0.9v0.9h-0.9zM316.6,506.6h0.9v0.9h-0.9zM302.3,512.8h0.9v0.9h-0.9zM315.7,509.4h0.9v0.9h-0.9zM309.8,513.3h0.9v0.9h-0.9zM303.8,511.8h0.9v0.9h-0.9zM309.0,510.1h0.9v0.9h-0.9zM315.5,508.7h0.9v0.9h-0.9zM303.2,510.3h0.9v0.9h-0.9zM315.2,508.6h0.9v0.9h-0.9zM291.9,513.4h0.9v0.9h-0.9zM294.9,506.8h0.9v0.9h-0.9zM296.4,503.7h0.9v0.9h-0.9zM307.8,511.5h0.9v0.9h-0.9zM309.8,506.6h0.9v0.9h-0.9zM306.4,506.9h0.9v0.9h-0.9zM316.8,508.0h0.9v0.9h-0.9zM310.3,506.2h0.9v0.9h-0.9zM299.3,510.5h0.9v0.9h-0.9zM317.8,510.0h0.9v0.9h-0.9zM310.9,504.9h0.9v0.9h-0.9zM309.7,508.3h0.9v0.9h-0.9zM313.8,508.9h0.9v0.9h-0.9zM298.4,507.4h0.9v0.9h-0.9zM291.1,507.7h0.9v0.9h-0.9zM298.5,505.0h0.9v0.9h-0.9zM318.8,503.7h0.9v0.9h-0.9zM312.2,507.4h0.9v0.9h-0.9zM318.2,507.9h0.9v0.9h-0.9zM308.2,508.7h0.9v0.9h-0.9zM315.8,507.1h0.9v0.9h-0.9zM307.9,508.8h0.9v0.9h-0.9zM294.6,511.8h0.9v0.9h-0.9zM310.4,509.1h0.9v0.9h-0.9zM298.8,513.8h0.9v0.9h-0.9zM312.8,503.6h0.9v0.9h-0.9zM318.1,504.0h0.9v0.9h-0.9zM302.9,506.4h0.9v0.9h-0.9zM317.0,504.5h0.9v0.9h-0.9zM315.6,508.4h0.9v0.9h-0.9zM301.9,502.9h0.9v0.9h-0.9zM317.3,517.1h0.9v0.9h-0.9zM304.2,506.2h0.9v0.9h-0.9zM315.6,504.9h0.9v0.9h-0.9zM315.2,501.4h0.9v0.9h-0.9zM307.3,502.6h0.9v0.9h-0.9zM312.0,512.1h0.9v0.9h-0.9zM309.4,508.7h0.9v0.9h-0.9zM290.3,507.3h0.9v0.9h-0.9zM307.6,514.0h0.9v0.9h-0.9z" fill="#222" opacity="0.75"/>
<g transform="rotate(-9,335.5,505.8)">
<path d="M352.3,511.6h0.9v0.9h-0.9zM338.4,514.6h0.9v0.9h-0.9zM318.6,512.0h0.9v0.9h-0.9zM316.5,502.0h0.9v0.9h-0.9zM316.9,508.1h0.9v0.9h-0.9zM328.4,496.9h0.9v0.9h-0.9zM336.9,495.0h0.9v0.9h-0.9zM323.8,514.0h0.9v0.9h-0.9zM349.5,499.1h0.9v0.9h-0.9zM343.2,514.4h0.9v0.9h-0.9zM347.7,498.0h0.9v0.9h-0.9zM325.8,513.7h0.9v0.9h-0.9zM329.3,515.4h0.9v0.9h-0.9zM320.7,511.7h0.9v0.9h-0.9zM330.3,496.3h0.9v0.9h-0.9zM325.0,495.8h0.9v0.9h-0.9zM331.0,514.7h0.9v0.9h-0.9zM354.5,503.1h0.9v0.9h-0.9zM346.4,513.4h0.9v0.9h-0.9zM316.4,504.7h0.9v0.9h-0.9zM344.4,515.0h0.9v0.9h-0.9zM351.2,500.7h0.9v0.9h-0.9zM350.5,513.0h0.9v0.9h-0.9zM324.0,498.0h0.9v0.9h-0.9zM334.9,496.9h0.9v0.9h-0.9zM351.6,500.8h0.9v0.9h-0.9zM330.0,496.9h0.9v0.9h-0.9zM353.2,509.5h0.9v0.9h-0.9zM349.0,498.4h0.9v0.9h-0.9zM334.8,497.0h0.9v0.9h-0.9zM321.6,513.5h0.9v0.9h-0.9zM315.9,503.6h0.9v0.9h-0.9zM345.9,515.1h0.9v0.9h-0.9zM347.0,497.1h0.9v0.9h-0.9zM355.7,508.9h0.9v0.9h-0.9zM341.2,514.3h0.9v0.9h-0.9zM335.8,496.6h0.9v0.9h-0.9zM349.3,513.1h0.9v0.9h-0.9zM324.6,513.8h0.9v0.9h-0.9zM316.1,506.3h0.9v0.9h-0.9zM352.2,500.9h0.9v0.9h-0.9zM317.8,501.9h0.9v0.9h-0.9zM339.1,515.4h0.9v0.9h-0.9zM321.2,499.9h0.9v0.9h-0.9zM344.6,496.8h0.9v0.9h-0.9zM346.4,498.2h0.9v0.9h-0.9zM329.2,497.1h0.9v0.9h-0.9zM332.1,496.8h0.9v0.9h-0.9zM335.7,496.5h0.9v0.9h-0.9zM322.7,499.2h0.9v0.9h-0.9zM315.8,507.5h0.9v0.9h-0.9zM335.4,496.4h0.9v0.9h-0.9zM319.5,501.0h0.9v0.9h-0.9zM340.7,515.2h0.9v0.9h-0.9zM349.5,499.2h0.9v0.9h-0.9zM333.1,517.1h0.9v0.9h-0.9zM322.6,499.3h0.9v0.9h-0.9zM316.2,504.6h0.9v0.9h-0.9zM351.9,500.4h0.9v0.9h-0.9zM353.0,510.4h0.9v0.9h-0.9zM330.9,496.8h0.9v0.9h-0.9zM349.6,499.5h0.9v0.9h-0.9zM341.6,497.0h0.9v0.9h-0.9zM315.9,508.3h0.9v0.9h-0.9zM356.6,501.8h0.9v0.9h-0.9zM333.7,496.2h0.9v0.9h-0.9zM315.7,505.3h0.9v0.9h-0.9zM334.2,515.6h0.9v0.9h-0.9zM328.2,496.5h0.9v0.9h-0.9zM317.8,500.9h0.9v0.9h-0.9zM354.3,504.0h0.9v0.9h-0.9zM316.8,507.8h0.9v0.9h-0.9zM355.9,508.6h0.9v0.9h-0.9zM341.1,497.5h0.9v0.9h-0.9zM321.5,514.6h0.9v0.9h-0.9zM353.8,502.9h0.9v0.9h-0.9zM355.1,506.1h0.9v0.9h-0.9zM350.4,511.4h0.9v0.9h-0.9zM326.8,495.4h0.9v0.9h-0.9zM330.9,497.0h0.9v0.9h-0.9zM344.9,498.2h0.9v0.9h-0.9zM318.8,501.2h0.9v0.9h-0.9zM326.8,514.2h0.9v0.9h-0.9zM318.0,502.2h0.9v0.9h-0.9zM355.7,506.9h0.9v0.9h-0.9zM317.1,509.0h0.9v0.9h-0.9zM335.4,496.8h0.9v0.9h-0.9zM327.7,515.4h0.9v0.9h-0.9zM321.1,511.8h0.9v0.9h-0.9zM334.3,515.1h0.9v0.9h-0.9zM327.8,515.0h0.9v0.9h-0.9zM350.0,498.7h0.9v0.9h-0.9zM332.1,494.4h0.9v0.9h-0.9zM347.0,497.3h0.9v0.9h-0.9zM338.7,496.3h0.9v0.9h-0.9zM353.2,509.5h0.9v0.9h-0.9zM319.7,512.6h0.9v0.9h-0.9zM316.4,503.3h0.9v0.9h-0.9zM332.5,515.1h0.9v0.9h-0.9zM350.1,512.1h0.9v0.9h-0.9zM323.4,513.0h0.9v0.9h-0.9zM348.2,498.4h0.9v0.9h-0.9zM352.9,509.6h0.9v0.9h-0.9zM316.4,505.7h0.9v0.9h-0.9zM327.5,496.8h0.9v0.9h-0.9zM349.2,512.6h0.9v0.9h-0.9zM350.7,511.6h0.9v0.9h-0.9zM349.4,499.1h0.9v0.9h-0.9zM324.0,496.9h0.9v0.9h-0.9zM344.0,495.5h0.9v0.9h-0.9zM338.9,515.3h0.9v0.9h-0.9zM336.0,495.9h0.9v0.9h-0.9zM347.2,513.8h0.9v0.9h-0.9zM326.5,497.4h0.9v0.9h-0.9zM348.5,499.4h0.9v0.9h-0.9zM328.4,495.7h0.9v0.9h-0.9zM339.0,496.5h0.9v0.9h-0.9zM319.6,501.0h0.9v0.9h-0.9zM332.1,515.9h0.9v0.9h-0.9zM340.0,516.6h0.9v0.9h-0.9zM331.9,497.1h0.9v0.9h-0.9zM315.4,505.2h0.9v0.9h-0.9zM315.9,505.2h0.9v0.9h-0.9zM349.5,499.5h0.9v0.9h-0.9zM350.0,513.4h0.9v0.9h-0.9zM328.0,514.9h0.9v0.9h-0.9zM354.6,505.7h0.9v0.9h-0.9zM322.3,512.9h0.9v0.9h-0.9zM322.4,499.2h0.9v0.9h-0.9zM322.0,512.5h0.9v0.9h-0.9zM347.4,513.7h0.9v0.9h-0.9zM318.2,511.8h0.9v0.9h-0.9zM350.5,500.0h0.9v0.9h-0.9zM337.4,497.2h0.9v0.9h-0.9zM341.2,514.4h0.9v0.9h-0.9zM344.0,514.8h0.9v0.9h-0.9zM318.8,511.6h0.9v0.9h-0.9zM327.8,495.9h0.9v0.9h-0.9zM336.0,496.9h0.9v0.9h-0.9zM330.4,514.6h0.9v0.9h-0.9zM354.6,503.6h0.9v0.9h-0.9zM317.2,502.9h0.9v0.9h-0.9zM355.5,504.4h0.9v0.9h-0.9zM318.7,499.5h0.9v0.9h-0.9zM342.7,497.5h0.9v0.9h-0.9zM343.8,515.2h0.9v0.9h-0.9zM352.2,510.6h0.9v0.9h-0.9zM344.2,514.0h0.9v0.9h-0.9zM355.0,503.8h0.9v0.9h-0.9zM347.5,512.9h0.9v0.9h-0.9zM340.1,497.0h0.9v0.9h-0.9zM341.2,497.1h0.9v0.9h-0.9zM332.3,497.2h0.9v0.9h-0.9zM337.1,497.1h0.9v0.9h-0.9zM346.8,498.1h0.9v0.9h-0.9zM346.4,514.3h0.9v0.9h-0.9zM334.7,515.0h0.9v0.9h-0.9zM331.8,497.3h0.9v0.9h-0.9zM323.4,498.8h0.9v0.9h-0.9zM355.4,506.5h0.9v0.9h-0.9zM316.0,504.5h0.9v0.9h-0.9zM353.6,500.4h0.9v0.9h-0.9zM316.3,506.4h0.9v0.9h-0.9zM316.9,502.8h0.9v0.9h-0.9zM339.0,515.5h0.9v0.9h-0.9zM335.1,495.2h0.9v0.9h-0.9zM349.0,512.7h0.9v0.9h-0.9zM334.8,496.7h0.9v0.9h-0.9zM354.3,503.3h0.9v0.9h-0.9zM324.5,497.7h0.9v0.9h-0.9zM319.4,511.7h0.9v0.9h-0.9zM325.4,496.8h0.9v0.9h-0.9zM348.3,513.2h0.9v0.9h-0.9zM318.9,501.3h0.9v0.9h-0.9zM330.2,497.1h0.9v0.9h-0.9zM325.7,496.6h0.9v0.9h-0.9zM323.5,498.9h0.9v0.9h-0.9zM352.4,511.9h0.9v0.9h-0.9zM316.8,503.8h0.9v0.9h-0.9zM318.8,510.5h0.9v0.9h-0.9zM316.1,505.2h0.9v0.9h-0.9zM349.9,512.7h0.9v0.9h-0.9zM340.3,514.8h0.9v0.9h-0.9zM339.1,515.2h0.9v0.9h-0.9zM316.0,500.9h0.9v0.9h-0.9zM317.8,510.7h0.9v0.9h-0.9zM354.4,507.2h0.9v0.9h-0.9zM342.3,497.4h0.9v0.9h-0.9zM315.5,503.9h0.9v0.9h-0.9zM350.2,512.0h0.9v0.9h-0.9zM316.3,507.2h0.9v0.9h-0.9zM354.8,505.8h0.9v0.9h-0.9zM317.2,502.7h0.9v0.9h-0.9zM338.8,496.4h0.9v0.9h-0.9zM354.6,504.4h0.9v0.9h-0.9zM319.9,499.4h0.9v0.9h-0.9zM321.7,512.5h0.9v0.9h-0.9zM352.1,511.6h0.9v0.9h-0.9zM316.3,505.4h0.9v0.9h-0.9zM342.9,496.6h0.9v0.9h-0.9zM341.5,515.4h0.9v0.9h-0.9zM354.9,506.9h0.9v0.9h-0.9zM334.1,496.4h0.9v0.9h-0.9zM349.9,497.4h0.9v0.9h-0.9zM321.0,499.3h0.9v0.9h-0.9zM353.3,502.4h0.9v0.9h-0.9zM339.1,497.1h0.9v0.9h-0.9zM338.7,496.2h0.9v0.9h-0.9zM320.4,499.8h0.9v0.9h-0.9zM343.8,514.6h0.9v0.9h-0.9zM343.5,497.8h0.9v0.9h-0.9zM326.5,497.1h0.9v0.9h-0.9zM349.1,512.7h0.9v0.9h-0.9zM331.9,515.4h0.9v0.9h-0.9zM349.1,499.1h0.9v0.9h-0.9zM350.8,500.3h0.9v0.9h-0.9zM336.3,515.8h0.9v0.9h-0.9zM328.1,515.5h0.9v0.9h-0.9zM325.4,513.8h0.9v0.9h-0.9zM316.3,502.8h0.9v0.9h-0.9zM353.9,503.3h0.9v0.9h-0.9zM316.1,504.1h0.9v0.9h-0.9zM314.8,507.0h0.9v0.9h-0.9zM352.5,501.2h0.9v0.9h-0.9zM348.8,513.6h0.9v0.9h-0.9zM353.8,510.1h0.9v0.9h-0.9zM348.0,512.7h0.9v0.9h-0.9zM353.2,509.3h0.9v0.9h-0.9zM323.0,498.5h0.9v0.9h-0.9zM355.6,506.8h0.9v0.9h-0.9zM318.4,510.7h0.9v0.9h-0.9zM323.7,514.7h0.9v0.9h-0.9zM324.6,516.2h0.9v0.9h-0.9zM342.7,496.6h0.9v0.9h-0.9zM345.9,498.5h0.9v0.9h-0.9zM338.5,515.7h0.9v0.9h-0.9zM353.8,503.2h0.9v0.9h-0.9zM319.0,512.1h0.9v0.9h-0.9zM315.5,504.4h0.9v0.9h-0.9zM349.1,499.3h0.9v0.9h-0.9zM355.7,505.6h0.9v0.9h-0.9zM333.5,515.9h0.9v0.9h-0.9zM356.5,507.5h0.9v0.9h-0.9zM328.4,515.4h0.9v0.9h-0.9zM350.2,499.2h0.9v0.9h-0.9zM342.1,497.0h0.9v0.9h-0.9zM349.1,512.2h0.9v0.9h-0.9zM333.7,496.6h0.9v0.9h-0.9zM353.3,510.0h0.9v0.9h-0.9zM336.0,494.4h0.9v0.9h-0.9zM340.6,515.1h0.9v0.9h-0.9zM342.4,515.2h0.9v0.9h-0.9zM338.4,496.6h0.9v0.9h-0.9zM328.0,514.3h0.9v0.9h-0.9zM316.4,506.7h0.9v0.9h-0.9z" fill="#222" opacity="0.8"/>
<path d="M317.00,505.80 C317.00,501.40 325.32,497.80 335.50,497.80 C345.71,497.80 354.00,501.38 354.00,505.80 C354.00,510.38 345.71,514.10 335.50,514.10 C325.32,514.10 317.00,510.37 317.00,505.80 Z" fill="url(#l24)" stroke="none"/>
<g clip-path="url(#c24)">
<ellipse cx="339.0" cy="504.5" rx="13.0" ry="4.0" fill="url(#r25)"/>
<ellipse cx="336.0" cy="506.0" rx="17.0" ry="6.5" fill="url(#r26)"/>
<ellipse cx="340.0" cy="505.0" rx="8.0" ry="0.7" fill="#fff" opacity="0.4"/>
<path d="M321.20,505.64 C321.20,502.12 327.86,499.24 336.00,499.24 C344.17,499.24 350.80,502.11 350.80,505.64 C350.80,509.31 344.17,512.28 336.00,512.28 C327.86,512.28 321.20,509.29 321.20,505.64 Z" fill="none" stroke="#888" stroke-width="0.45"/>
<path d="M324.98,505.50 C324.98,502.77 330.14,500.54 336.45,500.54 C342.78,500.54 347.92,502.76 347.92,505.50 C347.92,508.34 342.78,510.64 336.45,510.64 C330.14,510.64 324.98,508.33 324.98,505.50 Z" fill="none" stroke="#888" stroke-width="0.45"/>
<path d="M328.55,505.36 C328.55,503.38 332.30,501.76 336.88,501.76 C341.47,501.76 345.20,503.37 345.20,505.36 C345.20,507.42 341.47,509.10 336.88,509.10 C332.30,509.10 328.55,507.41 328.55,505.36 Z" fill="none" stroke="#888" stroke-width="0.45"/>
</g>
<path d="M317.00,505.80 C317.00,501.40 325.32,497.80 335.50,497.80 C345.71,497.80 354.00,501.38 354.00,505.80 C354.00,510.38 345.71,514.10 335.50,514.10 C325.32,514.10 317.00,510.37 317.00,505.80 Z" fill="none" stroke="#111" stroke-width="0.8"/>
</g>
<path d="M438.8,510.9h0.9v0.9h-0.9zM437.4,520.5h0.9v0.9h-0.9zM442.4,513.0h0.9v0.9h-0.9zM442.6,515.0h0.9v0.9h-0.9zM439.8,516.6h0.9v0.9h-0.9zM441.8,519.0h0.9v0.9h-0.9zM422.0,525.3h0.9v0.9h-0.9zM437.3,513.4h0.9v0.9h-0.9zM442.2,512.6h0.9v0.9h-0.9zM436.1,513.6h0.9v0.9h-0.9zM427.6,523.0h0.9v0.9h-0.9zM433.1,520.5h0.9v0.9h-0.9zM424.5,514.7h0.9v0.9h-0.9zM428.6,516.4h0.9v0.9h-0.9zM441.0,512.9h0.9v0.9h-0.9zM440.0,513.2h0.9v0.9h-0.9zM432.8,513.6h0.9v0.9h-0.9zM431.0,518.7h0.9v0.9h-0.9zM439.4,519.9h0.9v0.9h-0.9zM438.2,515.4h0.9v0.9h-0.9zM427.3,523.3h0.9v0.9h-0.9zM439.3,517.8h0.9v0.9h-0.9zM430.4,523.6h0.9v0.9h-0.9zM430.1,517.3h0.9v0.9h-0.9zM439.1,518.7h0.9v0.9h-0.9zM441.6,515.8h0.9v0.9h-0.9zM432.8,516.9h0.9v0.9h-0.9zM434.7,521.2h0.9v0.9h-0.9zM434.7,517.1h0.9v0.9h-0.9zM436.7,518.8h0.9v0.9h-0.9zM438.3,516.2h0.9v0.9h-0.9zM440.7,513.9h0.9v0.9h-0.9zM419.3,518.0h0.9v0.9h-0.9zM435.3,518.0h0.9v0.9h-0.9zM434.6,518.2h0.9v0.9h-0.9zM417.9,522.1h0.9v0.9h-0.9zM420.5,525.2h0.9v0.9h-0.9zM422.2,515.6h0.9v0.9h-0.9zM437.2,512.8h0.9v0.9h-0.9zM440.4,517.3h0.9v0.9h-0.9zM436.9,522.9h0.9v0.9h-0.9zM441.7,515.4h0.9v0.9h-0.9zM424.2,519.0h0.9v0.9h-0.9zM441.7,514.5h0.9v0.9h-0.9zM439.6,523.7h0.9v0.9h-0.9zM431.8,516.2h0.9v0.9h-0.9zM434.6,517.8h0.9v0.9h-0.9zM434.9,516.2h0.9v0.9h-0.9zM435.5,516.8h0.9v0.9h-0.9zM436.3,514.1h0.9v0.9h-0.9zM438.6,513.3h0.9v0.9h-0.9zM441.5,521.4h0.9v0.9h-0.9zM431.3,513.2h0.9v0.9h-0.9zM440.4,516.8h0.9v0.9h-0.9zM428.9,516.6h0.9v0.9h-0.9zM437.1,521.2h0.9v0.9h-0.9zM425.5,522.0h0.9v0.9h-0.9zM438.5,516.9h0.9v0.9h-0.9zM432.3,521.2h0.9v0.9h-0.9zM435.6,518.1h0.9v0.9h-0.9zM423.1,522.5h0.9v0.9h-0.9zM433.3,516.9h0.9v0.9h-0.9zM420.1,517.6h0.9v0.9h-0.9zM437.1,520.9h0.9v0.9h-0.9zM426.1,514.5h0.9v0.9h-0.9zM435.5,517.8h0.9v0.9h-0.9zM437.8,511.2h0.9v0.9h-0.9zM436.6,516.8h0.9v0.9h-0.9zM422.9,515.1h0.9v0.9h-0.9zM439.0,513.9h0.9v0.9h-0.9zM442.0,513.1h0.9v0.9h-0.9zM427.8,523.4h0.9v0.9h-0.9zM437.1,524.6h0.9v0.9h-0.9zM433.0,517.7h0.9v0.9h-0.9zM433.2,513.8h0.9v0.9h-0.9zM427.8,517.6h0.9v0.9h-0.9zM437.9,516.6h0.9v0.9h-0.9zM428.9,516.6h0.9v0.9h-0.9zM441.9,516.9h0.9v0.9h-0.9zM435.7,520.6h0.9v0.9h-0.9zM431.4,527.7h0.9v0.9h-0.9zM424.6,514.0h0.9v0.9h-0.9zM427.6,519.5h0.9v0.9h-0.9zM429.2,521.1h0.9v0.9h-0.9zM437.5,518.6h0.9v0.9h-0.9zM419.9,516.5h0.9v0.9h-0.9zM424.0,516.8h0.9v0.9h-0.9zM432.7,519.4h0.9v0.9h-0.9zM431.2,516.1h0.9v0.9h-0.9zM442.6,507.7h0.9v0.9h-0.9z" fill="#222" opacity="0.75"/>
<g transform="rotate(-3,463.2,519.2)">
<path d="M444.1,524.2h0.9v0.9h-0.9zM479.4,512.5h0.9v0.9h-0.9zM477.1,527.1h0.9v0.9h-0.9zM464.9,509.9h0.9v0.9h-0.9zM447.7,513.3h0.9v0.9h-0.9zM453.7,528.7h0.9v0.9h-0.9zM461.0,510.2h0.9v0.9h-0.9zM453.1,527.3h0.9v0.9h-0.9zM484.7,517.1h0.9v0.9h-0.9zM442.0,526.0h0.9v0.9h-0.9zM455.2,528.2h0.9v0.9h-0.9zM476.2,512.4h0.9v0.9h-0.9zM443.5,524.8h0.9v0.9h-0.9zM457.3,510.9h0.9v0.9h-0.9zM482.3,514.1h0.9v0.9h-0.9zM484.8,519.6h0.9v0.9h-0.9zM450.1,526.8h0.9v0.9h-0.9zM482.5,515.5h0.9v0.9h-0.9zM449.6,526.5h0.9v0.9h-0.9zM440.5,520.2h0.9v0.9h-0.9zM473.8,510.5h0.9v0.9h-0.9zM470.2,511.1h0.9v0.9h-0.9zM442.0,520.7h0.9v0.9h-0.9zM452.2,528.2h0.9v0.9h-0.9zM447.7,526.8h0.9v0.9h-0.9zM484.1,514.7h0.9v0.9h-0.9zM447.3,526.3h0.9v0.9h-0.9zM484.6,521.4h0.9v0.9h-0.9zM483.0,514.5h0.9v0.9h-0.9zM485.5,519.0h0.9v0.9h-0.9zM459.1,510.6h0.9v0.9h-0.9zM476.2,512.3h0.9v0.9h-0.9zM459.4,509.7h0.9v0.9h-0.9zM449.4,525.6h0.9v0.9h-0.9zM441.0,522.9h0.9v0.9h-0.9zM482.0,512.6h0.9v0.9h-0.9zM466.1,509.8h0.9v0.9h-0.9zM461.9,510.1h0.9v0.9h-0.9zM454.0,511.4h0.9v0.9h-0.9zM449.8,511.4h0.9v0.9h-0.9zM459.2,528.4h0.9v0.9h-0.9zM450.3,511.7h0.9v0.9h-0.9zM480.0,512.7h0.9v0.9h-0.9zM460.2,510.9h0.9v0.9h-0.9zM449.4,526.3h0.9v0.9h-0.9zM444.9,524.4h0.9v0.9h-0.9zM483.2,522.8h0.9v0.9h-0.9zM449.7,511.3h0.9v0.9h-0.9zM465.2,510.0h0.9v0.9h-0.9zM467.4,528.2h0.9v0.9h-0.9zM476.2,511.0h0.9v0.9h-0.9zM471.6,527.4h0.9v0.9h-0.9zM450.0,526.3h0.9v0.9h-0.9zM453.5,527.9h0.9v0.9h-0.9zM461.9,510.8h0.9v0.9h-0.9zM447.7,526.9h0.9v0.9h-0.9zM475.2,510.7h0.9v0.9h-0.9zM442.4,516.0h0.9v0.9h-0.9zM485.4,519.8h0.9v0.9h-0.9zM481.2,513.8h0.9v0.9h-0.9zM445.5,513.6h0.9v0.9h-0.9zM443.9,514.6h0.9v0.9h-0.9zM477.6,525.7h0.9v0.9h-0.9zM484.6,521.7h0.9v0.9h-0.9zM460.9,528.1h0.9v0.9h-0.9zM458.1,527.5h0.9v0.9h-0.9zM449.8,512.4h0.9v0.9h-0.9zM484.1,522.0h0.9v0.9h-0.9zM459.7,509.4h0.9v0.9h-0.9zM483.0,523.1h0.9v0.9h-0.9zM455.6,511.1h0.9v0.9h-0.9zM481.3,523.9h0.9v0.9h-0.9zM478.4,513.3h0.9v0.9h-0.9zM444.2,513.5h0.9v0.9h-0.9zM451.1,510.6h0.9v0.9h-0.9zM456.5,528.4h0.9v0.9h-0.9zM454.1,511.0h0.9v0.9h-0.9zM445.6,525.1h0.9v0.9h-0.9zM450.3,526.3h0.9v0.9h-0.9zM458.7,528.5h0.9v0.9h-0.9zM466.3,510.3h0.9v0.9h-0.9zM450.5,512.4h0.9v0.9h-0.9zM467.0,527.7h0.9v0.9h-0.9zM480.1,513.0h0.9v0.9h-0.9zM468.7,510.4h0.9v0.9h-0.9zM442.5,521.6h0.9v0.9h-0.9zM481.3,524.5h0.9v0.9h-0.9zM456.3,529.1h0.9v0.9h-0.9zM484.8,523.4h0.9v0.9h-0.9zM459.5,510.8h0.9v0.9h-0.9zM461.6,527.8h0.9v0.9h-0.9zM482.9,515.6h0.9v0.9h-0.9zM440.7,519.7h0.9v0.9h-0.9zM466.3,510.3h0.9v0.9h-0.9zM481.3,526.0h0.9v0.9h-0.9zM445.1,524.1h0.9v0.9h-0.9zM478.4,511.7h0.9v0.9h-0.9zM442.8,522.2h0.9v0.9h-0.9zM457.4,511.2h0.9v0.9h-0.9zM441.7,516.0h0.9v0.9h-0.9zM485.1,520.3h0.9v0.9h-0.9zM476.2,512.3h0.9v0.9h-0.9zM461.9,509.1h0.9v0.9h-0.9zM484.4,523.5h0.9v0.9h-0.9zM474.1,526.4h0.9v0.9h-0.9zM477.1,525.8h0.9v0.9h-0.9zM442.5,516.8h0.9v0.9h-0.9zM442.3,517.6h0.9v0.9h-0.9zM481.3,524.5h0.9v0.9h-0.9zM473.9,527.4h0.9v0.9h-0.9zM474.3,527.1h0.9v0.9h-0.9zM482.7,523.6h0.9v0.9h-0.9zM481.5,523.6h0.9v0.9h-0.9zM480.1,512.6h0.9v0.9h-0.9zM459.3,509.3h0.9v0.9h-0.9zM442.9,523.6h0.9v0.9h-0.9zM475.5,512.3h0.9v0.9h-0.9zM469.2,527.5h0.9v0.9h-0.9zM483.5,514.0h0.9v0.9h-0.9zM455.3,509.0h0.9v0.9h-0.9zM480.2,525.1h0.9v0.9h-0.9zM443.2,525.6h0.9v0.9h-0.9zM460.6,527.8h0.9v0.9h-0.9zM468.2,510.9h0.9v0.9h-0.9zM458.6,530.2h0.9v0.9h-0.9zM442.5,515.0h0.9v0.9h-0.9zM482.8,515.0h0.9v0.9h-0.9zM451.0,510.6h0.9v0.9h-0.9zM455.3,511.3h0.9v0.9h-0.9zM482.8,523.2h0.9v0.9h-0.9zM481.2,527.4h0.9v0.9h-0.9zM461.1,509.1h0.9v0.9h-0.9zM472.2,528.5h0.9v0.9h-0.9zM480.2,512.6h0.9v0.9h-0.9zM484.9,520.8h0.9v0.9h-0.9zM470.3,509.8h0.9v0.9h-0.9zM447.8,511.4h0.9v0.9h-0.9zM452.3,510.1h0.9v0.9h-0.9zM473.7,527.4h0.9v0.9h-0.9zM459.3,529.8h0.9v0.9h-0.9zM441.1,518.9h0.9v0.9h-0.9zM459.6,508.8h0.9v0.9h-0.9zM483.3,516.2h0.9v0.9h-0.9zM484.8,522.5h0.9v0.9h-0.9zM450.8,511.7h0.9v0.9h-0.9zM446.9,525.5h0.9v0.9h-0.9zM474.9,510.9h0.9v0.9h-0.9zM484.9,518.3h0.9v0.9h-0.9zM446.7,513.6h0.9v0.9h-0.9zM478.9,525.1h0.9v0.9h-0.9zM470.2,527.3h0.9v0.9h-0.9zM481.3,513.9h0.9v0.9h-0.9zM451.6,511.8h0.9v0.9h-0.9zM472.9,510.6h0.9v0.9h-0.9zM456.1,510.1h0.9v0.9h-0.9zM448.9,526.7h0.9v0.9h-0.9zM442.4,522.0h0.9v0.9h-0.9zM460.2,510.9h0.9v0.9h-0.9zM483.4,514.9h0.9v0.9h-0.9zM470.0,528.3h0.9v0.9h-0.9zM442.6,516.1h0.9v0.9h-0.9zM474.3,510.9h0.9v0.9h-0.9zM464.1,527.8h0.9v0.9h-0.9zM441.9,520.6h0.9v0.9h-0.9zM443.1,524.3h0.9v0.9h-0.9zM441.8,522.5h0.9v0.9h-0.9zM441.6,523.1h0.9v0.9h-0.9zM464.5,509.9h0.9v0.9h-0.9zM454.5,527.4h0.9v0.9h-0.9zM463.6,509.7h0.9v0.9h-0.9zM475.4,512.0h0.9v0.9h-0.9zM477.3,525.7h0.9v0.9h-0.9zM477.7,525.7h0.9v0.9h-0.9zM484.7,518.9h0.9v0.9h-0.9zM442.8,515.6h0.9v0.9h-0.9zM448.7,526.1h0.9v0.9h-0.9zM467.5,510.5h0.9v0.9h-0.9zM482.1,513.9h0.9v0.9h-0.9zM451.0,526.3h0.9v0.9h-0.9zM455.7,511.4h0.9v0.9h-0.9zM441.2,517.0h0.9v0.9h-0.9zM454.5,527.7h0.9v0.9h-0.9zM458.5,510.0h0.9v0.9h-0.9zM456.7,509.7h0.9v0.9h-0.9zM462.7,510.8h0.9v0.9h-0.9zM470.8,509.7h0.9v0.9h-0.9zM481.2,513.0h0.9v0.9h-0.9zM484.6,517.5h0.9v0.9h-0.9zM467.5,509.6h0.9v0.9h-0.9zM470.4,511.0h0.9v0.9h-0.9zM480.5,513.5h0.9v0.9h-0.9zM473.3,526.6h0.9v0.9h-0.9zM484.2,522.4h0.9v0.9h-0.9zM469.5,510.5h0.9v0.9h-0.9zM454.7,511.5h0.9v0.9h-0.9zM474.6,526.5h0.9v0.9h-0.9zM477.5,526.7h0.9v0.9h-0.9zM478.2,512.0h0.9v0.9h-0.9zM486.3,515.8h0.9v0.9h-0.9zM465.0,508.9h0.9v0.9h-0.9zM453.3,526.9h0.9v0.9h-0.9zM479.8,513.4h0.9v0.9h-0.9zM445.2,513.7h0.9v0.9h-0.9zM458.7,510.3h0.9v0.9h-0.9zM458.5,510.9h0.9v0.9h-0.9zM483.1,515.9h0.9v0.9h-0.9zM471.5,511.5h0.9v0.9h-0.9zM444.1,523.2h0.9v0.9h-0.9zM483.6,522.6h0.9v0.9h-0.9zM463.3,508.7h0.9v0.9h-0.9zM445.8,524.3h0.9v0.9h-0.9zM450.1,526.7h0.9v0.9h-0.9zM464.9,527.5h0.9v0.9h-0.9zM484.1,523.2h0.9v0.9h-0.9zM443.4,514.6h0.9v0.9h-0.9zM449.1,526.5h0.9v0.9h-0.9zM478.3,512.8h0.9v0.9h-0.9zM443.0,516.0h0.9v0.9h-0.9zM445.1,524.5h0.9v0.9h-0.9zM483.4,523.0h0.9v0.9h-0.9zM478.5,513.3h0.9v0.9h-0.9zM453.7,527.8h0.9v0.9h-0.9zM443.6,515.1h0.9v0.9h-0.9zM455.6,510.6h0.9v0.9h-0.9zM441.4,521.7h0.9v0.9h-0.9zM453.0,527.6h0.9v0.9h-0.9zM457.1,527.4h0.9v0.9h-0.9zM458.2,509.3h0.9v0.9h-0.9zM445.0,523.9h0.9v0.9h-0.9zM459.0,510.3h0.9v0.9h-0.9zM443.1,522.5h0.9v0.9h-0.9zM441.2,522.5h0.9v0.9h-0.9zM470.6,511.3h0.9v0.9h-0.9zM446.1,524.2h0.9v0.9h-0.9zM483.9,522.8h0.9v0.9h-0.9zM460.4,528.6h0.9v0.9h-0.9zM441.8,521.6h0.9v0.9h-0.9zM448.0,511.8h0.9v0.9h-0.9zM484.4,517.6h0.9v0.9h-0.9zM449.1,526.4h0.9v0.9h-0.9zM481.2,513.0h0.9v0.9h-0.9zM462.2,528.2h0.9v0.9h-0.9zM443.1,522.4h0.9v0.9h-0.9zM483.2,523.9h0.9v0.9h-0.9zM472.0,510.4h0.9v0.9h-0.9zM484.7,522.1h0.9v0.9h-0.9zM454.7,509.6h0.9v0.9h-0.9zM461.6,528.6h0.9v0.9h-0.9zM451.2,526.9h0.9v0.9h-0.9zM482.5,514.7h0.9v0.9h-0.9zM485.6,519.1h0.9v0.9h-0.9zM477.4,512.7h0.9v0.9h-0.9zM454.2,510.8h0.9v0.9h-0.9zM481.5,514.5h0.9v0.9h-0.9zM484.1,516.1h0.9v0.9h-0.9zM483.2,514.6h0.9v0.9h-0.9zM472.8,511.3h0.9v0.9h-0.9zM473.7,511.5h0.9v0.9h-0.9zM450.7,512.3h0.9v0.9h-0.9zM454.0,528.1h0.9v0.9h-0.9zM466.2,510.1h0.9v0.9h-0.9zM446.9,526.2h0.9v0.9h-0.9zM481.3,513.3h0.9v0.9h-0.9zM484.0,522.1h0.9v0.9h-0.9zM473.9,509.9h0.9v0.9h-0.9zM484.8,520.6h0.9v0.9h-0.9zM463.2,528.4h0.9v0.9h-0.9zM480.6,512.9h0.9v0.9h-0.9zM479.3,525.4h0.9v0.9h-0.9zM442.7,523.2h0.9v0.9h-0.9zM480.2,524.6h0.9v0.9h-0.9zM454.1,526.9h0.9v0.9h-0.9zM443.7,514.5h0.9v0.9h-0.9zM485.7,518.0h0.9v0.9h-0.9zM457.3,527.4h0.9v0.9h-0.9zM484.8,521.3h0.9v0.9h-0.9zM459.9,528.2h0.9v0.9h-0.9zM486.0,521.4h0.9v0.9h-0.9zM476.0,511.5h0.9v0.9h-0.9zM472.6,511.0h0.9v0.9h-0.9zM450.5,526.6h0.9v0.9h-0.9zM453.4,511.7h0.9v0.9h-0.9zM450.9,510.8h0.9v0.9h-0.9zM477.9,526.4h0.9v0.9h-0.9zM454.7,511.5h0.9v0.9h-0.9z" fill="#222" opacity="0.8"/>
<path d="M442.50,519.20 C442.50,514.97 451.84,511.50 463.25,511.50 C474.70,511.50 484.00,514.95 484.00,519.20 C484.00,523.45 474.70,526.90 463.25,526.90 C451.84,526.90 442.50,523.44 442.50,519.20 Z" fill="url(#l27)" stroke="none"/>
<g clip-path="url(#c27)">
<ellipse cx="465.0" cy="517.5" rx="12.0" ry="3.8" fill="url(#r28)"/>
<ellipse cx="463.0" cy="520.5" rx="16.0" ry="6.0" fill="url(#r29)"/>
<ellipse cx="466.0" cy="519.0" rx="8.0" ry="0.7" fill="#fff" opacity="0.4"/>
<path d="M447.00,519.16 C447.00,515.77 454.47,513.00 463.60,513.00 C472.76,513.00 480.20,515.76 480.20,519.16 C480.20,522.56 472.76,525.32 463.60,525.32 C454.47,525.32 447.00,522.55 447.00,519.16 Z" fill="none" stroke="#888" stroke-width="0.45"/>
<path d="M451.05,519.12 C451.05,516.50 456.84,514.35 463.91,514.35 C471.02,514.35 476.78,516.49 476.78,519.12 C476.78,521.76 471.02,523.90 463.91,523.90 C456.84,523.90 451.05,521.75 451.05,519.12 Z" fill="none" stroke="#888" stroke-width="0.45"/>
<path d="M454.88,519.09 C454.88,517.18 459.08,515.62 464.21,515.62 C469.37,515.62 473.55,517.18 473.55,519.09 C473.55,521.00 469.37,522.56 464.21,522.56 C459.08,522.56 454.88,521.00 454.88,519.09 Z" fill="none" stroke="#888" stroke-width="0.45"/>
</g>
<path d="M442.50,519.20 C442.50,514.97 451.84,511.50 463.25,511.50 C474.70,511.50 484.00,514.95 484.00,519.20 C484.00,523.45 474.70,526.90 463.25,526.90 C451.84,526.90 442.50,523.44 442.50,519.20 Z" fill="none" stroke="#111" stroke-width="0.8"/>
</g>
<rect x="271.60" y="245.20" width="99.80" height="99.30" fill="none" stroke="#666" stroke-width="0.8" />
<line x1="271.60" y1="295.30" x2="371.40" y2="295.30" stroke="#444" stroke-width="0.8" />
<line x1="318.60" y1="245.20" x2="318.60" y2="344.50" stroke="#444" stroke-width="0.8" />
<text x="267.40" y="255.80" font-size="6.2" text-anchor="end" fill="#222">10<tspan font-size="4.9" dy="-2.7">5</tspan></text>
<text x="267.40" y="274.10" font-size="6.2" text-anchor="end" fill="#222">10<tspan font-size="4.9" dy="-2.7">4</tspan></text>
<text x="267.40" y="292.60" font-size="6.2" text-anchor="end" fill="#222">10<tspan font-size="4.9" dy="-2.7">3</tspan></text>
<text x="267.20" y="319.00" font-size="5.9" text-anchor="end" font-weight="normal" fill="#222"  >0</text>
<path d="M270.0,253.5h1.6M270.0,271.8h1.6M270.0,290.3h1.6M270.7,266.3h0.9M270.7,263.1h0.9M270.7,260.8h0.9M270.7,259.0h0.9M270.7,257.6h0.9M270.7,256.3h0.9M270.7,255.3h0.9M270.7,254.3h0.9M270.7,284.7h0.9M270.7,281.5h0.9M270.7,279.2h0.9M270.7,277.4h0.9M270.7,275.9h0.9M270.7,274.7h0.9M270.7,273.6h0.9M270.7,272.6h0.9M270.7,295.9h0.9M270.7,299.1h0.9M270.7,301.4h0.9M270.7,303.2h0.9M270.7,304.7h0.9M270.7,305.9h0.9M270.7,307.0h0.9M270.7,308.0h0.9M270.7,310.1h0.9M270.7,303.5h0.9M270.7,296.9h0.9" stroke="#555" stroke-width="0.6" fill="none"/>
<line x1="269.70" y1="316.70" x2="271.60" y2="316.70" stroke="#111" stroke-width="1.1" />
<text x="298.40" y="356.80" font-size="5.9" text-anchor="middle" font-weight="normal" fill="#222"  >0</text>
<text x="325.90" y="356.80" font-size="6.2" text-anchor="middle" fill="#222">10<tspan font-size="4.9" dy="-2.7">3</tspan></text>
<text x="344.10" y="356.80" font-size="6.2" text-anchor="middle" fill="#222">10<tspan font-size="4.9" dy="-2.7">4</tspan></text>
<text x="362.60" y="356.80" font-size="6.2" text-anchor="middle" fill="#222">10<tspan font-size="4.9" dy="-2.7">5</tspan></text>
<path d="M331.4,344.5v0.9M334.6,344.5v0.9M336.9,344.5v0.9M338.6,344.5v0.9M340.1,344.5v0.9M341.3,344.5v0.9M342.3,344.5v0.9M343.3,344.5v0.9M349.7,344.5v0.9M352.9,344.5v0.9M355.2,344.5v0.9M357.0,344.5v0.9M358.5,344.5v0.9M359.7,344.5v0.9M360.8,344.5v0.9M361.8,344.5v0.9M320.4,344.5v0.9M317.2,344.5v0.9M314.9,344.5v0.9M313.2,344.5v0.9M311.7,344.5v0.9M310.5,344.5v0.9M309.5,344.5v0.9M308.5,344.5v0.9M325.9,344.5v1.6M344.1,344.5v1.6M362.6,344.5v1.6" stroke="#555" stroke-width="0.6" fill="none"/>
<line x1="298.40" y1="344.50" x2="298.40" y2="346.40" stroke="#111" stroke-width="1.1" />
<text x="274.00" y="250.80" font-size="6.2" text-anchor="start" font-weight="normal" fill="#222"  >7.70</text>
<text x="370.20" y="250.80" font-size="6.2" text-anchor="end" font-weight="normal" fill="#222"  >92.29</text>
<text x="274.00" y="342.70" font-size="6.2" text-anchor="start" font-weight="normal" fill="#222"  >0.00</text>
<text x="370.80" y="342.70" font-size="6.2" text-anchor="end" font-weight="normal" fill="#222"  >0.00</text>
<rect x="399.60" y="244.80" width="99.70" height="99.00" fill="none" stroke="#666" stroke-width="0.8" />
<line x1="399.60" y1="301.10" x2="499.30" y2="301.10" stroke="#444" stroke-width="0.8" />
<line x1="447.30" y1="244.80" x2="447.30" y2="343.80" stroke="#444" stroke-width="0.8" />
<text x="395.40" y="255.40" font-size="6.2" text-anchor="end" fill="#222">10<tspan font-size="4.9" dy="-2.7">5</tspan></text>
<text x="395.40" y="273.70" font-size="6.2" text-anchor="end" fill="#222">10<tspan font-size="4.9" dy="-2.7">4</tspan></text>
<text x="395.40" y="292.20" font-size="6.2" text-anchor="end" fill="#222">10<tspan font-size="4.9" dy="-2.7">3</tspan></text>
<text x="395.20" y="318.60" font-size="5.9" text-anchor="end" font-weight="normal" fill="#222"  >0</text>
<path d="M398.0,253.1h1.6M398.0,271.4h1.6M398.0,289.9h1.6M398.7,265.9h0.9M398.7,262.7h0.9M398.7,260.4h0.9M398.7,258.6h0.9M398.7,257.2h0.9M398.7,255.9h0.9M398.7,254.9h0.9M398.7,253.9h0.9M398.7,284.3h0.9M398.7,281.1h0.9M398.7,278.8h0.9M398.7,277.0h0.9M398.7,275.5h0.9M398.7,274.3h0.9M398.7,273.2h0.9M398.7,272.2h0.9M398.7,295.5h0.9M398.7,298.7h0.9M398.7,301.0h0.9M398.7,302.8h0.9M398.7,304.3h0.9M398.7,305.5h0.9M398.7,306.6h0.9M398.7,307.6h0.9M398.7,309.7h0.9M398.7,303.1h0.9M398.7,296.5h0.9" stroke="#555" stroke-width="0.6" fill="none"/>
<line x1="397.70" y1="316.30" x2="399.60" y2="316.30" stroke="#111" stroke-width="1.1" />
<text x="426.40" y="356.10" font-size="5.9" text-anchor="middle" font-weight="normal" fill="#222"  >0</text>
<text x="453.90" y="356.10" font-size="6.2" text-anchor="middle" fill="#222">10<tspan font-size="4.9" dy="-2.7">3</tspan></text>
<text x="472.10" y="356.10" font-size="6.2" text-anchor="middle" fill="#222">10<tspan font-size="4.9" dy="-2.7">4</tspan></text>
<text x="490.60" y="356.10" font-size="6.2" text-anchor="middle" fill="#222">10<tspan font-size="4.9" dy="-2.7">5</tspan></text>
<path d="M459.4,343.8v0.9M462.6,343.8v0.9M464.9,343.8v0.9M466.6,343.8v0.9M468.1,343.8v0.9M469.3,343.8v0.9M470.3,343.8v0.9M471.3,343.8v0.9M477.7,343.8v0.9M480.9,343.8v0.9M483.2,343.8v0.9M485.0,343.8v0.9M486.5,343.8v0.9M487.7,343.8v0.9M488.8,343.8v0.9M489.8,343.8v0.9M448.4,343.8v0.9M445.2,343.8v0.9M442.9,343.8v0.9M441.2,343.8v0.9M439.7,343.8v0.9M438.5,343.8v0.9M437.5,343.8v0.9M436.5,343.8v0.9M453.9,343.8v1.6M472.1,343.8v1.6M490.6,343.8v1.6" stroke="#555" stroke-width="0.6" fill="none"/>
<line x1="426.40" y1="343.80" x2="426.40" y2="345.70" stroke="#111" stroke-width="1.1" />
<text x="402.00" y="250.40" font-size="6.2" text-anchor="start" font-weight="normal" fill="#222"  >8.11</text>
<text x="498.10" y="250.40" font-size="6.2" text-anchor="end" font-weight="normal" fill="#222"  >91.88</text>
<text x="402.00" y="342.00" font-size="6.2" text-anchor="start" font-weight="normal" fill="#222"  >0.00</text>
<text x="498.70" y="342.00" font-size="6.2" text-anchor="end" font-weight="normal" fill="#222"  >0.00</text>
<rect x="271.50" y="364.30" width="99.90" height="99.20" fill="none" stroke="#666" stroke-width="0.8" />
<line x1="271.50" y1="415.00" x2="371.40" y2="415.00" stroke="#444" stroke-width="0.8" />
<line x1="318.90" y1="364.30" x2="318.90" y2="463.50" stroke="#444" stroke-width="0.8" />
<text x="267.30" y="374.90" font-size="6.2" text-anchor="end" fill="#222">10<tspan font-size="4.9" dy="-2.7">5</tspan></text>
<text x="267.30" y="393.20" font-size="6.2" text-anchor="end" fill="#222">10<tspan font-size="4.9" dy="-2.7">4</tspan></text>
<text x="267.30" y="411.70" font-size="6.2" text-anchor="end" fill="#222">10<tspan font-size="4.9" dy="-2.7">3</tspan></text>
<text x="267.10" y="438.10" font-size="5.9" text-anchor="end" font-weight="normal" fill="#222"  >0</text>
<path d="M269.9,372.6h1.6M269.9,390.9h1.6M269.9,409.4h1.6M270.6,385.4h0.9M270.6,382.2h0.9M270.6,379.9h0.9M270.6,378.1h0.9M270.6,376.7h0.9M270.6,375.4h0.9M270.6,374.4h0.9M270.6,373.4h0.9M270.6,403.8h0.9M270.6,400.6h0.9M270.6,398.3h0.9M270.6,396.5h0.9M270.6,395.0h0.9M270.6,393.8h0.9M270.6,392.7h0.9M270.6,391.7h0.9M270.6,415.0h0.9M270.6,418.2h0.9M270.6,420.5h0.9M270.6,422.3h0.9M270.6,423.8h0.9M270.6,425.0h0.9M270.6,426.1h0.9M270.6,427.1h0.9M270.6,429.2h0.9M270.6,422.6h0.9M270.6,416.0h0.9" stroke="#555" stroke-width="0.6" fill="none"/>
<line x1="269.60" y1="435.80" x2="271.50" y2="435.80" stroke="#111" stroke-width="1.1" />
<text x="298.30" y="475.80" font-size="5.9" text-anchor="middle" font-weight="normal" fill="#222"  >0</text>
<text x="325.80" y="475.80" font-size="6.2" text-anchor="middle" fill="#222">10<tspan font-size="4.9" dy="-2.7">3</tspan></text>
<text x="344.00" y="475.80" font-size="6.2" text-anchor="middle" fill="#222">10<tspan font-size="4.9" dy="-2.7">4</tspan></text>
<text x="362.50" y="475.80" font-size="6.2" text-anchor="middle" fill="#222">10<tspan font-size="4.9" dy="-2.7">5</tspan></text>
<path d="M331.3,463.5v0.9M334.5,463.5v0.9M336.8,463.5v0.9M338.5,463.5v0.9M340.0,463.5v0.9M341.2,463.5v0.9M342.2,463.5v0.9M343.2,463.5v0.9M349.6,463.5v0.9M352.8,463.5v0.9M355.1,463.5v0.9M356.9,463.5v0.9M358.4,463.5v0.9M359.6,463.5v0.9M360.7,463.5v0.9M361.7,463.5v0.9M320.3,463.5v0.9M317.1,463.5v0.9M314.8,463.5v0.9M313.1,463.5v0.9M311.6,463.5v0.9M310.4,463.5v0.9M309.4,463.5v0.9M308.4,463.5v0.9M325.8,463.5v1.6M344.0,463.5v1.6M362.5,463.5v1.6" stroke="#555" stroke-width="0.6" fill="none"/>
<line x1="298.30" y1="463.50" x2="298.30" y2="465.40" stroke="#111" stroke-width="1.1" />
<text x="273.90" y="369.90" font-size="6.2" text-anchor="start" font-weight="normal" fill="#222"  >60.42</text>
<text x="370.20" y="369.90" font-size="6.2" text-anchor="end" font-weight="normal" fill="#222"  >39.58</text>
<text x="273.90" y="461.70" font-size="6.2" text-anchor="start" font-weight="normal" fill="#222"  >0.00</text>
<text x="370.80" y="461.70" font-size="6.2" text-anchor="end" font-weight="normal" fill="#222"  >0.00</text>
<rect x="399.40" y="364.20" width="99.90" height="99.80" fill="none" stroke="#666" stroke-width="0.8" />
<line x1="399.40" y1="420.10" x2="499.30" y2="420.10" stroke="#444" stroke-width="0.8" />
<line x1="447.30" y1="364.20" x2="447.30" y2="464.00" stroke="#444" stroke-width="0.8" />
<text x="395.20" y="374.80" font-size="6.2" text-anchor="end" fill="#222">10<tspan font-size="4.9" dy="-2.7">5</tspan></text>
<text x="395.20" y="393.10" font-size="6.2" text-anchor="end" fill="#222">10<tspan font-size="4.9" dy="-2.7">4</tspan></text>
<text x="395.20" y="411.60" font-size="6.2" text-anchor="end" fill="#222">10<tspan font-size="4.9" dy="-2.7">3</tspan></text>
<text x="395.00" y="438.00" font-size="5.9" text-anchor="end" font-weight="normal" fill="#222"  >0</text>
<path d="M397.8,372.5h1.6M397.8,390.8h1.6M397.8,409.3h1.6M398.5,385.3h0.9M398.5,382.1h0.9M398.5,379.8h0.9M398.5,378.0h0.9M398.5,376.6h0.9M398.5,375.3h0.9M398.5,374.3h0.9M398.5,373.3h0.9M398.5,403.7h0.9M398.5,400.5h0.9M398.5,398.2h0.9M398.5,396.4h0.9M398.5,394.9h0.9M398.5,393.7h0.9M398.5,392.6h0.9M398.5,391.6h0.9M398.5,414.9h0.9M398.5,418.1h0.9M398.5,420.4h0.9M398.5,422.2h0.9M398.5,423.7h0.9M398.5,424.9h0.9M398.5,426.0h0.9M398.5,427.0h0.9M398.5,429.1h0.9M398.5,422.5h0.9M398.5,415.9h0.9" stroke="#555" stroke-width="0.6" fill="none"/>
<line x1="397.50" y1="435.70" x2="399.40" y2="435.70" stroke="#111" stroke-width="1.1" />
<text x="426.20" y="476.30" font-size="5.9" text-anchor="middle" font-weight="normal" fill="#222"  >0</text>
<text x="453.70" y="476.30" font-size="6.2" text-anchor="middle" fill="#222">10<tspan font-size="4.9" dy="-2.7">3</tspan></text>
<text x="471.90" y="476.30" font-size="6.2" text-anchor="middle" fill="#222">10<tspan font-size="4.9" dy="-2.7">4</tspan></text>
<text x="490.40" y="476.30" font-size="6.2" text-anchor="middle" fill="#222">10<tspan font-size="4.9" dy="-2.7">5</tspan></text>
<path d="M459.2,464.0v0.9M462.4,464.0v0.9M464.7,464.0v0.9M466.4,464.0v0.9M467.9,464.0v0.9M469.1,464.0v0.9M470.1,464.0v0.9M471.1,464.0v0.9M477.5,464.0v0.9M480.7,464.0v0.9M483.0,464.0v0.9M484.8,464.0v0.9M486.3,464.0v0.9M487.5,464.0v0.9M488.6,464.0v0.9M489.6,464.0v0.9M448.2,464.0v0.9M445.0,464.0v0.9M442.7,464.0v0.9M441.0,464.0v0.9M439.5,464.0v0.9M438.3,464.0v0.9M437.3,464.0v0.9M436.3,464.0v0.9M453.7,464.0v1.6M471.9,464.0v1.6M490.4,464.0v1.6" stroke="#555" stroke-width="0.6" fill="none"/>
<line x1="426.20" y1="464.00" x2="426.20" y2="465.90" stroke="#111" stroke-width="1.1" />
<text x="401.80" y="369.80" font-size="6.2" text-anchor="start" font-weight="normal" fill="#222"  >79.17</text>
<text x="498.10" y="369.80" font-size="6.2" text-anchor="end" font-weight="normal" fill="#222"  >20.83</text>
<text x="401.80" y="462.20" font-size="6.2" text-anchor="start" font-weight="normal" fill="#222"  >0.00</text>
<text x="498.70" y="462.20" font-size="6.2" text-anchor="end" font-weight="normal" fill="#222"  >0.00</text>
<rect x="272.30" y="483.30" width="99.10" height="98.60" fill="none" stroke="#666" stroke-width="0.8" />
<line x1="272.30" y1="533.20" x2="371.40" y2="533.20" stroke="#444" stroke-width="0.8" />
<line x1="319.40" y1="483.30" x2="319.40" y2="581.90" stroke="#444" stroke-width="0.8" />
<text x="268.10" y="493.90" font-size="6.2" text-anchor="end" fill="#222">10<tspan font-size="4.9" dy="-2.7">5</tspan></text>
<text x="268.10" y="512.20" font-size="6.2" text-anchor="end" fill="#222">10<tspan font-size="4.9" dy="-2.7">4</tspan></text>
<text x="268.10" y="530.70" font-size="6.2" text-anchor="end" fill="#222">10<tspan font-size="4.9" dy="-2.7">3</tspan></text>
<text x="267.90" y="557.10" font-size="5.9" text-anchor="end" font-weight="normal" fill="#222"  >0</text>
<path d="M270.7,491.6h1.6M270.7,509.9h1.6M270.7,528.4h1.6M271.4,504.4h0.9M271.4,501.2h0.9M271.4,498.9h0.9M271.4,497.1h0.9M271.4,495.7h0.9M271.4,494.4h0.9M271.4,493.4h0.9M271.4,492.4h0.9M271.4,522.8h0.9M271.4,519.6h0.9M271.4,517.3h0.9M271.4,515.5h0.9M271.4,514.0h0.9M271.4,512.8h0.9M271.4,511.7h0.9M271.4,510.7h0.9M271.4,534.0h0.9M271.4,537.2h0.9M271.4,539.5h0.9M271.4,541.3h0.9M271.4,542.8h0.9M271.4,544.0h0.9M271.4,545.1h0.9M271.4,546.1h0.9M271.4,548.2h0.9M271.4,541.6h0.9M271.4,535.0h0.9" stroke="#555" stroke-width="0.6" fill="none"/>
<line x1="270.40" y1="554.80" x2="272.30" y2="554.80" stroke="#111" stroke-width="1.1" />
<text x="299.10" y="594.20" font-size="5.9" text-anchor="middle" font-weight="normal" fill="#222"  >0</text>
<text x="326.60" y="594.20" font-size="6.2" text-anchor="middle" fill="#222">10<tspan font-size="4.9" dy="-2.7">3</tspan></text>
<text x="344.80" y="594.20" font-size="6.2" text-anchor="middle" fill="#222">10<tspan font-size="4.9" dy="-2.7">4</tspan></text>
<text x="363.30" y="594.20" font-size="6.2" text-anchor="middle" fill="#222">10<tspan font-size="4.9" dy="-2.7">5</tspan></text>
<path d="M332.1,581.9v0.9M335.3,581.9v0.9M337.6,581.9v0.9M339.3,581.9v0.9M340.8,581.9v0.9M342.0,581.9v0.9M343.0,581.9v0.9M344.0,581.9v0.9M350.4,581.9v0.9M353.6,581.9v0.9M355.9,581.9v0.9M357.7,581.9v0.9M359.2,581.9v0.9M360.4,581.9v0.9M361.5,581.9v0.9M362.5,581.9v0.9M321.1,581.9v0.9M317.9,581.9v0.9M315.6,581.9v0.9M313.9,581.9v0.9M312.4,581.9v0.9M311.2,581.9v0.9M310.2,581.9v0.9M309.2,581.9v0.9M326.6,581.9v1.6M344.8,581.9v1.6M363.3,581.9v1.6" stroke="#555" stroke-width="0.6" fill="none"/>
<line x1="299.10" y1="581.90" x2="299.10" y2="583.80" stroke="#111" stroke-width="1.1" />
<text x="274.70" y="488.90" font-size="6.2" text-anchor="start" font-weight="normal" fill="#222"  >2.10</text>
<text x="370.20" y="488.90" font-size="6.2" text-anchor="end" font-weight="normal" fill="#222"  >97.90</text>
<text x="274.70" y="580.10" font-size="6.2" text-anchor="start" font-weight="normal" fill="#222"  >0.00</text>
<text x="370.80" y="580.10" font-size="6.2" text-anchor="end" font-weight="normal" fill="#222"  >0.00</text>
<rect x="400.80" y="482.90" width="99.60" height="100.40" fill="none" stroke="#666" stroke-width="0.8" />
<line x1="400.80" y1="539.30" x2="500.40" y2="539.30" stroke="#444" stroke-width="0.8" />
<line x1="443.60" y1="482.90" x2="443.60" y2="583.30" stroke="#444" stroke-width="0.8" />
<text x="396.60" y="493.50" font-size="6.2" text-anchor="end" fill="#222">10<tspan font-size="4.9" dy="-2.7">5</tspan></text>
<text x="396.60" y="511.80" font-size="6.2" text-anchor="end" fill="#222">10<tspan font-size="4.9" dy="-2.7">4</tspan></text>
<text x="396.60" y="530.30" font-size="6.2" text-anchor="end" fill="#222">10<tspan font-size="4.9" dy="-2.7">3</tspan></text>
<text x="396.40" y="556.70" font-size="5.9" text-anchor="end" font-weight="normal" fill="#222"  >0</text>
<path d="M399.2,491.2h1.6M399.2,509.5h1.6M399.2,528.0h1.6M399.9,504.0h0.9M399.9,500.8h0.9M399.9,498.5h0.9M399.9,496.7h0.9M399.9,495.3h0.9M399.9,494.0h0.9M399.9,493.0h0.9M399.9,492.0h0.9M399.9,522.4h0.9M399.9,519.2h0.9M399.9,516.9h0.9M399.9,515.1h0.9M399.9,513.6h0.9M399.9,512.4h0.9M399.9,511.3h0.9M399.9,510.3h0.9M399.9,533.6h0.9M399.9,536.8h0.9M399.9,539.1h0.9M399.9,540.9h0.9M399.9,542.4h0.9M399.9,543.6h0.9M399.9,544.7h0.9M399.9,545.7h0.9M399.9,547.8h0.9M399.9,541.2h0.9M399.9,534.6h0.9" stroke="#555" stroke-width="0.6" fill="none"/>
<line x1="398.90" y1="554.40" x2="400.80" y2="554.40" stroke="#111" stroke-width="1.1" />
<text x="427.60" y="595.60" font-size="5.9" text-anchor="middle" font-weight="normal" fill="#222"  >0</text>
<text x="455.10" y="595.60" font-size="6.2" text-anchor="middle" fill="#222">10<tspan font-size="4.9" dy="-2.7">3</tspan></text>
<text x="473.30" y="595.60" font-size="6.2" text-anchor="middle" fill="#222">10<tspan font-size="4.9" dy="-2.7">4</tspan></text>
<text x="491.80" y="595.60" font-size="6.2" text-anchor="middle" fill="#222">10<tspan font-size="4.9" dy="-2.7">5</tspan></text>
<path d="M460.6,583.3v0.9M463.8,583.3v0.9M466.1,583.3v0.9M467.8,583.3v0.9M469.3,583.3v0.9M470.5,583.3v0.9M471.5,583.3v0.9M472.5,583.3v0.9M478.9,583.3v0.9M482.1,583.3v0.9M484.4,583.3v0.9M486.2,583.3v0.9M487.7,583.3v0.9M488.9,583.3v0.9M490.0,583.3v0.9M491.0,583.3v0.9M449.6,583.3v0.9M446.4,583.3v0.9M444.1,583.3v0.9M442.4,583.3v0.9M440.9,583.3v0.9M439.7,583.3v0.9M438.7,583.3v0.9M437.7,583.3v0.9M455.1,583.3v1.6M473.3,583.3v1.6M491.8,583.3v1.6" stroke="#555" stroke-width="0.6" fill="none"/>
<line x1="427.60" y1="583.30" x2="427.60" y2="585.20" stroke="#111" stroke-width="1.1" />
<text x="403.20" y="488.50" font-size="6.2" text-anchor="start" font-weight="normal" fill="#222"  >1.32</text>
<text x="499.20" y="488.50" font-size="6.2" text-anchor="end" font-weight="normal" fill="#222"  >98.68</text>
<text x="403.20" y="581.50" font-size="6.2" text-anchor="start" font-weight="normal" fill="#222"  >0.00</text>
<text x="499.80" y="581.50" font-size="6.2" text-anchor="end" font-weight="normal" fill="#222"  >0.00</text>
<line x1="261.10" y1="331.30" x2="261.10" y2="352.30" stroke="#111" stroke-width="1.1" />
<path d="M261.1,326.3 L257.90000000000003,334.3 L261.1,332.5 L264.3,334.3 Z" fill="#111" stroke="none" stroke-width="1" />
<line x1="260.55" y1="352.30" x2="282.50" y2="352.30" stroke="#111" stroke-width="1.1" />
<path d="M287.5,352.3 L279.9,349.3 L281.6,352.3 L279.9,355.3 Z" fill="#111" stroke="none" stroke-width="1" />
<text transform="translate(257.30,342.20) rotate(-90)" font-size="9.6" font-weight="bold" text-anchor="middle" fill="#1a1a1a" textLength="9.4" lengthAdjust="spacingAndGlyphs">KO</text>
<text x="264.50" y="362.50" font-size="8.6" text-anchor="start" font-weight="bold" fill="#1a1a1a" textLength="13.0" lengthAdjust="spacingAndGlyphs" >Gr-1</text>
<line x1="261.10" y1="449.60" x2="261.10" y2="470.60" stroke="#111" stroke-width="1.1" />
<path d="M261.1,444.6 L257.90000000000003,452.6 L261.1,450.8 L264.3,452.6 Z" fill="#111" stroke="none" stroke-width="1" />
<line x1="260.55" y1="470.60" x2="282.50" y2="470.60" stroke="#111" stroke-width="1.1" />
<path d="M287.5,470.6 L279.9,467.6 L281.6,470.6 L279.9,473.6 Z" fill="#111" stroke="none" stroke-width="1" />
<text transform="translate(257.30,460.50) rotate(-90)" font-size="9.6" font-weight="bold" text-anchor="middle" fill="#1a1a1a" textLength="9.4" lengthAdjust="spacingAndGlyphs">KO</text>
<text x="264.20" y="481.00" font-size="8.6" text-anchor="start" font-weight="bold" fill="#1a1a1a" textLength="13.600000000000023" lengthAdjust="spacingAndGlyphs" >c-kit</text>
<line x1="260.70" y1="570.20" x2="260.70" y2="591.40" stroke="#111" stroke-width="1.1" />
<path d="M260.7,565.2 L257.5,573.2 L260.7,571.4000000000001 L263.9,573.2 Z" fill="#111" stroke="none" stroke-width="1" />
<line x1="260.15" y1="591.40" x2="282.30" y2="591.40" stroke="#111" stroke-width="1.1" />
<path d="M287.3,591.4 L279.7,588.4 L281.40000000000003,591.4 L279.7,594.4 Z" fill="#111" stroke="none" stroke-width="1" />
<text transform="translate(256.90,581.90) rotate(-90)" font-size="9.6" font-weight="bold" text-anchor="middle" fill="#1a1a1a" textLength="9.4" lengthAdjust="spacingAndGlyphs">KO</text>
<text x="260.80" y="602.00" font-size="8.6" text-anchor="start" font-weight="bold" fill="#1a1a1a" textLength="19.599999999999966" lengthAdjust="spacingAndGlyphs" >CD11b</text>
<rect x="286.70" y="661.40" width="24.00" height="61.90" fill="#8d83be" stroke="none" stroke-width="1" />
<rect x="310.70" y="676.60" width="24.10" height="46.70" fill="#e4077e" stroke="none" stroke-width="1" />
<line x1="273.70" y1="609.30" x2="273.70" y2="723.80" stroke="#111" stroke-width="1" />
<line x1="270.70" y1="612.90" x2="273.70" y2="612.90" stroke="#111" stroke-width="1" />
<text x="267.10" y="615.92" font-size="8.4" text-anchor="end" font-weight="normal" fill="#222"  >60</text>
<line x1="270.70" y1="649.70" x2="273.70" y2="649.70" stroke="#111" stroke-width="1" />
<text x="267.10" y="652.72" font-size="8.4" text-anchor="end" font-weight="normal" fill="#222"  >40</text>
<line x1="270.70" y1="686.50" x2="273.70" y2="686.50" stroke="#111" stroke-width="1" />
<text x="267.10" y="689.52" font-size="8.4" text-anchor="end" font-weight="normal" fill="#222"  >20</text>
<line x1="270.70" y1="723.30" x2="273.70" y2="723.30" stroke="#111" stroke-width="1" />
<text x="267.10" y="726.32" font-size="8.4" text-anchor="end" font-weight="normal" fill="#222"  >0</text>
<line x1="272.40" y1="711.03" x2="273.70" y2="711.03" stroke="#111" stroke-width="0.7" />
<line x1="272.40" y1="698.77" x2="273.70" y2="698.77" stroke="#111" stroke-width="0.7" />
<line x1="272.40" y1="674.23" x2="273.70" y2="674.23" stroke="#111" stroke-width="0.7" />
<line x1="272.40" y1="661.97" x2="273.70" y2="661.97" stroke="#111" stroke-width="0.7" />
<line x1="272.40" y1="637.43" x2="273.70" y2="637.43" stroke="#111" stroke-width="0.7" />
<line x1="272.40" y1="625.17" x2="273.70" y2="625.17" stroke="#111" stroke-width="0.7" />
<line x1="273.20" y1="723.30" x2="356.30" y2="723.30" stroke="#111" stroke-width="1" />
<line x1="298.70" y1="723.30" x2="298.70" y2="725.80" stroke="#111" stroke-width="1" />
<line x1="323.00" y1="723.30" x2="323.00" y2="725.80" stroke="#111" stroke-width="1" />
<line x1="298.70" y1="636.00" x2="298.70" y2="661.40" stroke="#111" stroke-width="1" />
<line x1="291.40" y1="636.00" x2="305.80" y2="636.00" stroke="#111" stroke-width="1" />
<circle cx="298.70" cy="632.10" r="1.45" fill="#111" stroke="none" stroke-width="1" />
<circle cx="298.70" cy="650.20" r="1.45" fill="#111" stroke="none" stroke-width="1" />
<circle cx="298.70" cy="671.80" r="1.45" fill="#111" stroke="none" stroke-width="1" />
<circle cx="298.70" cy="688.60" r="1.45" fill="#111" stroke="none" stroke-width="1" />
<line x1="323.00" y1="669.10" x2="323.00" y2="676.60" stroke="#111" stroke-width="1" />
<line x1="316.40" y1="669.10" x2="329.70" y2="669.10" stroke="#111" stroke-width="1" />
<circle cx="317.40" cy="671.50" r="1.45" fill="#111" stroke="none" stroke-width="1" />
<circle cx="323.00" cy="670.80" r="1.45" fill="#111" stroke="none" stroke-width="1" />
<circle cx="329.00" cy="672.10" r="1.45" fill="#111" stroke="none" stroke-width="1" />
<circle cx="323.00" cy="681.80" r="1.45" fill="#111" stroke="none" stroke-width="1" />
<circle cx="323.00" cy="685.60" r="1.45" fill="#111" stroke="none" stroke-width="1" />
<path d="M298.5,628.9 V625.6 H323.2 V628.9" fill="none" stroke="#111" stroke-width="0.9" />
<text x="311.00" y="622.40" font-size="7.6" text-anchor="middle" font-weight="normal" fill="#222"  >ns</text>
<text transform="translate(251.30,666.50) rotate(-90)" font-size="9.6" text-anchor="middle" fill="#222" stroke="#222" stroke-width="0.25" textLength="42.4" lengthAdjust="spacingAndGlyphs">c-Kit (+) (%)</text>
<rect x="419.20" y="627.60" width="23.40" height="96.50" fill="#8d83be" stroke="none" stroke-width="1" />
<rect x="442.60" y="639.80" width="23.40" height="84.30" fill="#e4077e" stroke="none" stroke-width="1" />
<line x1="406.60" y1="613.30" x2="406.60" y2="724.60" stroke="#111" stroke-width="1" />
<line x1="403.60" y1="616.50" x2="406.60" y2="616.50" stroke="#111" stroke-width="1" />
<text x="400.00" y="619.45" font-size="8.2" text-anchor="end" font-weight="normal" fill="#222"  >100</text>
<line x1="403.60" y1="638.02" x2="406.60" y2="638.02" stroke="#111" stroke-width="1" />
<text x="400.00" y="640.97" font-size="8.2" text-anchor="end" font-weight="normal" fill="#222"  >80</text>
<line x1="403.60" y1="659.54" x2="406.60" y2="659.54" stroke="#111" stroke-width="1" />
<text x="400.00" y="662.49" font-size="8.2" text-anchor="end" font-weight="normal" fill="#222"  >60</text>
<line x1="403.60" y1="681.06" x2="406.60" y2="681.06" stroke="#111" stroke-width="1" />
<text x="400.00" y="684.01" font-size="8.2" text-anchor="end" font-weight="normal" fill="#222"  >40</text>
<line x1="403.60" y1="702.58" x2="406.60" y2="702.58" stroke="#111" stroke-width="1" />
<text x="400.00" y="705.53" font-size="8.2" text-anchor="end" font-weight="normal" fill="#222"  >20</text>
<line x1="403.60" y1="724.10" x2="406.60" y2="724.10" stroke="#111" stroke-width="1" />
<text x="400.00" y="727.05" font-size="8.2" text-anchor="end" font-weight="normal" fill="#222"  >0</text>
<line x1="406.10" y1="724.10" x2="507.00" y2="724.10" stroke="#111" stroke-width="1" />
<line x1="430.80" y1="724.10" x2="430.80" y2="726.60" stroke="#111" stroke-width="1" />
<line x1="454.60" y1="724.10" x2="454.60" y2="726.60" stroke="#111" stroke-width="1" />
<line x1="430.80" y1="620.20" x2="430.80" y2="627.60" stroke="#111" stroke-width="1" />
<line x1="424.10" y1="620.20" x2="437.20" y2="620.20" stroke="#111" stroke-width="1" />
<circle cx="424.90" cy="623.30" r="1.45" fill="#111" stroke="none" stroke-width="1" />
<circle cx="430.80" cy="624.70" r="1.45" fill="#111" stroke="none" stroke-width="1" />
<circle cx="436.50" cy="624.20" r="1.45" fill="#111" stroke="none" stroke-width="1" />
<circle cx="430.80" cy="637.20" r="1.45" fill="#111" stroke="none" stroke-width="1" />
<line x1="454.60" y1="626.50" x2="454.60" y2="639.80" stroke="#111" stroke-width="1" />
<line x1="447.50" y1="626.50" x2="461.60" y2="626.50" stroke="#111" stroke-width="1" />
<circle cx="451.80" cy="624.80" r="1.45" fill="#111" stroke="none" stroke-width="1" />
<circle cx="457.60" cy="624.80" r="1.45" fill="#111" stroke="none" stroke-width="1" />
<circle cx="451.80" cy="646.40" r="1.45" fill="#111" stroke="none" stroke-width="1" />
<circle cx="451.80" cy="651.00" r="1.45" fill="#111" stroke="none" stroke-width="1" />
<circle cx="457.90" cy="648.20" r="1.45" fill="#111" stroke="none" stroke-width="1" />
<path d="M430.5,618.2 V614.7 H454.7 V618.2" fill="none" stroke="#111" stroke-width="0.9" />
<text x="442.70" y="611.20" font-size="7.6" text-anchor="middle" font-weight="normal" fill="#222"  >ns</text>
<text transform="translate(379.50,668.50) rotate(-90)" font-size="9.6" text-anchor="middle" fill="#222" stroke="#222" stroke-width="0.25" textLength="41.6" lengthAdjust="spacingAndGlyphs">Gr-1 (+) (%)</text>
<rect x="484.20" y="656.10" width="7.70" height="7.60" fill="#8d83be" stroke="none" stroke-width="1" />
<text x="495.40" y="662.00" font-size="6.4" text-anchor="start" font-weight="normal" fill="#222"  >shLuc</text>
<rect x="484.20" y="667.70" width="7.70" height="7.60" fill="#e4077e" stroke="none" stroke-width="1" />
<text x="495.40" y="673.60" font-size="6.4" text-anchor="start" font-weight="normal" fill="#222"  >shB-2</text><rect x="0.5" y="0.5" width="519" height="735" fill="none" stroke="#505050" stroke-width="1"/></svg>
</body></html>
